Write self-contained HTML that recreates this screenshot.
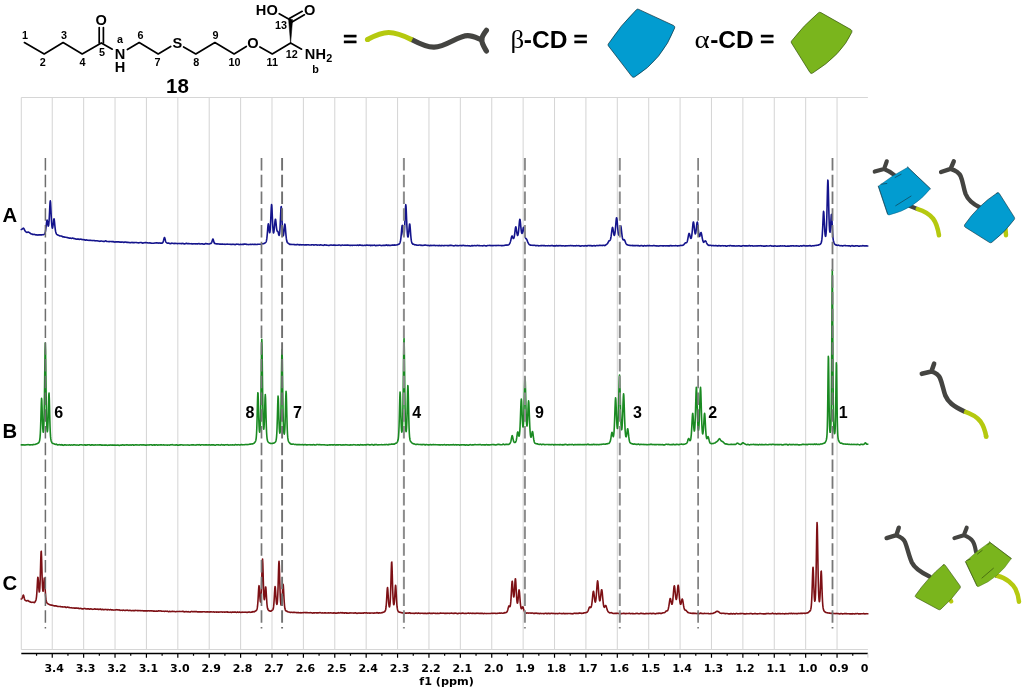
<!DOCTYPE html>
<html lang="en"><head><meta charset="utf-8"><title>NMR spectra of compound 18 with cyclodextrins</title>
<style>html,body{margin:0;padding:0;background:#fff}svg{display:block;will-change:transform}</style></head>
<body>
<svg width="1024" height="692" viewBox="0 0 1024 692">
<rect width="1024" height="692" fill="#fff"/>
<g stroke="#d6d6d6" stroke-width="1.05" fill="none">
<path d="M21.3 97.4H867.9 M21.3 649.5H867.9 M21.3 97.4V649.5"/>
<path d="M52.25 97.4V649.5 M83.64 97.4V649.5 M115.03 97.4V649.5 M146.43 97.4V649.5 M177.82 97.4V649.5 M209.21 97.4V649.5 M240.60 97.4V649.5 M271.99 97.4V649.5 M303.39 97.4V649.5 M334.78 97.4V649.5 M366.17 97.4V649.5 M397.56 97.4V649.5 M428.95 97.4V649.5 M460.35 97.4V649.5 M491.74 97.4V649.5 M523.13 97.4V649.5 M554.52 97.4V649.5 M585.91 97.4V649.5 M617.31 97.4V649.5 M648.70 97.4V649.5 M680.09 97.4V649.5 M711.48 97.4V649.5 M742.87 97.4V649.5 M774.27 97.4V649.5 M805.66 97.4V649.5 M837.05 97.4V649.5"/>
</g>
<g fill="none" stroke-width="1.6" stroke-linejoin="round" stroke-linecap="round">
<polyline stroke="#14148c" points="21.30,229.48 21.55,229.42 21.80,229.42 22.05,229.04 22.30,228.99 22.55,228.72 22.80,228.53 23.05,228.22 23.30,228.34 23.55,228.16 23.80,228.47 24.05,228.87 24.30,229.49 24.55,229.86 24.80,230.48 25.05,230.87 25.30,231.26 25.55,231.50 25.80,231.72 26.05,231.96 26.30,232.19 26.55,232.29 26.80,232.35 27.05,232.39 27.30,232.31 27.55,232.17 27.80,232.11 28.05,232.08 28.30,232.11 28.55,232.15 28.80,232.28 29.05,232.39 29.30,232.49 29.55,232.71 29.80,232.85 30.05,233.08 30.30,233.39 30.55,233.62 30.80,233.74 31.05,233.86 31.30,233.89 31.55,233.97 31.80,234.00 32.05,234.04 32.30,234.17 32.55,234.40 32.80,234.35 33.05,234.43 33.30,234.54 33.55,234.55 33.80,234.38 34.05,234.38 34.30,234.37 34.55,234.42 34.80,234.53 35.05,234.69 35.30,234.76 35.55,234.86 35.80,234.80 36.05,234.85 36.30,234.85 36.55,234.83 36.80,234.83 37.05,234.89 37.30,234.90 37.55,234.98 37.80,235.16 38.05,235.05 38.30,234.98 38.55,234.88 38.80,234.80 39.05,234.73 39.30,234.84 39.55,234.81 39.80,234.82 40.05,234.87 40.30,234.82 40.55,234.85 40.80,234.96 41.05,234.95 41.30,234.90 41.55,234.89 41.80,234.83 42.05,234.83 42.30,234.77 42.55,234.74 42.80,234.67 43.05,234.68 43.30,234.68 43.55,234.65 43.80,234.50 44.05,234.32 44.30,234.09 44.55,233.77 44.80,233.37 45.05,232.83 45.30,232.00 45.55,230.82 45.80,229.16 46.05,227.20 46.30,224.87 46.55,222.60 46.80,220.70 47.05,220.11 47.30,220.79 47.55,222.29 47.80,224.01 48.05,225.50 48.30,226.05 48.55,225.66 48.80,224.19 49.05,221.26 49.30,217.14 49.55,212.08 49.80,206.79 50.05,202.40 50.30,200.87 50.55,202.57 50.80,206.94 51.05,212.24 51.30,217.61 51.55,222.00 51.80,225.04 52.05,227.12 52.30,228.16 52.55,227.99 52.80,226.81 53.05,225.30 53.30,223.06 53.55,220.71 53.80,219.01 54.05,218.81 54.30,220.02 54.55,222.26 54.80,224.97 55.05,227.47 55.30,229.57 55.55,231.13 55.80,232.31 56.05,233.06 56.30,233.72 56.55,234.07 56.80,234.34 57.05,234.55 57.30,234.76 57.55,234.91 57.80,235.03 58.05,235.17 58.30,235.27 58.55,235.22 58.80,235.35 59.05,235.58 59.30,235.66 59.55,235.76 59.80,235.99 60.05,236.00 60.30,235.94 60.55,235.92 60.80,235.96 61.05,235.98 61.30,236.07 61.55,236.12 61.80,236.29 62.05,236.37 62.30,236.56 62.55,236.62 62.80,236.84 63.05,236.74 63.30,236.77 63.55,236.82 63.80,237.03 64.05,236.92 64.30,237.10 64.55,237.18 64.80,237.26 65.05,237.13 65.30,237.24 65.55,237.27 65.80,237.25 66.05,237.23 66.30,237.33 66.55,237.42 66.80,237.48 67.05,237.57 67.30,237.63 67.55,237.66 67.80,237.64 68.05,237.68 68.30,237.84 68.55,237.87 68.80,238.02 69.05,238.11 69.30,238.20 69.55,238.07 69.80,238.12 70.05,238.07 70.30,238.09 70.55,238.15 70.80,238.27 71.05,238.32 71.30,238.30 71.55,238.41 71.80,238.30 72.05,238.25 72.30,238.12 72.55,238.14 72.80,237.98 73.05,238.23 73.30,238.35 73.55,238.41 73.80,238.57 74.05,238.64 74.30,238.47 74.55,238.58 74.80,238.74 75.05,238.68 75.30,238.84 75.55,238.96 75.80,239.04 76.05,239.06 76.30,239.22 76.55,239.17 76.80,239.12 77.05,239.20 77.30,239.16 77.55,239.08 77.80,239.06 78.05,239.16 78.30,239.05 78.55,239.12 78.80,239.21 79.05,239.40 79.30,239.43 79.55,239.37 79.80,239.31 80.05,239.25 80.30,239.06 80.55,239.14 80.80,239.22 81.05,239.30 81.30,239.37 81.55,239.42 81.80,239.33 82.05,239.44 82.30,239.52 82.55,239.52 82.80,239.75 83.05,239.75 83.30,239.71 83.55,239.68 83.80,239.56 84.05,239.59 84.30,239.72 84.55,239.70 84.80,239.87 85.05,240.11 85.30,240.04 85.55,240.00 85.80,240.10 86.05,239.89 86.30,239.93 86.55,239.90 86.80,239.97 87.05,240.06 87.30,240.20 87.55,240.19 87.80,240.25 88.05,240.22 88.30,240.22 88.55,240.32 88.80,240.38 89.05,240.44 89.30,240.45 89.55,240.36 89.80,240.19 90.05,240.24 90.30,240.19 90.55,240.36 90.80,240.38 91.05,240.47 91.30,240.41 91.55,240.51 91.80,240.44 92.05,240.53 92.30,240.57 92.55,240.60 92.80,240.49 93.05,240.51 93.30,240.50 93.55,240.52 93.80,240.56 94.05,240.60 94.30,240.61 94.55,240.62 94.80,240.67 95.05,240.71 95.30,240.71 95.55,240.77 95.80,240.94 96.05,240.83 96.30,240.75 96.55,240.77 96.80,240.73 97.05,240.72 97.30,240.83 97.55,240.86 97.80,240.97 98.05,240.97 98.30,240.95 98.55,240.99 98.80,241.14 99.05,241.07 99.30,241.32 99.55,241.32 99.80,241.36 100.05,241.28 100.30,241.29 100.55,241.06 100.80,241.01 101.05,240.93 101.30,240.97 101.55,240.98 101.80,241.09 102.05,241.17 102.30,241.19 102.55,241.27 102.80,241.32 103.05,241.37 103.30,241.35 103.55,241.48 103.80,241.36 104.05,241.38 104.30,241.41 104.55,241.36 104.80,241.17 105.05,241.12 105.30,240.98 105.55,240.77 105.80,240.80 106.05,241.02 106.30,241.13 106.55,241.33 106.80,241.47 107.05,241.51 107.30,241.43 107.55,241.46 107.80,241.48 108.05,241.43 108.30,241.50 108.55,241.59 108.80,241.60 109.05,241.63 109.30,241.68 109.55,241.59 109.80,241.55 110.05,241.57 110.30,241.50 110.55,241.51 110.80,241.52 111.05,241.58 111.30,241.48 111.55,241.55 111.80,241.59 112.05,241.68 112.30,241.67 112.55,241.62 112.80,241.65 113.05,241.70 113.30,241.66 113.55,241.61 113.80,241.86 114.05,241.80 114.30,241.91 114.55,241.96 114.80,242.14 115.05,242.04 115.30,241.97 115.55,241.91 115.80,241.94 116.05,241.81 116.30,241.78 116.55,241.87 116.80,241.87 117.05,241.82 117.30,241.82 117.55,241.92 117.80,241.90 118.05,241.83 118.30,241.76 118.55,241.89 118.80,241.89 119.05,241.99 119.30,241.97 119.55,242.12 119.80,241.89 120.05,241.99 120.30,241.97 120.55,242.18 120.80,242.06 121.05,242.19 121.30,242.17 121.55,242.26 121.80,242.10 122.05,242.20 122.30,242.07 122.55,242.00 122.80,241.96 123.05,242.07 123.30,242.06 123.55,242.33 123.80,242.51 124.05,242.48 124.30,242.27 124.55,242.18 124.80,242.01 125.05,241.98 125.30,242.01 125.55,242.04 125.80,242.15 126.05,242.31 126.30,242.22 126.55,242.16 126.80,242.44 127.05,242.46 127.30,242.34 127.55,242.39 127.80,242.45 128.05,242.30 128.30,242.38 128.55,242.49 128.80,242.53 129.05,242.54 129.30,242.64 129.55,242.57 129.80,242.54 130.05,242.56 130.30,242.63 130.55,242.68 130.80,242.72 131.05,242.59 131.30,242.45 131.55,242.50 131.80,242.37 132.05,242.37 132.30,242.43 132.55,242.58 132.80,242.48 133.05,242.60 133.30,242.55 133.55,242.68 133.80,242.67 134.05,242.65 134.30,242.64 134.55,242.62 134.80,242.51 135.05,242.52 135.30,242.53 135.55,242.43 135.80,242.47 136.05,242.47 136.30,242.50 136.55,242.58 136.80,242.62 137.05,242.65 137.30,242.75 137.55,242.80 137.80,242.82 138.05,242.80 138.30,242.87 138.55,242.84 138.80,242.72 139.05,242.79 139.30,242.80 139.55,242.73 139.80,242.62 140.05,242.55 140.30,242.46 140.55,242.45 140.80,242.52 141.05,242.58 141.30,242.63 141.55,242.65 141.80,242.80 142.05,242.81 142.30,242.96 142.55,243.13 142.80,243.16 143.05,243.01 143.30,242.98 143.55,242.95 143.80,242.82 144.05,242.78 144.30,242.75 144.55,242.71 144.80,242.71 145.05,242.60 145.30,242.51 145.55,242.61 145.80,242.56 146.05,242.54 146.30,242.63 146.55,242.69 146.80,242.68 147.05,242.81 147.30,242.78 147.55,242.84 147.80,242.83 148.05,242.89 148.30,242.99 148.55,243.04 148.80,243.05 149.05,243.02 149.30,243.04 149.55,242.89 149.80,242.83 150.05,242.86 150.30,242.95 150.55,242.98 150.80,243.13 151.05,243.15 151.30,243.13 151.55,243.24 151.80,243.23 152.05,243.19 152.30,243.31 152.55,243.27 152.80,243.21 153.05,243.24 153.30,243.30 153.55,243.17 153.80,243.20 154.05,243.19 154.30,243.08 154.55,242.96 154.80,243.06 155.05,243.06 155.30,242.92 155.55,242.97 155.80,242.97 156.05,242.88 156.30,242.81 156.55,242.99 156.80,242.83 157.05,242.75 157.30,242.78 157.55,242.96 157.80,242.98 158.05,243.05 158.30,243.15 158.55,243.07 158.80,243.06 159.05,242.88 159.30,242.94 159.55,243.02 159.80,243.09 160.05,243.12 160.30,243.15 160.55,243.17 160.80,243.14 161.05,243.13 161.30,243.10 161.55,243.16 161.80,242.99 162.05,243.12 162.30,243.08 162.55,242.83 162.80,242.45 163.05,242.14 163.30,241.24 163.55,240.40 163.80,239.39 164.05,238.52 164.30,237.70 164.55,237.54 164.80,238.03 165.05,238.98 165.30,239.94 165.55,240.98 165.80,241.76 166.05,242.24 166.30,242.53 166.55,242.76 166.80,242.91 167.05,242.95 167.30,243.16 167.55,243.23 167.80,243.29 168.05,243.08 168.30,243.07 168.55,242.96 168.80,243.07 169.05,243.18 169.30,243.36 169.55,243.51 169.80,243.58 170.05,243.63 170.30,243.50 170.55,243.59 170.80,243.44 171.05,243.44 171.30,243.32 171.55,243.33 171.80,243.16 172.05,243.20 172.30,243.20 172.55,243.26 172.80,243.21 173.05,243.41 173.30,243.47 173.55,243.52 173.80,243.58 174.05,243.63 174.30,243.42 174.55,243.34 174.80,243.36 175.05,243.25 175.30,243.35 175.55,243.44 175.80,243.53 176.05,243.34 176.30,243.49 176.55,243.44 176.80,243.54 177.05,243.53 177.30,243.70 177.55,243.63 177.80,243.68 178.05,243.53 178.30,243.46 178.55,243.46 178.80,243.46 179.05,243.41 179.30,243.50 179.55,243.60 179.80,243.52 180.05,243.56 180.30,243.52 180.55,243.51 180.80,243.55 181.05,243.66 181.30,243.56 181.55,243.68 181.80,243.64 182.05,243.63 182.30,243.44 182.55,243.45 182.80,243.37 183.05,243.43 183.30,243.47 183.55,243.66 183.80,243.83 184.05,243.95 184.30,243.95 184.55,243.84 184.80,243.86 185.05,243.76 185.30,243.68 185.55,243.62 185.80,243.63 186.05,243.39 186.30,243.36 186.55,243.31 186.80,243.44 187.05,243.43 187.30,243.59 187.55,243.71 187.80,243.71 188.05,243.69 188.30,243.60 188.55,243.63 188.80,243.57 189.05,243.70 189.30,243.63 189.55,243.77 189.80,243.79 190.05,243.77 190.30,243.73 190.55,243.82 190.80,243.82 191.05,243.74 191.30,243.67 191.55,243.83 191.80,243.92 192.05,243.81 192.30,243.91 192.55,244.03 192.80,243.92 193.05,243.81 193.30,243.85 193.55,243.81 193.80,243.74 194.05,243.70 194.30,243.68 194.55,243.74 194.80,243.82 195.05,243.93 195.30,243.85 195.55,243.84 195.80,243.80 196.05,243.82 196.30,243.74 196.55,243.91 196.80,243.91 197.05,243.97 197.30,243.81 197.55,243.90 197.80,243.79 198.05,243.73 198.30,243.69 198.55,243.63 198.80,243.55 199.05,243.58 199.30,243.70 199.55,243.84 199.80,243.97 200.05,244.03 200.30,244.04 200.55,244.01 200.80,243.79 201.05,243.87 201.30,243.79 201.55,243.77 201.80,243.71 202.05,243.86 202.30,243.81 202.55,243.85 202.80,243.84 203.05,243.99 203.30,244.04 203.55,244.08 203.80,244.29 204.05,244.26 204.30,244.17 204.55,244.05 204.80,244.03 205.05,243.78 205.30,243.64 205.55,243.59 205.80,243.66 206.05,243.70 206.30,243.64 206.55,243.78 206.80,243.85 207.05,243.79 207.30,243.76 207.55,243.86 207.80,243.91 208.05,243.87 208.30,244.01 208.55,243.97 208.80,244.04 209.05,243.98 209.30,244.05 209.55,243.89 209.80,243.81 210.05,243.65 210.30,243.63 210.55,243.52 210.80,243.56 211.05,243.39 211.30,243.10 211.55,242.80 211.80,242.26 212.05,241.27 212.30,240.49 212.55,239.72 212.80,238.96 213.05,238.96 213.30,239.70 213.55,240.60 213.80,241.53 214.05,242.41 214.30,243.06 214.55,243.43 214.80,243.58 215.05,243.61 215.30,243.74 215.55,243.61 215.80,243.71 216.05,243.73 216.30,243.79 216.55,243.81 216.80,244.04 217.05,243.89 217.30,243.92 217.55,243.96 217.80,243.90 218.05,243.89 218.30,243.89 218.55,243.97 218.80,244.00 219.05,244.05 219.30,244.08 219.55,244.14 219.80,244.19 220.05,244.12 220.30,244.17 220.55,244.09 220.80,244.22 221.05,244.21 221.30,244.16 221.55,244.11 221.80,244.13 222.05,244.07 222.30,243.97 222.55,244.19 222.80,244.22 223.05,244.32 223.30,244.31 223.55,244.29 223.80,244.18 224.05,244.14 224.30,244.20 224.55,244.25 224.80,244.40 225.05,244.38 225.30,244.39 225.55,244.24 225.80,244.25 226.05,244.24 226.30,244.25 226.55,244.23 226.80,244.16 227.05,244.14 227.30,244.12 227.55,244.16 227.80,244.21 228.05,244.24 228.30,244.26 228.55,244.26 228.80,244.23 229.05,244.24 229.30,244.28 229.55,244.33 229.80,244.27 230.05,244.28 230.30,244.30 230.55,244.36 230.80,244.40 231.05,244.48 231.30,244.50 231.55,244.39 231.80,244.38 232.05,244.44 232.30,244.34 232.55,244.24 232.80,244.32 233.05,244.35 233.30,244.24 233.55,244.27 233.80,244.33 234.05,244.42 234.30,244.40 234.55,244.52 234.80,244.62 235.05,244.64 235.30,244.62 235.55,244.56 235.80,244.34 236.05,244.29 236.30,244.30 236.55,244.17 236.80,244.16 237.05,244.21 237.30,244.21 237.55,244.17 237.80,244.29 238.05,244.33 238.30,244.42 238.55,244.30 238.80,244.42 239.05,244.49 239.30,244.49 239.55,244.46 239.80,244.61 240.05,244.46 240.30,244.38 240.55,244.43 240.80,244.41 241.05,244.44 241.30,244.50 241.55,244.49 241.80,244.39 242.05,244.35 242.30,244.26 242.55,244.36 242.80,244.37 243.05,244.36 243.30,244.41 243.55,244.43 243.80,244.13 244.05,244.14 244.30,244.11 244.55,244.12 244.80,244.07 245.05,244.18 245.30,244.18 245.55,244.18 245.80,244.12 246.05,244.19 246.30,244.33 246.55,244.35 246.80,244.44 247.05,244.42 247.30,244.53 247.55,244.45 247.80,244.52 248.05,244.49 248.30,244.62 248.55,244.56 248.80,244.54 249.05,244.44 249.30,244.52 249.55,244.49 249.80,244.41 250.05,244.50 250.30,244.45 250.55,244.33 250.80,244.34 251.05,244.32 251.30,244.39 251.55,244.45 251.80,244.47 252.05,244.39 252.30,244.41 252.55,244.26 252.80,244.26 253.05,244.28 253.30,244.39 253.55,244.47 253.80,244.46 254.05,244.43 254.30,244.44 254.55,244.23 254.80,244.23 255.05,244.35 255.30,244.40 255.55,244.39 255.80,244.55 256.05,244.47 256.30,244.47 256.55,244.52 256.80,244.55 257.05,244.39 257.30,244.37 257.55,244.35 257.80,244.30 258.05,244.21 258.30,244.28 258.55,244.31 258.80,244.28 259.05,244.25 259.30,244.25 259.55,244.23 259.80,244.26 260.05,244.24 260.30,244.20 260.55,244.31 260.80,244.33 261.05,244.27 261.30,244.21 261.55,244.07 261.80,243.88 262.05,243.85 262.30,243.77 262.55,243.71 262.80,243.78 263.05,243.76 263.30,243.71 263.55,243.66 263.80,243.58 264.05,243.33 264.30,243.40 264.55,243.31 264.80,243.02 265.05,242.90 265.30,242.89 265.55,242.54 265.80,242.24 266.05,241.87 266.30,241.21 266.55,240.14 266.80,238.63 267.05,236.51 267.30,233.94 267.55,230.89 267.80,227.67 268.05,225.06 268.30,223.90 268.55,224.53 268.80,226.52 269.05,229.08 269.30,231.35 269.55,232.65 269.80,232.63 270.05,231.28 270.30,228.40 270.55,223.94 270.80,218.39 271.05,212.36 271.30,207.20 271.55,204.53 271.80,205.56 272.05,209.82 272.30,215.73 272.55,221.54 272.80,226.47 273.05,230.19 273.30,232.36 273.55,233.05 273.80,232.44 274.05,231.00 274.30,228.77 274.55,225.98 274.80,223.27 275.05,220.84 275.30,219.28 275.55,219.23 275.80,220.75 276.05,223.06 276.30,225.71 276.55,228.06 276.80,229.82 277.05,230.85 277.30,231.18 277.55,231.28 277.80,231.34 278.05,231.81 278.30,232.80 278.55,234.00 278.80,234.95 279.05,235.42 279.30,235.21 279.55,233.82 279.80,231.40 280.05,227.38 280.30,222.32 280.55,216.44 280.80,210.75 281.05,206.92 281.30,206.63 281.55,209.82 281.80,215.07 282.05,221.02 282.30,226.38 282.55,230.66 282.80,233.68 283.05,235.33 283.30,235.75 283.55,234.99 283.80,233.13 284.05,230.59 284.30,227.91 284.55,225.53 284.80,224.12 285.05,224.72 285.30,226.90 285.55,229.94 285.80,233.05 286.05,235.94 286.30,238.16 286.55,239.87 286.80,241.05 287.05,241.90 287.30,242.44 287.55,242.74 287.80,243.00 288.05,243.18 288.30,243.19 288.55,243.35 288.80,243.66 289.05,243.92 289.30,244.15 289.55,244.30 289.80,244.41 290.05,244.44 290.30,244.21 290.55,244.21 290.80,244.34 291.05,244.32 291.30,244.30 291.55,244.46 291.80,244.54 292.05,244.50 292.30,244.50 292.55,244.50 292.80,244.54 293.05,244.34 293.30,244.47 293.55,244.52 293.80,244.57 294.05,244.58 294.30,244.70 294.55,244.60 294.80,244.61 295.05,244.59 295.30,244.66 295.55,244.71 295.80,244.73 296.05,244.87 296.30,244.78 296.55,244.63 296.80,244.64 297.05,244.65 297.30,244.42 297.55,244.49 297.80,244.53 298.05,244.59 298.30,244.57 298.55,244.76 298.80,244.82 299.05,244.85 299.30,244.79 299.55,244.86 299.80,244.65 300.05,244.65 300.30,244.65 300.55,244.77 300.80,244.70 301.05,244.93 301.30,244.75 301.55,244.83 301.80,244.74 302.05,244.77 302.30,244.70 302.55,244.84 302.80,244.82 303.05,244.80 303.30,244.71 303.55,244.71 303.80,244.87 304.05,244.85 304.30,244.88 304.55,244.97 304.80,245.00 305.05,244.87 305.30,244.86 305.55,244.90 305.80,244.87 306.05,244.85 306.30,244.88 306.55,244.88 306.80,244.75 307.05,244.85 307.30,244.80 307.55,244.74 307.80,244.71 308.05,244.78 308.30,244.72 308.55,244.76 308.80,244.83 309.05,245.00 309.30,244.99 309.55,245.05 309.80,245.06 310.05,245.03 310.30,244.99 310.55,245.02 310.80,244.93 311.05,244.91 311.30,244.87 311.55,244.80 311.80,244.85 312.05,244.82 312.30,244.81 312.55,244.79 312.80,244.68 313.05,244.71 313.30,244.80 313.55,244.99 313.80,244.96 314.05,245.16 314.30,245.03 314.55,245.01 314.80,244.83 315.05,244.86 315.30,244.69 315.55,244.75 315.80,244.70 316.05,244.75 316.30,244.81 316.55,244.94 316.80,244.94 317.05,245.04 317.30,245.09 317.55,245.09 317.80,245.08 318.05,245.01 318.30,244.94 318.55,245.03 318.80,245.04 319.05,244.97 319.30,245.12 319.55,245.16 319.80,245.00 320.05,244.91 320.30,245.01 320.55,244.85 320.80,244.83 321.05,244.92 321.30,245.02 321.55,244.97 321.80,245.03 322.05,245.14 322.30,245.24 322.55,245.20 322.80,245.24 323.05,245.38 323.30,245.38 323.55,245.19 323.80,245.20 324.05,245.13 324.30,244.95 324.55,244.84 324.80,244.90 325.05,244.89 325.30,244.99 325.55,245.06 325.80,245.08 326.05,245.12 326.30,245.18 326.55,245.14 326.80,245.20 327.05,245.26 327.30,245.20 327.55,245.24 327.80,245.25 328.05,245.37 328.30,245.41 328.55,245.49 328.80,245.51 329.05,245.50 329.30,245.40 329.55,245.33 329.80,245.21 330.05,245.09 330.30,245.12 330.55,244.94 330.80,244.95 331.05,244.96 331.30,245.04 331.55,244.96 331.80,245.18 332.05,245.22 332.30,245.19 332.55,245.26 332.80,245.29 333.05,245.13 333.30,245.01 333.55,245.13 333.80,245.12 334.05,245.10 334.30,245.08 334.55,245.08 334.80,245.14 335.05,245.15 335.30,245.16 335.55,245.26 335.80,245.34 336.05,245.24 336.30,245.20 336.55,245.25 336.80,245.24 337.05,245.22 337.30,245.28 337.55,245.20 337.80,245.18 338.05,245.17 338.30,245.11 338.55,245.04 338.80,245.04 339.05,245.05 339.30,244.96 339.55,244.97 339.80,245.09 340.05,245.19 340.30,245.24 340.55,245.43 340.80,245.53 341.05,245.42 341.30,245.38 341.55,245.21 341.80,245.02 342.05,245.04 342.30,245.05 342.55,244.94 342.80,245.11 343.05,245.24 343.30,245.24 343.55,245.23 343.80,245.26 344.05,245.23 344.30,245.19 344.55,245.13 344.80,245.17 345.05,245.25 345.30,245.26 345.55,245.11 345.80,245.20 346.05,245.27 346.30,245.23 346.55,245.11 346.80,245.29 347.05,245.19 347.30,245.02 347.55,245.12 347.80,245.13 348.05,245.14 348.30,245.09 348.55,245.24 348.80,245.20 349.05,245.27 349.30,245.24 349.55,245.36 349.80,245.32 350.05,245.34 350.30,245.39 350.55,245.35 350.80,245.36 351.05,245.22 351.30,245.24 351.55,245.26 351.80,245.38 352.05,245.30 352.30,245.40 352.55,245.39 352.80,245.36 353.05,245.24 353.30,245.30 353.55,245.29 353.80,245.30 354.05,245.24 354.30,245.29 354.55,245.29 354.80,245.34 355.05,245.27 355.30,245.32 355.55,245.30 355.80,245.28 356.05,245.23 356.30,245.22 356.55,245.39 356.80,245.34 357.05,245.27 357.30,245.22 357.55,245.19 357.80,245.01 358.05,245.16 358.30,245.35 358.55,245.41 358.80,245.30 359.05,245.32 359.30,245.15 359.55,245.01 359.80,244.92 360.05,245.11 360.30,245.05 360.55,245.18 360.80,245.25 361.05,245.31 361.30,245.28 361.55,245.38 361.80,245.31 362.05,245.34 362.30,245.36 362.55,245.37 362.80,245.36 363.05,245.47 363.30,245.45 363.55,245.45 363.80,245.48 364.05,245.33 364.30,245.36 364.55,245.24 364.80,245.29 365.05,245.21 365.30,245.34 365.55,245.23 365.80,245.34 366.05,245.23 366.30,245.13 366.55,245.12 366.80,245.09 367.05,245.03 367.30,245.04 367.55,245.30 367.80,245.24 368.05,245.30 368.30,245.27 368.55,245.41 368.80,245.25 369.05,245.12 369.30,245.28 369.55,245.28 369.80,245.27 370.05,245.35 370.30,245.56 370.55,245.37 370.80,245.46 371.05,245.45 371.30,245.39 371.55,245.36 371.80,245.44 372.05,245.43 372.30,245.33 372.55,245.44 372.80,245.44 373.05,245.38 373.30,245.32 373.55,245.29 373.80,245.25 374.05,245.29 374.30,245.16 374.55,245.17 374.80,245.30 375.05,245.40 375.30,245.47 375.55,245.67 375.80,245.80 376.05,245.71 376.30,245.60 376.55,245.38 376.80,245.29 377.05,245.22 377.30,245.39 377.55,245.39 377.80,245.49 378.05,245.51 378.30,245.41 378.55,245.31 378.80,245.24 379.05,245.24 379.30,245.19 379.55,245.28 379.80,245.15 380.05,245.20 380.30,245.27 380.55,245.38 380.80,245.51 381.05,245.63 381.30,245.63 381.55,245.58 381.80,245.46 382.05,245.47 382.30,245.51 382.55,245.46 382.80,245.37 383.05,245.46 383.30,245.38 383.55,245.32 383.80,245.35 384.05,245.39 384.30,245.35 384.55,245.38 384.80,245.46 385.05,245.35 385.30,245.37 385.55,245.30 385.80,245.12 386.05,245.07 386.30,245.11 386.55,244.90 386.80,245.01 387.05,245.18 387.30,245.27 387.55,245.30 387.80,245.59 388.05,245.37 388.30,245.22 388.55,245.12 388.80,245.17 389.05,245.16 389.30,245.39 389.55,245.45 389.80,245.51 390.05,245.52 390.30,245.54 390.55,245.42 390.80,245.44 391.05,245.31 391.30,245.31 391.55,245.18 391.80,245.20 392.05,245.09 392.30,245.13 392.55,245.14 392.80,245.21 393.05,245.02 393.30,244.99 393.55,245.09 393.80,244.99 394.05,244.91 394.30,245.16 394.55,245.26 394.80,245.07 395.05,245.05 395.30,245.16 395.55,244.97 395.80,245.02 396.05,245.01 396.30,244.97 396.55,244.93 396.80,244.94 397.05,244.87 397.30,244.81 397.55,244.68 397.80,244.48 398.05,244.52 398.30,244.37 398.55,244.33 398.80,244.31 399.05,244.17 399.30,243.88 399.55,243.65 399.80,243.12 400.05,242.54 400.30,241.62 400.55,240.47 400.80,238.79 401.05,236.59 401.30,233.86 401.55,230.85 401.80,227.86 402.05,225.74 402.30,225.44 402.55,226.83 402.80,229.19 403.05,231.75 403.30,234.06 403.55,235.29 403.80,235.43 404.05,234.49 404.30,232.31 404.55,228.55 404.80,223.64 405.05,217.69 405.30,211.58 405.55,206.60 405.80,204.68 406.05,206.59 406.30,211.70 406.55,217.92 406.80,223.97 407.05,229.04 407.30,233.00 407.55,235.54 407.80,236.87 408.05,236.96 408.30,236.05 408.55,234.20 408.80,231.57 409.05,228.61 409.30,225.79 409.55,223.98 409.80,223.98 410.05,226.00 410.30,229.16 410.55,232.64 410.80,235.78 411.05,238.48 411.30,240.39 411.55,241.65 411.80,242.63 412.05,243.28 412.30,243.52 412.55,243.82 412.80,244.08 413.05,244.06 413.30,244.05 413.55,244.26 413.80,244.36 414.05,244.46 414.30,244.56 414.55,244.74 414.80,244.83 415.05,244.74 415.30,244.75 415.55,244.89 415.80,245.00 416.05,244.84 416.30,244.97 416.55,245.12 416.80,245.09 417.05,245.04 417.30,245.28 417.55,245.24 417.80,245.20 418.05,245.29 418.30,245.22 418.55,245.18 418.80,245.15 419.05,245.15 419.30,245.02 419.55,245.02 419.80,244.95 420.05,245.00 420.30,245.03 420.55,245.15 420.80,245.29 421.05,245.44 421.30,245.45 421.55,245.34 421.80,245.29 422.05,245.33 422.30,245.37 422.55,245.44 422.80,245.44 423.05,245.47 423.30,245.35 423.55,245.30 423.80,245.22 424.05,245.25 424.30,245.21 424.55,245.17 424.80,244.96 425.05,244.98 425.30,245.01 425.55,245.07 425.80,245.18 426.05,245.28 426.30,245.28 426.55,245.20 426.80,245.24 427.05,245.38 427.30,245.45 427.55,245.42 427.80,245.57 428.05,245.50 428.30,245.41 428.55,245.39 428.80,245.49 429.05,245.63 429.30,245.64 429.55,245.57 429.80,245.63 430.05,245.62 430.30,245.38 430.55,245.39 430.80,245.46 431.05,245.51 431.30,245.45 431.55,245.41 431.80,245.57 432.05,245.44 432.30,245.42 432.55,245.51 432.80,245.52 433.05,245.45 433.30,245.47 433.55,245.36 433.80,245.24 434.05,245.37 434.30,245.29 434.55,245.44 434.80,245.45 435.05,245.58 435.30,245.62 435.55,245.65 435.80,245.51 436.05,245.54 436.30,245.58 436.55,245.54 436.80,245.52 437.05,245.48 437.30,245.55 437.55,245.58 437.80,245.64 438.05,245.69 438.30,245.79 438.55,245.70 438.80,245.56 439.05,245.35 439.30,245.46 439.55,245.47 439.80,245.67 440.05,245.71 440.30,245.71 440.55,245.69 440.80,245.64 441.05,245.46 441.30,245.57 441.55,245.77 441.80,245.52 442.05,245.58 442.30,245.54 442.55,245.47 442.80,245.49 443.05,245.59 443.30,245.69 443.55,245.70 443.80,245.80 444.05,245.64 444.30,245.64 444.55,245.56 444.80,245.54 445.05,245.50 445.30,245.48 445.55,245.55 445.80,245.45 446.05,245.55 446.30,245.45 446.55,245.49 446.80,245.49 447.05,245.50 447.30,245.59 447.55,245.60 447.80,245.45 448.05,245.55 448.30,245.65 448.55,245.65 448.80,245.63 449.05,245.67 449.30,245.51 449.55,245.40 449.80,245.30 450.05,245.28 450.30,245.44 450.55,245.36 450.80,245.44 451.05,245.41 451.30,245.49 451.55,245.37 451.80,245.45 452.05,245.56 452.30,245.51 452.55,245.52 452.80,245.71 453.05,245.74 453.30,245.70 453.55,245.84 453.80,245.89 454.05,245.79 454.30,245.78 454.55,245.77 454.80,245.66 455.05,245.56 455.30,245.54 455.55,245.40 455.80,245.37 456.05,245.52 456.30,245.50 456.55,245.55 456.80,245.67 457.05,245.60 457.30,245.50 457.55,245.60 457.80,245.73 458.05,245.81 458.30,245.80 458.55,245.70 458.80,245.72 459.05,245.60 459.30,245.51 459.55,245.50 459.80,245.54 460.05,245.54 460.30,245.51 460.55,245.46 460.80,245.59 461.05,245.66 461.30,245.56 461.55,245.60 461.80,245.64 462.05,245.65 462.30,245.54 462.55,245.50 462.80,245.37 463.05,245.40 463.30,245.29 463.55,245.36 463.80,245.42 464.05,245.54 464.30,245.58 464.55,245.64 464.80,245.77 465.05,245.75 465.30,245.62 465.55,245.68 465.80,245.78 466.05,245.69 466.30,245.76 466.55,245.81 466.80,245.76 467.05,245.69 467.30,245.70 467.55,245.61 467.80,245.76 468.05,245.76 468.30,245.78 468.55,245.78 468.80,245.87 469.05,245.83 469.30,245.80 469.55,245.80 469.80,245.91 470.05,245.98 470.30,245.97 470.55,246.09 470.80,245.96 471.05,245.91 471.30,245.79 471.55,245.63 471.80,245.53 472.05,245.68 472.30,245.54 472.55,245.66 472.80,245.86 473.05,245.77 473.30,245.77 473.55,245.82 473.80,245.66 474.05,245.55 474.30,245.61 474.55,245.47 474.80,245.43 475.05,245.51 475.30,245.62 475.55,245.74 475.80,245.79 476.05,245.81 476.30,245.71 476.55,245.68 476.80,245.48 477.05,245.43 477.30,245.40 477.55,245.47 477.80,245.39 478.05,245.49 478.30,245.58 478.55,245.64 478.80,245.56 479.05,245.56 479.30,245.59 479.55,245.61 479.80,245.66 480.05,245.68 480.30,245.76 480.55,245.82 480.80,245.79 481.05,245.74 481.30,245.80 481.55,245.77 481.80,245.71 482.05,245.81 482.30,245.82 482.55,245.87 482.80,245.85 483.05,245.76 483.30,245.69 483.55,245.65 483.80,245.55 484.05,245.47 484.30,245.53 484.55,245.47 484.80,245.61 485.05,245.75 485.30,245.79 485.55,245.84 485.80,245.96 486.05,245.81 486.30,245.83 486.55,245.91 486.80,245.85 487.05,245.66 487.30,245.61 487.55,245.51 487.80,245.43 488.05,245.43 488.30,245.50 488.55,245.57 488.80,245.52 489.05,245.45 489.30,245.43 489.55,245.44 489.80,245.33 490.05,245.45 490.30,245.54 490.55,245.54 490.80,245.62 491.05,245.72 491.30,245.67 491.55,245.58 491.80,245.54 492.05,245.52 492.30,245.62 492.55,245.57 492.80,245.68 493.05,245.69 493.30,245.65 493.55,245.51 493.80,245.50 494.05,245.53 494.30,245.45 494.55,245.47 494.80,245.46 495.05,245.42 495.30,245.45 495.55,245.59 495.80,245.64 496.05,245.57 496.30,245.59 496.55,245.48 496.80,245.42 497.05,245.39 497.30,245.56 497.55,245.51 497.80,245.47 498.05,245.43 498.30,245.47 498.55,245.37 498.80,245.43 499.05,245.47 499.30,245.48 499.55,245.43 499.80,245.48 500.05,245.54 500.30,245.55 500.55,245.58 500.80,245.52 501.05,245.58 501.30,245.58 501.55,245.58 501.80,245.64 502.05,245.63 502.30,245.66 502.55,245.54 502.80,245.51 503.05,245.44 503.30,245.57 503.55,245.44 503.80,245.53 504.05,245.54 504.30,245.47 504.55,245.39 504.80,245.33 505.05,245.16 505.30,245.12 505.55,245.21 505.80,245.25 506.05,245.18 506.30,245.09 506.55,245.15 506.80,245.09 507.05,244.90 507.30,244.98 507.55,245.11 507.80,245.12 508.05,245.03 508.30,245.06 508.55,244.91 508.80,244.70 509.05,244.44 509.30,244.15 509.55,243.68 509.80,243.37 510.05,242.74 510.30,242.04 510.55,241.26 510.80,240.35 511.05,239.13 511.30,238.04 511.55,237.01 511.80,236.25 512.05,235.96 512.30,236.22 512.55,236.80 512.80,237.42 513.05,238.12 513.30,238.49 513.55,238.51 513.80,238.23 514.05,237.56 514.30,236.46 514.55,234.99 514.80,233.04 515.05,230.90 515.30,228.95 515.55,227.41 515.80,226.71 516.05,227.34 516.30,228.74 516.55,230.57 516.80,232.32 517.05,233.89 517.30,234.89 517.55,235.46 517.80,235.28 518.05,234.57 518.30,233.21 518.55,231.30 518.80,228.71 519.05,225.83 519.30,223.00 519.55,220.70 519.80,219.38 520.05,219.46 520.30,221.06 520.55,223.55 520.80,226.31 521.05,228.93 521.30,231.17 521.55,232.67 521.80,233.32 522.05,233.44 522.30,232.85 522.55,231.77 522.80,230.39 523.05,228.95 523.30,227.78 523.55,227.31 523.80,227.82 524.05,229.05 524.30,230.89 524.55,232.76 524.80,234.70 525.05,236.04 525.30,237.22 525.55,238.04 525.80,238.50 526.05,238.68 526.30,238.89 526.55,239.20 526.80,239.53 527.05,240.19 527.30,240.85 527.55,241.59 527.80,242.11 528.05,242.72 528.30,243.19 528.55,243.60 528.80,244.01 529.05,244.30 529.30,244.64 529.55,244.75 529.80,244.81 530.05,244.94 530.30,245.15 530.55,245.11 530.80,245.14 531.05,245.30 531.30,245.20 531.55,245.21 531.80,245.16 532.05,245.21 532.30,245.18 532.55,245.34 532.80,245.19 533.05,245.32 533.30,245.33 533.55,245.35 533.80,245.23 534.05,245.28 534.30,245.25 534.55,245.26 534.80,245.37 535.05,245.44 535.30,245.54 535.55,245.62 535.80,245.54 536.05,245.51 536.30,245.57 536.55,245.63 536.80,245.57 537.05,245.61 537.30,245.50 537.55,245.47 537.80,245.45 538.05,245.56 538.30,245.74 538.55,245.87 538.80,245.86 539.05,245.85 539.30,245.76 539.55,245.73 539.80,245.72 540.05,245.74 540.30,245.64 540.55,245.73 540.80,245.57 541.05,245.61 541.30,245.66 541.55,245.65 541.80,245.58 542.05,245.60 542.30,245.52 542.55,245.49 542.80,245.59 543.05,245.51 543.30,245.61 543.55,245.64 543.80,245.60 544.05,245.55 544.30,245.61 544.55,245.62 544.80,245.59 545.05,245.73 545.30,245.82 545.55,245.83 545.80,245.84 546.05,245.78 546.30,245.68 546.55,245.77 546.80,245.73 547.05,245.72 547.30,245.84 547.55,245.70 547.80,245.71 548.05,245.70 548.30,245.66 548.55,245.64 548.80,245.73 549.05,245.68 549.30,245.76 549.55,245.82 549.80,245.80 550.05,245.91 550.30,245.73 550.55,245.74 550.80,245.69 551.05,245.63 551.30,245.48 551.55,245.57 551.80,245.59 552.05,245.55 552.30,245.60 552.55,245.67 552.80,245.64 553.05,245.67 553.30,245.89 553.55,245.86 553.80,245.90 554.05,245.95 554.30,245.92 554.55,245.75 554.80,245.94 555.05,245.86 555.30,245.93 555.55,245.93 555.80,245.88 556.05,245.60 556.30,245.66 556.55,245.66 556.80,245.59 557.05,245.62 557.30,245.82 557.55,245.84 557.80,245.85 558.05,245.90 558.30,245.89 558.55,245.75 558.80,245.57 559.05,245.50 559.30,245.61 559.55,245.69 559.80,245.77 560.05,245.80 560.30,245.76 560.55,245.64 560.80,245.59 561.05,245.66 561.30,245.74 561.55,245.83 561.80,245.82 562.05,245.83 562.30,245.85 562.55,245.81 562.80,245.75 563.05,245.68 563.30,245.69 563.55,245.68 563.80,245.77 564.05,245.84 564.30,245.99 564.55,246.02 564.80,246.01 565.05,245.99 565.30,245.88 565.55,245.85 565.80,245.87 566.05,245.76 566.30,245.75 566.55,245.88 566.80,245.83 567.05,245.68 567.30,245.74 567.55,245.83 567.80,245.70 568.05,245.72 568.30,245.76 568.55,245.73 568.80,245.64 569.05,245.80 569.30,245.76 569.55,245.76 569.80,245.73 570.05,245.64 570.30,245.45 570.55,245.44 570.80,245.48 571.05,245.54 571.30,245.68 571.55,245.73 571.80,245.73 572.05,245.69 572.30,245.70 572.55,245.62 572.80,245.72 573.05,245.72 573.30,245.83 573.55,245.88 573.80,245.87 574.05,245.78 574.30,245.84 574.55,245.73 574.80,245.80 575.05,245.83 575.30,245.92 575.55,245.82 575.80,245.76 576.05,245.68 576.30,245.70 576.55,245.60 576.80,245.65 577.05,245.72 577.30,245.69 577.55,245.71 577.80,245.66 578.05,245.73 578.30,245.72 578.55,245.67 578.80,245.60 579.05,245.61 579.30,245.76 579.55,245.97 579.80,246.05 580.05,246.11 580.30,246.13 580.55,246.10 580.80,245.94 581.05,245.89 581.30,245.92 581.55,246.00 581.80,245.80 582.05,245.79 582.30,245.77 582.55,245.70 582.80,245.71 583.05,245.80 583.30,245.89 583.55,245.92 583.80,245.97 584.05,246.05 584.30,245.93 584.55,245.90 584.80,245.83 585.05,245.67 585.30,245.66 585.55,245.81 585.80,245.80 586.05,245.84 586.30,246.03 586.55,245.84 586.80,245.77 587.05,245.76 587.30,245.88 587.55,245.68 587.80,245.57 588.05,245.57 588.30,245.56 588.55,245.49 588.80,245.53 589.05,245.72 589.30,245.62 589.55,245.62 589.80,245.67 590.05,245.67 590.30,245.55 590.55,245.64 590.80,245.59 591.05,245.53 591.30,245.66 591.55,245.79 591.80,245.93 592.05,245.97 592.30,245.90 592.55,245.89 592.80,245.87 593.05,245.71 593.30,245.70 593.55,245.77 593.80,245.60 594.05,245.55 594.30,245.65 594.55,245.64 594.80,245.67 595.05,245.83 595.30,246.00 595.55,245.88 595.80,245.82 596.05,245.72 596.30,245.61 596.55,245.43 596.80,245.47 597.05,245.50 597.30,245.59 597.55,245.55 597.80,245.56 598.05,245.58 598.30,245.62 598.55,245.43 598.80,245.46 599.05,245.48 599.30,245.32 599.55,245.30 599.80,245.52 600.05,245.42 600.30,245.33 600.55,245.51 600.80,245.55 601.05,245.38 601.30,245.43 601.55,245.56 601.80,245.47 602.05,245.35 602.30,245.52 602.55,245.58 602.80,245.41 603.05,245.42 603.30,245.34 603.55,245.26 603.80,245.28 604.05,245.40 604.30,245.42 604.55,245.60 604.80,245.56 605.05,245.43 605.30,245.29 605.55,245.19 605.80,244.93 606.05,244.70 606.30,244.59 606.55,244.41 606.80,244.13 607.05,243.99 607.30,243.76 607.55,243.41 607.80,243.09 608.05,242.57 608.30,242.03 608.55,241.55 608.80,241.12 609.05,240.82 609.30,240.62 609.55,240.66 609.80,240.56 610.05,240.29 610.30,239.87 610.55,239.22 610.80,238.04 611.05,236.66 611.30,234.89 611.55,232.91 611.80,230.90 612.05,229.03 612.30,227.71 612.55,227.41 612.80,227.98 613.05,229.35 613.30,231.07 613.55,232.73 613.80,234.19 614.05,235.11 614.30,235.38 614.55,235.09 614.80,234.09 615.05,232.43 615.30,230.09 615.55,227.30 615.80,224.21 616.05,221.23 616.30,218.81 616.55,217.79 616.80,218.16 617.05,219.94 617.30,222.75 617.55,225.94 617.80,228.87 618.05,231.44 618.30,233.37 618.55,234.70 618.80,235.12 619.05,234.78 619.30,233.87 619.55,232.68 619.80,230.81 620.05,228.74 620.30,227.06 620.55,226.14 620.80,225.89 621.05,226.93 621.30,228.99 621.55,231.24 621.80,233.47 622.05,235.53 622.30,237.21 622.55,238.47 622.80,239.39 623.05,239.77 623.30,239.99 623.55,239.84 623.80,239.71 624.05,239.59 624.30,239.80 624.55,240.06 624.80,240.62 625.05,241.19 625.30,241.85 625.55,242.54 625.80,243.06 626.05,243.61 626.30,243.95 626.55,244.33 626.80,244.36 627.05,244.71 627.30,244.79 627.55,244.85 627.80,244.93 628.05,245.10 628.30,245.10 628.55,245.25 628.80,245.30 629.05,245.24 629.30,245.30 629.55,245.35 629.80,245.25 630.05,245.29 630.30,245.41 630.55,245.49 630.80,245.57 631.05,245.61 631.30,245.51 631.55,245.51 631.80,245.52 632.05,245.35 632.30,245.38 632.55,245.58 632.80,245.58 633.05,245.51 633.30,245.62 633.55,245.66 633.80,245.54 634.05,245.58 634.30,245.60 634.55,245.65 634.80,245.57 635.05,245.58 635.30,245.61 635.55,245.74 635.80,245.58 636.05,245.55 636.30,245.67 636.55,245.53 636.80,245.48 637.05,245.55 637.30,245.61 637.55,245.62 637.80,245.55 638.05,245.49 638.30,245.67 638.55,245.74 638.80,245.67 639.05,245.88 639.30,246.03 639.55,245.99 639.80,245.92 640.05,245.94 640.30,245.86 640.55,245.66 640.80,245.58 641.05,245.56 641.30,245.55 641.55,245.59 641.80,245.63 642.05,245.61 642.30,245.82 642.55,245.90 642.80,245.96 643.05,246.02 643.30,246.08 643.55,245.85 643.80,245.80 644.05,245.71 644.30,245.65 644.55,245.60 644.80,245.70 645.05,245.72 645.30,245.78 645.55,245.80 645.80,245.88 646.05,245.87 646.30,245.85 646.55,245.72 646.80,245.69 647.05,245.61 647.30,245.69 647.55,245.64 647.80,245.79 648.05,245.84 648.30,245.80 648.55,245.64 648.80,245.76 649.05,245.57 649.30,245.55 649.55,245.57 649.80,245.65 650.05,245.65 650.30,245.73 650.55,245.77 650.80,245.72 651.05,245.74 651.30,245.74 651.55,245.76 651.80,245.77 652.05,245.86 652.30,245.83 652.55,245.79 652.80,245.80 653.05,245.65 653.30,245.55 653.55,245.60 653.80,245.47 654.05,245.56 654.30,245.59 654.55,245.69 654.80,245.69 655.05,245.79 655.30,245.79 655.55,245.79 655.80,245.85 656.05,245.83 656.30,245.86 656.55,245.85 656.80,245.97 657.05,245.84 657.30,245.92 657.55,245.99 657.80,245.93 658.05,245.91 658.30,246.07 658.55,246.09 658.80,246.06 659.05,245.98 659.30,245.98 659.55,245.94 659.80,245.78 660.05,245.67 660.30,245.74 660.55,245.74 660.80,245.71 661.05,245.85 661.30,245.78 661.55,245.79 661.80,245.77 662.05,245.74 662.30,245.68 662.55,245.88 662.80,245.91 663.05,245.92 663.30,245.92 663.55,245.92 663.80,245.84 664.05,245.89 664.30,245.77 664.55,245.68 664.80,245.77 665.05,245.81 665.30,245.77 665.55,245.96 665.80,245.92 666.05,245.91 666.30,245.80 666.55,245.70 666.80,245.69 667.05,245.74 667.30,245.68 667.55,245.85 667.80,245.87 668.05,245.76 668.30,245.88 668.55,245.90 668.80,245.83 669.05,245.77 669.30,245.91 669.55,245.90 669.80,245.69 670.05,245.61 670.30,245.64 670.55,245.49 670.80,245.46 671.05,245.56 671.30,245.70 671.55,245.83 671.80,245.89 672.05,245.80 672.30,245.84 672.55,245.79 672.80,245.79 673.05,245.75 673.30,245.82 673.55,245.75 673.80,245.69 674.05,245.69 674.30,245.82 674.55,245.78 674.80,245.83 675.05,245.80 675.30,245.63 675.55,245.54 675.80,245.59 676.05,245.64 676.30,245.68 676.55,245.81 676.80,245.79 677.05,245.83 677.30,245.81 677.55,245.89 677.80,245.92 678.05,245.92 678.30,245.75 678.55,245.75 678.80,245.67 679.05,245.71 679.30,245.72 679.55,245.71 679.80,245.61 680.05,245.64 680.30,245.48 680.55,245.34 680.80,245.42 681.05,245.48 681.30,245.38 681.55,245.42 681.80,245.46 682.05,245.50 682.30,245.35 682.55,245.35 682.80,245.27 683.05,245.25 683.30,244.98 683.55,244.85 683.80,244.68 684.05,244.39 684.30,243.98 684.55,243.72 684.80,243.52 685.05,243.17 685.30,242.89 685.55,242.88 685.80,242.71 686.05,242.68 686.30,242.70 686.55,242.63 686.80,242.34 687.05,242.01 687.30,241.25 687.55,240.22 687.80,239.06 688.05,237.66 688.30,236.32 688.55,234.90 688.80,233.98 689.05,233.43 689.30,233.51 689.55,234.05 689.80,235.12 690.05,236.03 690.30,237.15 690.55,238.00 690.80,238.43 691.05,238.41 691.30,238.01 691.55,236.84 691.80,235.36 692.05,233.20 692.30,230.72 692.55,227.96 692.80,225.39 693.05,223.12 693.30,221.99 693.55,222.07 693.80,223.41 694.05,225.42 694.30,227.84 694.55,230.07 694.80,232.01 695.05,233.23 695.30,233.90 695.55,233.56 695.80,232.63 696.05,230.88 696.30,228.81 696.55,226.24 696.80,224.10 697.05,222.50 697.30,222.02 697.55,222.62 697.80,224.55 698.05,227.05 698.30,229.60 698.55,232.01 698.80,234.05 699.05,235.42 699.30,236.12 699.55,236.48 699.80,236.20 700.05,235.38 700.30,234.53 700.55,233.56 700.80,232.81 701.05,232.48 701.30,233.15 701.55,234.02 701.80,235.44 702.05,236.81 702.30,238.32 702.55,239.40 702.80,240.60 703.05,241.35 703.30,242.05 703.55,242.31 703.80,242.33 704.05,242.06 704.30,241.75 704.55,241.37 704.80,241.16 705.05,240.94 705.30,240.87 705.55,241.08 705.80,241.26 706.05,241.58 706.30,242.22 706.55,242.81 706.80,243.27 707.05,243.76 707.30,244.18 707.55,244.49 707.80,244.66 708.05,244.85 708.30,245.18 708.55,245.31 708.80,245.38 709.05,245.42 709.30,245.43 709.55,245.31 709.80,245.27 710.05,245.18 710.30,245.18 710.55,245.22 710.80,245.32 711.05,245.43 711.30,245.57 711.55,245.75 711.80,245.72 712.05,245.64 712.30,245.60 712.55,245.51 712.80,245.48 713.05,245.51 713.30,245.63 713.55,245.60 713.80,245.70 714.05,245.80 714.30,245.78 714.55,245.68 714.80,245.69 715.05,245.59 715.30,245.51 715.55,245.63 715.80,245.62 716.05,245.64 716.30,245.73 716.55,245.74 716.80,245.64 717.05,245.84 717.30,245.86 717.55,245.86 717.80,245.80 718.05,245.86 718.30,245.66 718.55,245.78 718.80,245.66 719.05,245.69 719.30,245.75 719.55,245.71 719.80,245.64 720.05,245.85 720.30,245.88 720.55,245.84 720.80,245.94 721.05,245.90 721.30,245.85 721.55,245.78 721.80,245.81 722.05,245.79 722.30,245.77 722.55,245.66 722.80,245.76 723.05,245.71 723.30,245.80 723.55,245.84 723.80,245.91 724.05,245.80 724.30,245.77 724.55,245.74 724.80,245.74 725.05,245.75 725.30,245.86 725.55,245.96 725.80,245.90 726.05,246.09 726.30,246.29 726.55,246.28 726.80,246.16 727.05,246.12 727.30,245.98 727.55,245.74 727.80,245.71 728.05,245.67 728.30,245.76 728.55,245.80 728.80,245.76 729.05,245.74 729.30,245.85 729.55,245.66 729.80,245.56 730.05,245.60 730.30,245.53 730.55,245.50 730.80,245.68 731.05,245.73 731.30,245.79 731.55,245.84 731.80,245.85 732.05,245.84 732.30,245.79 732.55,245.84 732.80,245.95 733.05,245.98 733.30,245.86 733.55,245.90 733.80,245.79 734.05,245.77 734.30,245.85 734.55,245.88 734.80,245.94 735.05,246.07 735.30,246.05 735.55,246.04 735.80,246.08 736.05,245.95 736.30,245.95 736.55,245.94 736.80,245.89 737.05,245.92 737.30,246.03 737.55,245.93 737.80,245.89 738.05,245.87 738.30,245.87 738.55,245.79 738.80,245.81 739.05,245.81 739.30,245.80 739.55,245.94 739.80,245.97 740.05,246.07 740.30,246.04 740.55,246.12 740.80,245.99 741.05,246.10 741.30,245.96 741.55,246.14 741.80,246.06 742.05,246.06 742.30,245.87 742.55,245.90 742.80,245.78 743.05,245.74 743.30,245.62 743.55,245.76 743.80,245.79 744.05,245.76 744.30,245.82 744.55,245.90 744.80,245.83 745.05,245.81 745.30,245.88 745.55,245.86 745.80,245.89 746.05,245.93 746.30,245.87 746.55,245.82 746.80,245.85 747.05,245.90 747.30,245.84 747.55,245.93 747.80,245.96 748.05,245.92 748.30,245.89 748.55,245.83 748.80,245.66 749.05,245.68 749.30,245.61 749.55,245.56 749.80,245.71 750.05,245.85 750.30,245.78 750.55,245.89 750.80,245.85 751.05,245.71 751.30,245.68 751.55,245.77 751.80,245.77 752.05,245.86 752.30,245.89 752.55,245.91 752.80,245.92 753.05,245.99 753.30,246.02 753.55,246.07 753.80,246.09 754.05,246.07 754.30,245.97 754.55,245.92 754.80,245.87 755.05,245.81 755.30,245.90 755.55,245.98 755.80,245.96 756.05,246.00 756.30,246.07 756.55,245.94 756.80,245.83 757.05,245.96 757.30,245.89 757.55,245.92 757.80,245.93 758.05,245.94 758.30,245.84 758.55,245.80 758.80,245.76 759.05,245.80 759.30,245.82 759.55,245.85 759.80,245.81 760.05,245.76 760.30,245.62 760.55,245.72 760.80,245.71 761.05,245.87 761.30,245.89 761.55,245.96 761.80,245.95 762.05,245.87 762.30,245.93 762.55,245.99 762.80,246.07 763.05,246.00 763.30,246.14 763.55,246.14 763.80,246.13 764.05,246.13 764.30,246.13 764.55,246.05 764.80,246.07 765.05,246.17 765.30,246.00 765.55,246.09 765.80,246.01 766.05,245.94 766.30,245.77 766.55,245.89 766.80,245.81 767.05,245.92 767.30,245.94 767.55,245.96 767.80,245.99 768.05,245.99 768.30,246.01 768.55,246.04 768.80,246.07 769.05,246.05 769.30,245.95 769.55,245.86 769.80,245.74 770.05,245.72 770.30,245.62 770.55,245.65 770.80,245.69 771.05,245.75 771.30,245.82 771.55,246.00 771.80,246.12 772.05,246.10 772.30,246.13 772.55,246.02 772.80,245.94 773.05,246.02 773.30,246.14 773.55,246.07 773.80,246.19 774.05,246.15 774.30,245.99 774.55,245.80 774.80,245.85 775.05,245.81 775.30,245.89 775.55,245.99 775.80,246.07 776.05,246.09 776.30,246.19 776.55,246.28 776.80,246.27 777.05,246.31 777.30,246.28 777.55,246.16 777.80,245.98 778.05,246.03 778.30,246.06 778.55,246.05 778.80,246.14 779.05,246.23 779.30,246.05 779.55,246.08 779.80,246.04 780.05,245.86 780.30,245.82 780.55,245.89 780.80,245.76 781.05,245.89 781.30,245.97 781.55,245.95 781.80,245.96 782.05,245.98 782.30,245.89 782.55,245.86 782.80,246.07 783.05,246.02 783.30,246.05 783.55,246.01 783.80,245.99 784.05,245.74 784.30,245.81 784.55,245.86 784.80,245.96 785.05,246.05 785.30,246.07 785.55,246.19 785.80,246.24 786.05,246.28 786.30,246.21 786.55,246.27 786.80,246.19 787.05,246.12 787.30,246.04 787.55,246.11 787.80,246.05 788.05,246.08 788.30,246.13 788.55,246.13 788.80,246.10 789.05,246.14 789.30,246.15 789.55,246.05 789.80,246.05 790.05,246.00 790.30,246.00 790.55,245.84 790.80,245.77 791.05,245.86 791.30,245.92 791.55,245.96 791.80,245.87 792.05,245.93 792.30,245.78 792.55,245.74 792.80,245.68 793.05,245.79 793.30,245.89 793.55,245.94 793.80,245.90 794.05,245.92 794.30,246.00 794.55,246.02 794.80,246.05 795.05,246.05 795.30,245.96 795.55,246.01 795.80,245.82 796.05,245.79 796.30,245.82 796.55,245.90 796.80,245.87 797.05,245.97 797.30,245.89 797.55,245.93 797.80,245.98 798.05,245.93 798.30,245.93 798.55,246.09 798.80,246.20 799.05,246.22 799.30,246.24 799.55,246.22 799.80,246.10 800.05,245.95 800.30,245.84 800.55,245.73 800.80,245.76 801.05,245.75 801.30,245.86 801.55,245.93 801.80,246.11 802.05,246.02 802.30,246.03 802.55,245.90 802.80,245.74 803.05,245.60 803.30,245.60 803.55,245.68 803.80,245.55 804.05,245.68 804.30,245.71 804.55,245.73 804.80,245.63 805.05,245.83 805.30,245.79 805.55,245.96 805.80,246.00 806.05,245.98 806.30,245.92 806.55,245.91 806.80,245.85 807.05,245.87 807.30,245.99 807.55,245.93 807.80,245.91 808.05,245.81 808.30,245.76 808.55,245.71 808.80,245.86 809.05,245.86 809.30,245.67 809.55,245.61 809.80,245.49 810.05,245.45 810.30,245.60 810.55,245.80 810.80,245.97 811.05,246.06 811.30,246.08 811.55,245.97 811.80,245.98 812.05,245.80 812.30,245.75 812.55,245.76 812.80,245.79 813.05,245.64 813.30,245.76 813.55,245.85 813.80,245.72 814.05,245.67 814.30,245.70 814.55,245.63 814.80,245.55 815.05,245.52 815.30,245.48 815.55,245.46 815.80,245.46 816.05,245.38 816.30,245.40 816.55,245.39 816.80,245.34 817.05,245.23 817.30,245.25 817.55,245.27 817.80,245.16 818.05,245.15 818.30,245.10 818.55,244.90 818.80,244.72 819.05,244.72 819.30,244.68 819.55,244.54 819.80,244.54 820.05,244.37 820.30,244.15 820.55,243.91 820.80,243.59 821.05,243.16 821.30,242.45 821.55,241.55 821.80,239.93 822.05,237.74 822.30,234.47 822.55,230.27 822.80,224.96 823.05,219.23 823.30,214.11 823.55,211.37 823.80,212.29 824.05,216.22 824.30,221.64 824.55,226.78 824.80,231.09 825.05,234.17 825.30,235.98 825.55,236.39 825.80,235.86 826.05,233.92 826.30,230.37 826.55,224.85 826.80,217.29 827.05,207.54 827.30,196.68 827.55,186.45 827.80,180.17 828.05,180.86 828.30,188.06 828.55,198.45 828.80,209.18 829.05,218.58 829.30,225.57 829.55,229.91 829.80,232.03 830.05,232.13 830.30,230.29 830.55,226.97 830.80,222.83 831.05,218.33 831.30,214.90 831.55,214.39 831.80,216.86 832.05,221.49 832.30,226.72 832.55,231.71 832.80,235.40 833.05,238.29 833.30,240.13 833.55,241.61 833.80,242.35 834.05,242.94 834.30,243.45 834.55,243.94 834.80,244.16 835.05,244.44 835.30,244.71 835.55,244.91 835.80,244.91 836.05,244.92 836.30,245.11 836.55,245.23 836.80,245.11 837.05,245.24 837.30,245.39 837.55,245.31 837.80,245.19 838.05,245.22 838.30,245.17 838.55,245.17 838.80,245.31 839.05,245.33 839.30,245.51 839.55,245.58 839.80,245.66 840.05,245.71 840.30,245.79 840.55,245.75 840.80,245.64 841.05,245.57 841.30,245.55 841.55,245.72 841.80,245.74 842.05,245.85 842.30,245.94 842.55,245.87 842.80,245.89 843.05,245.83 843.30,245.73 843.55,245.66 843.80,245.56 844.05,245.44 844.30,245.51 844.55,245.53 844.80,245.58 845.05,245.66 845.30,245.67 845.55,245.63 845.80,245.71 846.05,245.70 846.30,245.81 846.55,245.72 846.80,245.73 847.05,245.77 847.30,245.79 847.55,245.78 847.80,245.84 848.05,245.90 848.30,245.90 848.55,245.85 848.80,245.76 849.05,245.78 849.30,245.71 849.55,245.88 849.80,245.95 850.05,246.04 850.30,246.15 850.55,246.34 850.80,246.06 851.05,246.00 851.30,245.85 851.55,245.72 851.80,245.57 852.05,245.59 852.30,245.70 852.55,245.88 852.80,245.87 853.05,245.93 853.30,246.08 853.55,246.06 853.80,245.89 854.05,246.09 854.30,246.19 854.55,246.10 854.80,246.03 855.05,246.03 855.30,245.92 855.55,245.79 855.80,245.85 856.05,245.85 856.30,245.86 856.55,245.76 856.80,245.72 857.05,245.70 857.30,245.72 857.55,245.85 857.80,245.95 858.05,246.05 858.30,246.06 858.55,246.20 858.80,246.29 859.05,246.21 859.30,246.09 859.55,246.12 859.80,246.04 860.05,245.95 860.30,245.95 860.55,245.96 860.80,245.90 861.05,245.97 861.30,245.91 861.55,245.99 861.80,246.02 862.05,245.97 862.30,245.81 862.55,245.68 862.80,245.59 863.05,245.69 863.30,245.75 863.55,245.74 863.80,245.89 864.05,245.95 864.30,245.94 864.55,245.89 864.80,245.95 865.05,245.97 865.30,246.02 865.55,245.89 865.80,245.92 866.05,245.81 866.30,245.73 866.55,245.69 866.80,245.88 867.05,245.88 867.30,245.97 867.55,246.03 867.80,246.00"/>
<polyline stroke="#1a8a22" points="21.30,444.82 21.55,444.92 21.80,444.80 22.05,444.77 22.30,444.81 22.55,444.86 22.80,444.69 23.05,444.74 23.30,444.82 23.55,444.94 23.80,445.01 24.05,445.01 24.30,445.10 24.55,445.02 24.80,444.87 25.05,444.94 25.30,444.95 25.55,444.92 25.80,444.89 26.05,444.88 26.30,444.82 26.55,444.80 26.80,444.77 27.05,444.80 27.30,444.77 27.55,444.67 27.80,444.63 28.05,444.64 28.30,444.63 28.55,444.81 28.80,444.72 29.05,444.81 29.30,444.83 29.55,444.93 29.80,444.81 30.05,444.90 30.30,444.88 30.55,444.88 30.80,444.76 31.05,444.77 31.30,444.69 31.55,444.78 31.80,444.83 32.05,444.81 32.30,444.78 32.55,444.89 32.80,444.70 33.05,444.59 33.30,444.66 33.55,444.57 33.80,444.52 34.05,444.54 34.30,444.53 34.55,444.51 34.80,444.46 35.05,444.47 35.30,444.45 35.55,444.25 35.80,444.09 36.05,444.06 36.30,443.96 36.55,443.89 36.80,443.79 37.05,443.73 37.30,443.58 37.55,443.36 37.80,443.22 38.05,443.23 38.30,442.97 38.55,442.82 38.80,442.57 39.05,442.15 39.30,441.49 39.55,440.85 39.80,439.37 40.05,437.29 40.30,433.85 40.55,428.42 40.80,420.81 41.05,411.89 41.30,403.18 41.55,398.28 41.80,400.16 42.05,407.16 42.30,415.84 42.55,423.33 42.80,428.48 43.05,431.42 43.30,432.22 43.55,430.66 43.80,426.40 44.05,418.70 44.30,406.16 44.55,389.02 44.80,368.82 45.05,350.66 45.30,342.93 45.55,350.58 45.80,368.69 46.05,388.84 46.30,405.92 46.55,418.24 46.80,426.12 47.05,430.30 47.30,431.74 47.55,430.86 47.80,427.44 48.05,421.47 48.30,412.90 48.55,403.14 48.80,395.13 49.05,393.12 49.30,398.59 49.55,408.32 49.80,418.39 50.05,426.72 50.30,432.88 50.55,436.66 50.80,438.95 51.05,440.41 51.30,441.31 51.55,441.76 51.80,442.34 52.05,442.83 52.30,443.12 52.55,443.30 52.80,443.54 53.05,443.53 53.30,443.58 53.55,443.62 53.80,443.72 54.05,443.78 54.30,443.96 54.55,444.11 54.80,444.11 55.05,444.29 55.30,444.33 55.55,444.40 55.80,444.29 56.05,444.40 56.30,444.29 56.55,444.15 56.80,444.39 57.05,444.57 57.30,444.72 57.55,444.82 57.80,445.02 58.05,444.87 58.30,444.87 58.55,444.77 58.80,444.80 59.05,444.64 59.30,444.65 59.55,444.65 59.80,444.73 60.05,444.74 60.30,445.00 60.55,444.94 60.80,444.84 61.05,444.84 61.30,444.84 61.55,444.66 61.80,444.70 62.05,444.84 62.30,444.80 62.55,444.87 62.80,445.22 63.05,445.27 63.30,445.33 63.55,445.19 63.80,445.19 64.05,444.98 64.30,444.91 64.55,444.76 64.80,444.91 65.05,444.88 65.30,444.79 65.55,444.89 65.80,445.04 66.05,445.04 66.30,445.03 66.55,445.11 66.80,445.09 67.05,445.05 67.30,444.94 67.55,444.95 67.80,444.94 68.05,444.93 68.30,444.95 68.55,445.10 68.80,445.05 69.05,444.98 69.30,444.87 69.55,444.92 69.80,444.89 70.05,445.00 70.30,445.11 70.55,445.17 70.80,444.98 71.05,444.95 71.30,444.90 71.55,444.94 71.80,445.01 72.05,445.02 72.30,445.09 72.55,445.15 72.80,444.99 73.05,444.93 73.30,444.88 73.55,444.86 73.80,444.79 74.05,444.78 74.30,444.74 74.55,444.87 74.80,444.82 75.05,444.86 75.30,444.98 75.55,444.97 75.80,444.94 76.05,445.11 76.30,445.10 76.55,445.01 76.80,445.07 77.05,445.01 77.30,444.94 77.55,444.96 77.80,445.08 78.05,445.14 78.30,445.25 78.55,445.24 78.80,445.23 79.05,445.12 79.30,445.00 79.55,444.94 79.80,444.72 80.05,444.83 80.30,444.76 80.55,444.82 80.80,444.77 81.05,444.80 81.30,444.68 81.55,444.77 81.80,444.76 82.05,444.88 82.30,444.97 82.55,445.00 82.80,445.06 83.05,445.04 83.30,444.99 83.55,445.07 83.80,445.05 84.05,445.02 84.30,444.89 84.55,444.92 84.80,444.91 85.05,444.89 85.30,444.91 85.55,445.18 85.80,445.18 86.05,445.20 86.30,445.16 86.55,445.08 86.80,444.93 87.05,444.86 87.30,444.81 87.55,444.81 87.80,444.85 88.05,444.79 88.30,444.75 88.55,444.71 88.80,444.70 89.05,444.67 89.30,444.72 89.55,444.81 89.80,444.92 90.05,445.07 90.30,445.16 90.55,445.18 90.80,445.30 91.05,445.13 91.30,444.91 91.55,444.89 91.80,444.91 92.05,444.80 92.30,444.90 92.55,444.93 92.80,444.84 93.05,444.92 93.30,444.99 93.55,444.94 93.80,445.17 94.05,445.18 94.30,445.06 94.55,445.02 94.80,444.99 95.05,444.83 95.30,444.89 95.55,444.90 95.80,444.94 96.05,445.05 96.30,445.01 96.55,444.98 96.80,445.02 97.05,444.96 97.30,444.87 97.55,444.97 97.80,445.06 98.05,445.01 98.30,445.07 98.55,445.01 98.80,444.88 99.05,444.86 99.30,444.85 99.55,444.73 99.80,444.82 100.05,444.88 100.30,444.87 100.55,444.83 100.80,444.87 101.05,445.09 101.30,445.14 101.55,445.00 101.80,445.13 102.05,445.19 102.30,445.07 102.55,445.08 102.80,445.16 103.05,445.21 103.30,445.22 103.55,445.01 103.80,445.05 104.05,445.08 104.30,445.06 104.55,444.99 104.80,445.16 105.05,445.12 105.30,445.17 105.55,445.10 105.80,445.10 106.05,445.05 106.30,445.08 106.55,445.07 106.80,445.17 107.05,445.23 107.30,445.26 107.55,445.36 107.80,445.34 108.05,445.27 108.30,445.20 108.55,445.16 108.80,445.13 109.05,445.15 109.30,445.21 109.55,445.18 109.80,445.09 110.05,445.00 110.30,444.89 110.55,444.97 110.80,445.12 111.05,445.13 111.30,445.10 111.55,445.15 111.80,445.00 112.05,444.92 112.30,445.06 112.55,445.16 112.80,445.19 113.05,445.09 113.30,445.13 113.55,445.05 113.80,445.03 114.05,445.04 114.30,445.17 114.55,445.15 114.80,445.15 115.05,445.05 115.30,445.10 115.55,445.21 115.80,445.24 116.05,445.25 116.30,445.32 116.55,445.28 116.80,445.04 117.05,445.01 117.30,445.11 117.55,445.05 117.80,444.97 118.05,445.08 118.30,445.18 118.55,445.14 118.80,445.22 119.05,445.44 119.30,445.52 119.55,445.44 119.80,445.37 120.05,445.31 120.30,445.16 120.55,445.11 120.80,445.01 121.05,445.12 121.30,445.12 121.55,445.10 121.80,445.10 122.05,445.02 122.30,444.87 122.55,444.82 122.80,444.90 123.05,444.81 123.30,445.04 123.55,445.06 123.80,445.14 124.05,445.04 124.30,445.15 124.55,445.04 124.80,445.10 125.05,445.03 125.30,445.01 125.55,444.92 125.80,445.01 126.05,444.91 126.30,444.84 126.55,444.89 126.80,444.96 127.05,444.82 127.30,444.85 127.55,444.96 127.80,444.96 128.05,444.93 128.30,445.07 128.55,445.11 128.80,445.09 129.05,445.16 129.30,445.14 129.55,445.00 129.80,444.93 130.05,444.87 130.30,444.94 130.55,444.94 130.80,445.04 131.05,445.15 131.30,445.16 131.55,445.08 131.80,445.04 132.05,444.87 132.30,444.81 132.55,444.80 132.80,444.74 133.05,444.80 133.30,445.08 133.55,445.06 133.80,445.12 134.05,445.17 134.30,445.16 134.55,445.00 134.80,444.96 135.05,444.91 135.30,444.88 135.55,444.79 135.80,444.76 136.05,444.75 136.30,444.88 136.55,444.79 136.80,444.99 137.05,445.00 137.30,445.01 137.55,444.86 137.80,445.01 138.05,444.95 138.30,444.93 138.55,445.02 138.80,445.09 139.05,445.02 139.30,444.96 139.55,445.07 139.80,444.92 140.05,444.79 140.30,444.82 140.55,444.81 140.80,444.80 141.05,444.81 141.30,444.89 141.55,444.98 141.80,444.90 142.05,444.88 142.30,444.94 142.55,444.97 142.80,444.79 143.05,444.95 143.30,444.80 143.55,444.77 143.80,444.74 144.05,444.91 144.30,444.85 144.55,445.01 144.80,445.09 145.05,445.16 145.30,445.12 145.55,445.20 145.80,445.17 146.05,445.08 146.30,445.13 146.55,445.11 146.80,444.94 147.05,444.91 147.30,444.94 147.55,445.00 147.80,444.97 148.05,444.92 148.30,444.95 148.55,444.96 148.80,444.91 149.05,444.94 149.30,444.95 149.55,444.90 149.80,444.88 150.05,444.75 150.30,444.70 150.55,444.69 150.80,444.73 151.05,444.74 151.30,444.74 151.55,444.82 151.80,445.07 152.05,445.02 152.30,445.19 152.55,445.12 152.80,445.11 153.05,444.95 153.30,444.98 153.55,444.80 153.80,444.90 154.05,444.84 154.30,444.86 154.55,444.89 154.80,445.10 155.05,445.10 155.30,445.11 155.55,445.02 155.80,444.83 156.05,444.77 156.30,444.72 156.55,444.69 156.80,444.80 157.05,445.02 157.30,444.95 157.55,445.15 157.80,445.19 158.05,445.07 158.30,445.02 158.55,445.01 158.80,444.84 159.05,444.83 159.30,444.91 159.55,445.01 159.80,444.96 160.05,444.92 160.30,444.96 160.55,444.88 160.80,444.80 161.05,444.86 161.30,444.90 161.55,444.85 161.80,444.92 162.05,445.00 162.30,445.00 162.55,444.98 162.80,444.93 163.05,444.96 163.30,444.86 163.55,444.79 163.80,444.88 164.05,444.95 164.30,445.02 164.55,445.05 164.80,445.09 165.05,445.08 165.30,445.04 165.55,445.03 165.80,445.02 166.05,445.00 166.30,445.00 166.55,445.02 166.80,445.13 167.05,445.07 167.30,445.13 167.55,445.15 167.80,445.13 168.05,444.97 168.30,444.98 168.55,444.96 168.80,444.95 169.05,445.05 169.30,445.10 169.55,445.10 169.80,445.05 170.05,444.99 170.30,444.89 170.55,444.73 170.80,444.79 171.05,444.82 171.30,444.84 171.55,444.79 171.80,444.81 172.05,444.61 172.30,444.61 172.55,444.66 172.80,444.81 173.05,444.90 173.30,444.99 173.55,445.00 173.80,444.95 174.05,444.96 174.30,445.01 174.55,445.07 174.80,445.06 175.05,445.11 175.30,445.09 175.55,445.03 175.80,444.91 176.05,444.87 176.30,444.88 176.55,444.86 176.80,444.93 177.05,445.05 177.30,445.09 177.55,445.09 177.80,445.12 178.05,445.09 178.30,445.18 178.55,445.26 178.80,445.30 179.05,445.15 179.30,445.09 179.55,445.00 179.80,444.89 180.05,444.70 180.30,444.89 180.55,444.85 180.80,444.88 181.05,444.75 181.30,444.82 181.55,444.72 181.80,444.73 182.05,444.77 182.30,445.07 182.55,445.05 182.80,445.01 183.05,445.18 183.30,445.17 183.55,445.00 183.80,444.97 184.05,445.07 184.30,444.97 184.55,445.04 184.80,445.00 185.05,445.07 185.30,445.01 185.55,444.98 185.80,444.95 186.05,445.06 186.30,445.02 186.55,445.04 186.80,445.04 187.05,445.03 187.30,444.96 187.55,444.93 187.80,444.91 188.05,444.93 188.30,444.93 188.55,445.02 188.80,445.17 189.05,445.22 189.30,445.19 189.55,445.17 189.80,445.07 190.05,444.95 190.30,444.94 190.55,445.00 190.80,445.02 191.05,444.97 191.30,444.91 191.55,444.92 191.80,444.83 192.05,444.84 192.30,444.83 192.55,444.90 192.80,444.75 193.05,444.94 193.30,444.85 193.55,444.91 193.80,444.91 194.05,445.01 194.30,444.93 194.55,444.97 194.80,444.97 195.05,445.08 195.30,445.01 195.55,445.03 195.80,445.13 196.05,445.04 196.30,444.98 196.55,444.98 196.80,444.77 197.05,444.62 197.30,444.74 197.55,444.77 197.80,444.83 198.05,444.91 198.30,444.93 198.55,444.85 198.80,444.76 199.05,444.63 199.30,444.67 199.55,444.69 199.80,444.88 200.05,444.96 200.30,445.11 200.55,445.13 200.80,445.15 201.05,444.97 201.30,444.79 201.55,444.75 201.80,444.73 202.05,444.72 202.30,444.72 202.55,444.79 202.80,444.82 203.05,444.84 203.30,444.87 203.55,444.90 203.80,444.98 204.05,444.94 204.30,444.99 204.55,444.94 204.80,444.87 205.05,444.83 205.30,444.90 205.55,444.78 205.80,444.83 206.05,444.89 206.30,444.94 206.55,444.87 206.80,444.95 207.05,444.95 207.30,444.95 207.55,444.91 207.80,444.93 208.05,444.93 208.30,444.89 208.55,444.95 208.80,444.96 209.05,444.91 209.30,444.81 209.55,444.77 209.80,444.77 210.05,444.92 210.30,445.06 210.55,445.10 210.80,445.00 211.05,445.00 211.30,444.86 211.55,444.72 211.80,444.82 212.05,444.95 212.30,444.89 212.55,444.77 212.80,444.90 213.05,444.85 213.30,444.83 213.55,444.80 213.80,444.90 214.05,444.92 214.30,444.94 214.55,445.09 214.80,445.22 215.05,445.26 215.30,445.24 215.55,445.22 215.80,444.99 216.05,444.89 216.30,444.89 216.55,444.77 216.80,444.72 217.05,444.74 217.30,444.88 217.55,444.78 217.80,444.77 218.05,444.74 218.30,444.89 218.55,444.85 218.80,444.90 219.05,445.00 219.30,445.00 219.55,444.94 219.80,445.03 220.05,445.13 220.30,445.09 220.55,445.06 220.80,445.04 221.05,444.79 221.30,444.59 221.55,444.63 221.80,444.75 222.05,444.78 222.30,444.93 222.55,444.96 222.80,445.01 223.05,444.90 223.30,444.91 223.55,444.88 223.80,445.05 224.05,445.09 224.30,445.18 224.55,445.13 224.80,445.03 225.05,444.98 225.30,444.79 225.55,444.68 225.80,444.69 226.05,444.81 226.30,444.77 226.55,444.75 226.80,444.85 227.05,444.78 227.30,444.64 227.55,444.75 227.80,444.83 228.05,444.95 228.30,444.94 228.55,445.10 228.80,444.99 229.05,445.15 229.30,445.00 229.55,445.07 229.80,445.03 230.05,445.05 230.30,444.85 230.55,444.92 230.80,444.99 231.05,445.02 231.30,445.03 231.55,445.01 231.80,444.91 232.05,444.90 232.30,444.78 232.55,444.86 232.80,444.91 233.05,444.90 233.30,444.93 233.55,444.98 233.80,444.95 234.05,444.96 234.30,445.12 234.55,445.03 234.80,444.89 235.05,444.71 235.30,444.59 235.55,444.51 235.80,444.65 236.05,444.78 236.30,444.78 236.55,444.93 236.80,444.92 237.05,444.78 237.30,444.81 237.55,444.89 237.80,444.77 238.05,444.79 238.30,444.77 238.55,444.68 238.80,444.67 239.05,444.84 239.30,444.91 239.55,445.03 239.80,445.06 240.05,445.00 240.30,444.92 240.55,444.78 240.80,444.70 241.05,444.65 241.30,444.65 241.55,444.56 241.80,444.61 242.05,444.67 242.30,444.69 242.55,444.78 242.80,444.88 243.05,444.78 243.30,444.71 243.55,444.79 243.80,444.69 244.05,444.72 244.30,444.74 244.55,444.74 244.80,444.66 245.05,444.62 245.30,444.56 245.55,444.56 245.80,444.52 246.05,444.51 246.30,444.62 246.55,444.58 246.80,444.53 247.05,444.55 247.30,444.60 247.55,444.56 247.80,444.50 248.05,444.57 248.30,444.53 248.55,444.50 248.80,444.47 249.05,444.44 249.30,444.28 249.55,444.22 249.80,444.14 250.05,443.98 250.30,444.03 250.55,444.15 250.80,444.15 251.05,444.06 251.30,444.05 251.55,443.99 251.80,443.90 252.05,443.86 252.30,443.91 252.55,443.90 252.80,443.79 253.05,443.69 253.30,443.57 253.55,443.44 253.80,443.37 254.05,443.21 254.30,442.95 254.55,442.69 254.80,442.47 255.05,442.03 255.30,441.63 255.55,441.07 255.80,440.46 256.05,439.07 256.30,437.06 256.55,433.43 256.80,428.09 257.05,419.85 257.30,409.88 257.55,399.50 257.80,392.84 258.05,393.08 258.30,400.40 258.55,410.12 258.80,419.21 259.05,425.90 259.30,430.28 259.55,432.08 259.80,432.20 260.05,430.25 260.30,425.68 260.55,417.39 260.80,404.72 261.05,386.94 261.30,366.11 261.55,347.39 261.80,339.40 262.05,347.30 262.30,365.87 262.55,386.57 262.80,404.21 263.05,416.89 263.30,424.65 263.55,428.50 263.80,429.06 264.05,426.98 264.30,422.15 264.55,414.77 264.80,405.77 265.05,397.80 265.30,394.45 265.55,398.32 265.80,407.16 266.05,417.01 266.30,425.47 266.55,431.75 266.80,435.87 267.05,438.34 267.30,439.84 267.55,440.69 267.80,441.34 268.05,441.78 268.30,442.22 268.55,442.40 268.80,442.57 269.05,442.76 269.30,442.97 269.55,443.01 269.80,443.24 270.05,443.35 270.30,443.32 270.55,443.36 270.80,443.41 271.05,443.43 271.30,443.43 271.55,443.47 271.80,443.41 272.05,443.43 272.30,443.38 272.55,443.41 272.80,443.37 273.05,443.33 273.30,443.20 273.55,443.13 273.80,443.06 274.05,443.00 274.30,442.91 274.55,442.74 274.80,442.58 275.05,442.31 275.30,442.00 275.55,441.69 275.80,441.32 276.05,440.41 276.30,439.09 276.55,436.87 276.80,433.23 277.05,427.55 277.30,419.83 277.55,410.43 277.80,401.26 278.05,396.08 278.30,398.01 278.55,405.48 278.80,414.68 279.05,422.67 279.30,428.40 279.55,431.84 279.80,433.22 280.05,432.78 280.30,430.66 280.55,426.14 280.80,418.14 281.05,405.72 281.30,388.82 281.55,369.85 281.80,354.14 282.05,349.48 282.30,359.28 282.55,377.39 282.80,396.00 283.05,411.18 283.30,421.99 283.55,428.58 283.80,432.15 284.05,433.75 284.30,434.05 284.55,432.66 284.80,429.49 285.05,423.98 285.30,415.95 285.55,405.83 285.80,396.28 286.05,391.23 286.30,393.93 286.55,402.80 286.80,413.60 287.05,423.04 287.30,430.24 287.55,435.02 287.80,437.91 288.05,439.61 288.30,440.75 288.55,441.35 288.80,441.83 289.05,442.23 289.30,442.46 289.55,442.86 289.80,443.12 290.05,443.45 290.30,443.60 290.55,443.92 290.80,443.88 291.05,444.05 291.30,444.06 291.55,444.20 291.80,444.15 292.05,444.23 292.30,444.27 292.55,444.13 292.80,444.09 293.05,444.06 293.30,444.02 293.55,444.01 293.80,444.22 294.05,444.28 294.30,444.46 294.55,444.49 294.80,444.44 295.05,444.42 295.30,444.47 295.55,444.41 295.80,444.41 296.05,444.50 296.30,444.61 296.55,444.58 296.80,444.60 297.05,444.61 297.30,444.59 297.55,444.43 297.80,444.48 298.05,444.59 298.30,444.70 298.55,444.66 298.80,444.78 299.05,444.67 299.30,444.66 299.55,444.65 299.80,444.63 300.05,444.57 300.30,444.63 300.55,444.68 300.80,444.71 301.05,444.72 301.30,444.70 301.55,444.77 301.80,444.61 302.05,444.60 302.30,444.69 302.55,444.64 302.80,444.68 303.05,444.82 303.30,444.83 303.55,444.85 303.80,444.92 304.05,444.85 304.30,444.76 304.55,444.69 304.80,444.55 305.05,444.64 305.30,444.63 305.55,444.63 305.80,444.70 306.05,444.83 306.30,444.82 306.55,444.89 306.80,444.86 307.05,444.91 307.30,444.86 307.55,444.85 307.80,444.78 308.05,444.81 308.30,444.70 308.55,444.82 308.80,444.82 309.05,444.81 309.30,444.69 309.55,444.70 309.80,444.70 310.05,444.64 310.30,444.75 310.55,444.85 310.80,444.88 311.05,444.73 311.30,444.79 311.55,444.79 311.80,444.86 312.05,444.91 312.30,444.91 312.55,444.90 312.80,444.77 313.05,444.66 313.30,444.65 313.55,444.65 313.80,444.68 314.05,444.73 314.30,444.88 314.55,444.84 314.80,444.94 315.05,444.97 315.30,445.03 315.55,444.98 315.80,444.88 316.05,444.90 316.30,444.74 316.55,444.66 316.80,444.46 317.05,444.55 317.30,444.45 317.55,444.54 317.80,444.52 318.05,444.66 318.30,444.64 318.55,444.67 318.80,444.74 319.05,444.66 319.30,444.67 319.55,444.70 319.80,444.62 320.05,444.54 320.30,444.77 320.55,444.79 320.80,444.77 321.05,444.91 321.30,444.97 321.55,444.79 321.80,444.75 322.05,444.78 322.30,444.74 322.55,444.74 322.80,444.82 323.05,444.85 323.30,444.82 323.55,444.79 323.80,444.74 324.05,444.77 324.30,444.76 324.55,444.76 324.80,444.83 325.05,445.02 325.30,444.98 325.55,445.07 325.80,445.07 326.05,445.04 326.30,444.94 326.55,445.03 326.80,445.08 327.05,445.09 327.30,445.08 327.55,445.11 327.80,445.13 328.05,444.94 328.30,444.97 328.55,445.03 328.80,445.03 329.05,444.88 329.30,444.96 329.55,444.82 329.80,444.82 330.05,444.86 330.30,444.85 330.55,444.81 330.80,444.86 331.05,444.77 331.30,444.69 331.55,444.80 331.80,444.84 332.05,444.84 332.30,444.82 332.55,444.90 332.80,444.88 333.05,444.82 333.30,444.93 333.55,444.95 333.80,444.84 334.05,444.77 334.30,444.76 334.55,444.64 334.80,444.79 335.05,444.83 335.30,444.92 335.55,445.01 335.80,445.11 336.05,444.93 336.30,444.91 336.55,444.92 336.80,444.90 337.05,444.88 337.30,444.85 337.55,444.87 337.80,444.85 338.05,444.81 338.30,444.82 338.55,444.91 338.80,444.82 339.05,444.70 339.30,444.70 339.55,444.69 339.80,444.72 340.05,444.73 340.30,444.85 340.55,444.78 340.80,444.83 341.05,444.94 341.30,444.96 341.55,444.98 341.80,445.11 342.05,445.11 342.30,444.99 342.55,444.90 342.80,444.80 343.05,444.85 343.30,444.84 343.55,444.83 343.80,445.06 344.05,445.00 344.30,444.97 344.55,445.00 344.80,444.86 345.05,444.69 345.30,444.83 345.55,444.72 345.80,444.63 346.05,444.79 346.30,444.82 346.55,444.80 346.80,444.84 347.05,444.90 347.30,444.88 347.55,445.03 347.80,445.04 348.05,445.01 348.30,445.02 348.55,445.02 348.80,445.09 349.05,444.97 349.30,445.06 349.55,445.05 349.80,445.14 350.05,444.86 350.30,444.87 350.55,444.85 350.80,444.89 351.05,444.82 351.30,444.92 351.55,445.00 351.80,445.04 352.05,444.99 352.30,444.93 352.55,444.98 352.80,444.93 353.05,444.76 353.30,444.73 353.55,444.75 353.80,444.66 354.05,444.69 354.30,444.82 354.55,444.82 354.80,444.77 355.05,444.87 355.30,444.87 355.55,444.92 355.80,444.95 356.05,445.04 356.30,445.05 356.55,444.94 356.80,444.94 357.05,444.93 357.30,444.96 357.55,444.83 357.80,444.95 358.05,444.87 358.30,444.79 358.55,444.73 358.80,444.88 359.05,444.96 359.30,445.06 359.55,445.11 359.80,445.10 360.05,444.96 360.30,444.75 360.55,444.64 360.80,444.61 361.05,444.67 361.30,444.76 361.55,444.92 361.80,444.88 362.05,444.89 362.30,444.92 362.55,444.88 362.80,444.91 363.05,444.94 363.30,445.04 363.55,444.93 363.80,444.88 364.05,444.83 364.30,444.81 364.55,444.68 364.80,444.79 365.05,444.86 365.30,444.81 365.55,444.86 365.80,445.00 366.05,444.88 366.30,444.68 366.55,444.86 366.80,444.76 367.05,444.66 367.30,444.55 367.55,444.56 367.80,444.44 368.05,444.45 368.30,444.52 368.55,444.65 368.80,444.78 369.05,444.79 369.30,444.92 369.55,444.96 369.80,444.88 370.05,444.85 370.30,444.85 370.55,444.85 370.80,444.73 371.05,444.74 371.30,444.79 371.55,444.55 371.80,444.39 372.05,444.50 372.30,444.49 372.55,444.62 372.80,444.82 373.05,444.94 373.30,445.04 373.55,445.18 373.80,445.03 374.05,444.99 374.30,444.93 374.55,444.62 374.80,444.58 375.05,444.60 375.30,444.59 375.55,444.69 375.80,444.78 376.05,444.64 376.30,444.57 376.55,444.61 376.80,444.57 377.05,444.72 377.30,444.81 377.55,444.91 377.80,444.97 378.05,444.99 378.30,444.88 378.55,444.83 378.80,444.77 379.05,444.84 379.30,444.82 379.55,444.79 379.80,444.79 380.05,444.82 380.30,444.79 380.55,444.74 380.80,444.68 381.05,444.75 381.30,444.70 381.55,444.54 381.80,444.71 382.05,444.82 382.30,444.73 382.55,444.75 382.80,444.85 383.05,444.68 383.30,444.68 383.55,444.69 383.80,444.73 384.05,444.66 384.30,444.71 384.55,444.65 384.80,444.67 385.05,444.66 385.30,444.68 385.55,444.68 385.80,444.59 386.05,444.60 386.30,444.55 386.55,444.50 386.80,444.42 387.05,444.51 387.30,444.62 387.55,444.73 387.80,444.82 388.05,444.87 388.30,444.64 388.55,444.50 388.80,444.42 389.05,444.27 389.30,444.29 389.55,444.45 389.80,444.48 390.05,444.41 390.30,444.47 390.55,444.29 390.80,444.29 391.05,444.21 391.30,444.14 391.55,444.00 391.80,444.13 392.05,444.05 392.30,444.12 392.55,444.15 392.80,444.25 393.05,444.15 393.30,444.18 393.55,444.01 393.80,444.13 394.05,444.12 394.30,444.12 394.55,443.92 394.80,443.88 395.05,443.58 395.30,443.43 395.55,443.22 395.80,443.28 396.05,443.19 396.30,443.12 396.55,442.99 396.80,442.75 397.05,442.39 397.30,441.98 397.55,441.55 397.80,440.87 398.05,440.02 398.30,438.57 398.55,436.28 398.80,432.30 399.05,426.23 399.30,417.74 399.55,407.44 399.80,397.58 400.05,392.03 400.30,394.14 400.55,402.26 400.80,412.32 401.05,420.85 401.30,427.04 401.55,430.66 401.80,432.14 402.05,431.71 402.30,429.27 402.55,424.00 402.80,414.91 403.05,400.95 403.30,382.09 403.55,360.88 403.80,343.47 404.05,338.43 404.30,349.28 404.55,369.27 404.80,390.06 405.05,406.90 405.30,418.96 405.55,426.38 405.80,430.30 406.05,431.59 406.30,431.09 406.55,428.30 406.80,422.77 407.05,414.30 407.30,403.68 407.55,392.57 407.80,385.45 408.05,386.74 408.30,395.59 408.55,407.42 408.80,418.51 409.05,426.99 409.30,432.90 409.55,436.56 409.80,438.73 410.05,439.99 410.30,440.81 410.55,441.23 410.80,441.63 411.05,441.90 411.30,442.20 411.55,442.45 411.80,442.73 412.05,443.01 412.30,443.21 412.55,443.36 412.80,443.56 413.05,443.57 413.30,443.68 413.55,443.68 413.80,443.88 414.05,443.82 414.30,443.95 414.55,444.04 414.80,444.21 415.05,444.18 415.30,444.36 415.55,444.40 415.80,444.50 416.05,444.47 416.30,444.42 416.55,444.41 416.80,444.30 417.05,444.16 417.30,444.21 417.55,444.30 417.80,444.21 418.05,444.43 418.30,444.42 418.55,444.51 418.80,444.52 419.05,444.55 419.30,444.49 419.55,444.56 419.80,444.48 420.05,444.41 420.30,444.53 420.55,444.59 420.80,444.64 421.05,444.57 421.30,444.62 421.55,444.61 421.80,444.59 422.05,444.54 422.30,444.64 422.55,444.70 422.80,444.62 423.05,444.49 423.30,444.48 423.55,444.50 423.80,444.35 424.05,444.37 424.30,444.54 424.55,444.73 424.80,444.82 425.05,444.95 425.30,444.84 425.55,444.83 425.80,444.60 426.05,444.44 426.30,444.49 426.55,444.56 426.80,444.59 427.05,444.69 427.30,444.82 427.55,444.74 427.80,444.79 428.05,444.85 428.30,444.88 428.55,444.85 428.80,444.86 429.05,444.91 429.30,444.81 429.55,444.81 429.80,444.78 430.05,444.68 430.30,444.54 430.55,444.50 430.80,444.59 431.05,444.69 431.30,444.78 431.55,444.83 431.80,444.85 432.05,444.71 432.30,444.70 432.55,444.69 432.80,444.65 433.05,444.65 433.30,444.58 433.55,444.60 433.80,444.63 434.05,444.73 434.30,444.77 434.55,444.72 434.80,444.64 435.05,444.68 435.30,444.65 435.55,444.68 435.80,444.78 436.05,444.76 436.30,444.78 436.55,444.78 436.80,444.79 437.05,444.82 437.30,444.83 437.55,444.75 437.80,444.73 438.05,444.70 438.30,444.77 438.55,444.79 438.80,444.90 439.05,444.95 439.30,444.85 439.55,444.85 439.80,444.83 440.05,444.82 440.30,444.87 440.55,445.02 440.80,444.98 441.05,444.79 441.30,444.78 441.55,444.75 441.80,444.74 442.05,444.77 442.30,444.98 442.55,444.97 442.80,444.86 443.05,444.82 443.30,444.81 443.55,444.83 443.80,444.73 444.05,444.71 444.30,444.66 444.55,444.62 444.80,444.59 445.05,444.75 445.30,444.95 445.55,444.94 445.80,444.98 446.05,444.94 446.30,444.88 446.55,444.76 446.80,444.89 447.05,444.82 447.30,444.82 447.55,444.71 447.80,444.80 448.05,444.73 448.30,444.79 448.55,444.86 448.80,444.87 449.05,444.92 449.30,444.96 449.55,444.95 449.80,444.90 450.05,444.94 450.30,444.80 450.55,444.81 450.80,444.81 451.05,444.81 451.30,444.79 451.55,444.83 451.80,444.91 452.05,444.92 452.30,444.80 452.55,444.69 452.80,444.72 453.05,444.50 453.30,444.49 453.55,444.66 453.80,444.85 454.05,444.93 454.30,444.99 454.55,444.99 454.80,444.91 455.05,444.78 455.30,444.61 455.55,444.73 455.80,444.81 456.05,444.79 456.30,444.93 456.55,444.97 456.80,444.93 457.05,444.78 457.30,444.85 457.55,444.81 457.80,444.77 458.05,444.67 458.30,444.70 458.55,444.68 458.80,444.78 459.05,444.93 459.30,445.07 459.55,445.14 459.80,445.21 460.05,445.04 460.30,444.94 460.55,444.91 460.80,444.89 461.05,444.79 461.30,444.88 461.55,444.89 461.80,444.83 462.05,444.78 462.30,444.86 462.55,444.82 462.80,444.76 463.05,444.75 463.30,444.82 463.55,444.86 463.80,444.94 464.05,444.88 464.30,444.95 464.55,444.95 464.80,444.89 465.05,444.91 465.30,445.13 465.55,445.10 465.80,445.06 466.05,445.00 466.30,444.92 466.55,444.84 466.80,444.76 467.05,444.87 467.30,445.01 467.55,445.05 467.80,445.15 468.05,445.25 468.30,445.12 468.55,445.08 468.80,445.15 469.05,445.01 469.30,444.88 469.55,444.96 469.80,444.79 470.05,444.60 470.30,444.64 470.55,444.69 470.80,444.74 471.05,444.85 471.30,444.95 471.55,445.00 471.80,445.03 472.05,444.95 472.30,444.83 472.55,444.92 472.80,444.86 473.05,444.84 473.30,444.76 473.55,444.89 473.80,444.72 474.05,444.72 474.30,444.70 474.55,444.64 474.80,444.58 475.05,444.56 475.30,444.57 475.55,444.62 475.80,444.67 476.05,444.74 476.30,444.75 476.55,444.73 476.80,444.70 477.05,444.76 477.30,444.68 477.55,444.71 477.80,444.71 478.05,444.65 478.30,444.63 478.55,444.68 478.80,444.75 479.05,444.68 479.30,444.66 479.55,444.55 479.80,444.57 480.05,444.47 480.30,444.48 480.55,444.59 480.80,444.74 481.05,444.85 481.30,444.96 481.55,444.98 481.80,445.06 482.05,444.96 482.30,444.86 482.55,444.83 482.80,444.78 483.05,444.69 483.30,444.75 483.55,444.86 483.80,444.77 484.05,444.91 484.30,444.89 484.55,444.89 484.80,444.69 485.05,444.79 485.30,444.82 485.55,444.91 485.80,444.79 486.05,444.73 486.30,444.66 486.55,444.65 486.80,444.63 487.05,444.72 487.30,444.79 487.55,444.90 487.80,444.92 488.05,444.82 488.30,444.83 488.55,444.87 488.80,444.90 489.05,444.85 489.30,444.97 489.55,444.91 489.80,444.94 490.05,444.79 490.30,444.76 490.55,444.71 490.80,444.76 491.05,444.67 491.30,444.75 491.55,444.68 491.80,444.60 492.05,444.49 492.30,444.58 492.55,444.51 492.80,444.53 493.05,444.52 493.30,444.64 493.55,444.60 493.80,444.53 494.05,444.60 494.30,444.71 494.55,444.72 494.80,444.79 495.05,444.87 495.30,444.93 495.55,444.93 495.80,444.89 496.05,444.90 496.30,444.90 496.55,444.77 496.80,444.67 497.05,444.67 497.30,444.47 497.55,444.40 497.80,444.39 498.05,444.33 498.30,444.29 498.55,444.35 498.80,444.30 499.05,444.32 499.30,444.42 499.55,444.50 499.80,444.63 500.05,444.71 500.30,444.69 500.55,444.67 500.80,444.72 501.05,444.74 501.30,444.71 501.55,444.77 501.80,444.75 502.05,444.70 502.30,444.44 502.55,444.44 502.80,444.29 503.05,444.09 503.30,444.07 503.55,444.16 503.80,444.26 504.05,444.42 504.30,444.69 504.55,444.71 504.80,444.73 505.05,444.66 505.30,444.50 505.55,444.32 505.80,444.29 506.05,444.42 506.30,444.39 506.55,444.39 506.80,444.45 507.05,444.43 507.30,444.36 507.55,444.32 507.80,444.48 508.05,444.51 508.30,444.46 508.55,444.33 508.80,444.41 509.05,444.21 509.30,444.04 509.55,443.84 509.80,443.72 510.05,443.22 510.30,442.93 510.55,442.32 510.80,441.67 511.05,440.56 511.30,439.35 511.55,437.89 511.80,436.70 512.05,435.75 512.30,435.66 512.55,436.40 512.80,437.66 513.05,438.83 513.30,440.12 513.55,441.14 513.80,441.68 514.05,442.11 514.30,442.48 514.55,442.49 514.80,442.48 515.05,442.55 515.30,442.41 515.55,442.15 515.80,441.76 516.05,441.07 516.30,440.19 516.55,438.80 516.80,437.18 517.05,435.28 517.30,433.50 517.55,432.20 517.80,431.92 518.05,432.52 518.30,433.72 518.55,434.94 518.80,435.83 519.05,436.09 519.30,435.59 519.55,433.98 519.80,431.09 520.05,426.76 520.30,420.97 520.55,414.13 520.80,407.15 521.05,401.55 521.30,399.12 521.55,401.02 521.80,406.18 522.05,412.55 522.30,418.58 522.55,423.36 522.80,426.29 523.05,427.03 523.30,425.59 523.55,421.73 523.80,415.41 524.05,406.85 524.30,396.85 524.55,386.90 524.80,379.44 525.05,377.42 525.30,381.95 525.55,390.72 525.80,400.99 526.05,410.56 526.30,418.13 526.55,423.21 526.80,425.88 527.05,425.98 527.30,423.89 527.55,420.01 527.80,414.56 528.05,408.56 528.30,403.30 528.55,400.81 528.80,402.35 529.05,407.33 529.30,413.89 529.55,420.65 529.80,426.43 530.05,430.86 530.30,434.04 530.55,436.09 530.80,437.10 531.05,437.24 531.30,436.73 531.55,435.70 531.80,434.23 532.05,432.63 532.30,431.67 532.55,431.54 532.80,432.48 533.05,434.15 533.30,436.26 533.55,438.15 533.80,439.73 534.05,441.03 534.30,442.02 534.55,442.60 534.80,442.95 535.05,443.31 535.30,443.39 535.55,443.45 535.80,443.52 536.05,443.66 536.30,443.77 536.55,443.77 536.80,443.86 537.05,443.89 537.30,443.93 537.55,443.81 537.80,444.08 538.05,444.09 538.30,444.26 538.55,444.18 538.80,444.33 539.05,444.35 539.30,444.49 539.55,444.35 539.80,444.38 540.05,444.26 540.30,444.21 540.55,444.05 540.80,444.25 541.05,444.39 541.30,444.60 541.55,444.55 541.80,444.65 542.05,444.54 542.30,444.42 542.55,444.25 542.80,444.30 543.05,444.29 543.30,444.30 543.55,444.32 543.80,444.45 544.05,444.53 544.30,444.59 544.55,444.57 544.80,444.70 545.05,444.72 545.30,444.66 545.55,444.58 545.80,444.49 546.05,444.56 546.30,444.54 546.55,444.51 546.80,444.53 547.05,444.50 547.30,444.46 547.55,444.43 547.80,444.47 548.05,444.51 548.30,444.66 548.55,444.63 548.80,444.55 549.05,444.50 549.30,444.54 549.55,444.62 549.80,444.62 550.05,444.73 550.30,444.72 550.55,444.65 550.80,444.60 551.05,444.58 551.30,444.54 551.55,444.60 551.80,444.54 552.05,444.43 552.30,444.46 552.55,444.48 552.80,444.43 553.05,444.55 553.30,444.88 553.55,444.80 553.80,444.82 554.05,444.87 554.30,444.82 554.55,444.55 554.80,444.66 555.05,444.60 555.30,444.49 555.55,444.64 555.80,444.65 556.05,444.63 556.30,444.69 556.55,444.78 556.80,444.78 557.05,444.76 557.30,444.73 557.55,444.74 557.80,444.67 558.05,444.51 558.30,444.62 558.55,444.73 558.80,444.75 559.05,444.69 559.30,444.82 559.55,444.66 559.80,444.47 560.05,444.43 560.30,444.59 560.55,444.51 560.80,444.60 561.05,444.81 561.30,444.72 561.55,444.72 561.80,444.80 562.05,444.87 562.30,444.61 562.55,444.79 562.80,444.86 563.05,444.74 563.30,444.65 563.55,444.84 563.80,444.77 564.05,444.62 564.30,444.70 564.55,444.69 564.80,444.54 565.05,444.39 565.30,444.48 565.55,444.39 565.80,444.38 566.05,444.42 566.30,444.61 566.55,444.58 566.80,444.69 567.05,444.74 567.30,444.85 567.55,444.90 567.80,444.91 568.05,444.85 568.30,444.75 568.55,444.64 568.80,444.65 569.05,444.69 569.30,444.59 569.55,444.63 569.80,444.63 570.05,444.52 570.30,444.48 570.55,444.58 570.80,444.67 571.05,444.71 571.30,444.67 571.55,444.68 571.80,444.51 572.05,444.42 572.30,444.41 572.55,444.49 572.80,444.51 573.05,444.77 573.30,444.90 573.55,444.93 573.80,444.90 574.05,444.89 574.30,444.78 574.55,444.67 574.80,444.67 575.05,444.59 575.30,444.57 575.55,444.62 575.80,444.74 576.05,444.64 576.30,444.68 576.55,444.74 576.80,444.69 577.05,444.61 577.30,444.64 577.55,444.77 577.80,444.60 578.05,444.61 578.30,444.53 578.55,444.66 578.80,444.58 579.05,444.55 579.30,444.69 579.55,444.64 579.80,444.58 580.05,444.63 580.30,444.70 580.55,444.55 580.80,444.56 581.05,444.44 581.30,444.55 581.55,444.65 581.80,444.77 582.05,444.75 582.30,444.81 582.55,444.56 582.80,444.54 583.05,444.57 583.30,444.64 583.55,444.63 583.80,444.81 584.05,444.68 584.30,444.61 584.55,444.61 584.80,444.71 585.05,444.59 585.30,444.56 585.55,444.53 585.80,444.47 586.05,444.45 586.30,444.60 586.55,444.79 586.80,444.68 587.05,444.67 587.30,444.48 587.55,444.29 587.80,444.10 588.05,444.13 588.30,444.36 588.55,444.55 588.80,444.62 589.05,444.67 589.30,444.74 589.55,444.65 589.80,444.63 590.05,444.68 590.30,444.78 590.55,444.73 590.80,444.63 591.05,444.70 591.30,444.55 591.55,444.51 591.80,444.57 592.05,444.74 592.30,444.61 592.55,444.60 592.80,444.68 593.05,444.60 593.30,444.34 593.55,444.30 593.80,444.39 594.05,444.36 594.30,444.45 594.55,444.59 594.80,444.62 595.05,444.62 595.30,444.58 595.55,444.49 595.80,444.51 596.05,444.67 596.30,444.65 596.55,444.59 596.80,444.62 597.05,444.61 597.30,444.46 597.55,444.52 597.80,444.56 598.05,444.62 598.30,444.57 598.55,444.66 598.80,444.71 599.05,444.66 599.30,444.59 599.55,444.60 599.80,444.50 600.05,444.36 600.30,444.44 600.55,444.47 600.80,444.45 601.05,444.45 601.30,444.40 601.55,444.37 601.80,444.29 602.05,444.30 602.30,444.32 602.55,444.26 602.80,444.17 603.05,444.24 603.30,444.08 603.55,443.97 603.80,444.06 604.05,444.04 604.30,444.02 604.55,444.21 604.80,444.27 605.05,444.26 605.30,444.27 605.55,444.08 605.80,443.95 606.05,443.91 606.30,443.91 606.55,443.82 606.80,443.95 607.05,443.97 607.30,443.85 607.55,443.63 607.80,443.67 608.05,443.51 608.30,443.45 608.55,443.44 608.80,443.49 609.05,443.15 609.30,443.15 609.55,442.66 609.80,442.21 610.05,441.67 610.30,441.12 610.55,439.99 610.80,438.87 611.05,437.25 611.30,435.47 611.55,433.83 611.80,432.62 612.05,432.35 612.30,433.17 612.55,434.41 612.80,435.52 613.05,436.36 613.30,436.61 613.55,436.00 613.80,434.22 614.05,431.48 614.30,427.27 614.55,421.57 614.80,414.60 615.05,407.39 615.30,400.97 615.55,397.82 615.80,399.03 616.05,403.97 616.30,410.60 616.55,417.32 616.80,422.68 617.05,426.46 617.30,428.49 617.55,428.39 617.80,426.14 618.05,421.67 618.30,414.92 618.55,405.90 618.80,395.39 619.05,384.84 619.30,377.22 619.55,375.14 619.80,379.60 620.05,388.90 620.30,399.69 620.55,409.86 620.80,418.23 621.05,424.37 621.30,428.14 621.55,429.81 621.80,429.50 622.05,427.38 622.30,423.37 622.55,417.56 622.80,410.69 623.05,403.12 623.30,396.70 623.55,393.70 623.80,395.29 624.05,400.93 624.30,408.71 624.55,416.52 624.80,423.34 625.05,428.86 625.30,432.75 625.55,435.15 625.80,436.54 626.05,436.85 626.30,436.47 626.55,435.47 626.80,433.89 627.05,431.89 627.30,430.02 627.55,428.85 627.80,428.88 628.05,430.19 628.30,432.28 628.55,434.67 628.80,436.95 629.05,438.78 629.30,440.32 629.55,441.52 629.80,442.25 630.05,442.61 630.30,442.88 630.55,443.07 630.80,443.22 631.05,443.39 631.30,443.59 631.55,443.65 631.80,443.62 632.05,443.74 632.30,443.81 632.55,443.81 632.80,443.90 633.05,444.20 633.30,444.09 633.55,444.09 633.80,444.10 634.05,444.10 634.30,443.86 634.55,443.99 634.80,444.05 635.05,444.06 635.30,444.18 635.55,444.30 635.80,444.33 636.05,444.34 636.30,444.41 636.55,444.37 636.80,444.45 637.05,444.33 637.30,444.31 637.55,444.34 637.80,444.21 638.05,444.00 638.30,444.05 638.55,444.10 638.80,444.17 639.05,444.30 639.30,444.56 639.55,444.66 639.80,444.67 640.05,444.56 640.30,444.52 640.55,444.44 640.80,444.26 641.05,444.28 641.30,444.37 641.55,444.40 641.80,444.48 642.05,444.52 642.30,444.51 642.55,444.48 642.80,444.40 643.05,444.32 643.30,444.44 643.55,444.52 643.80,444.59 644.05,444.67 644.30,444.70 644.55,444.54 644.80,444.52 645.05,444.44 645.30,444.55 645.55,444.46 645.80,444.65 646.05,444.61 646.30,444.52 646.55,444.52 646.80,444.74 647.05,444.68 647.30,444.69 647.55,444.68 647.80,444.62 648.05,444.54 648.30,444.54 648.55,444.52 648.80,444.58 649.05,444.71 649.30,444.62 649.55,444.49 649.80,444.52 650.05,444.55 650.30,444.40 650.55,444.38 650.80,444.44 651.05,444.35 651.30,444.44 651.55,444.40 651.80,444.39 652.05,444.46 652.30,444.58 652.55,444.54 652.80,444.58 653.05,444.60 653.30,444.59 653.55,444.52 653.80,444.48 654.05,444.56 654.30,444.60 654.55,444.65 654.80,444.64 655.05,444.64 655.30,444.58 655.55,444.61 655.80,444.48 656.05,444.45 656.30,444.59 656.55,444.61 656.80,444.55 657.05,444.52 657.30,444.55 657.55,444.49 657.80,444.56 658.05,444.52 658.30,444.63 658.55,444.71 658.80,444.69 659.05,444.61 659.30,444.69 659.55,444.71 659.80,444.64 660.05,444.61 660.30,444.65 660.55,444.63 660.80,444.68 661.05,444.78 661.30,444.73 661.55,444.65 661.80,444.68 662.05,444.62 662.30,444.59 662.55,444.64 662.80,444.66 663.05,444.79 663.30,444.88 663.55,444.89 663.80,444.91 664.05,444.96 664.30,444.89 664.55,444.79 664.80,444.84 665.05,444.68 665.30,444.59 665.55,444.48 665.80,444.35 666.05,444.24 666.30,444.32 666.55,444.30 666.80,444.28 667.05,444.41 667.30,444.38 667.55,444.45 667.80,444.45 668.05,444.52 668.30,444.40 668.55,444.34 668.80,444.33 669.05,444.38 669.30,444.52 669.55,444.64 669.80,444.78 670.05,444.78 670.30,444.75 670.55,444.65 670.80,444.58 671.05,444.59 671.30,444.53 671.55,444.64 671.80,444.60 672.05,444.61 672.30,444.60 672.55,444.61 672.80,444.41 673.05,444.39 673.30,444.46 673.55,444.38 673.80,444.46 674.05,444.62 674.30,444.66 674.55,444.49 674.80,444.71 675.05,444.74 675.30,444.69 675.55,444.60 675.80,444.64 676.05,444.36 676.30,444.24 676.55,444.29 676.80,444.26 677.05,444.30 677.30,444.45 677.55,444.53 677.80,444.47 678.05,444.50 678.30,444.62 678.55,444.61 678.80,444.57 679.05,444.60 679.30,444.60 679.55,444.39 679.80,444.28 680.05,444.33 680.30,444.29 680.55,444.23 680.80,444.22 681.05,444.27 681.30,444.08 681.55,444.02 681.80,444.11 682.05,444.18 682.30,444.23 682.55,444.40 682.80,444.40 683.05,444.38 683.30,444.44 683.55,444.37 683.80,444.25 684.05,444.27 684.30,444.23 684.55,444.08 684.80,444.09 685.05,443.99 685.30,443.87 685.55,443.81 685.80,443.79 686.05,443.52 686.30,443.50 686.55,443.38 686.80,443.03 687.05,442.64 687.30,442.17 687.55,441.48 687.80,440.62 688.05,439.86 688.30,438.97 688.55,438.56 688.80,438.47 689.05,438.89 689.30,439.38 689.55,440.01 689.80,440.53 690.05,440.67 690.30,440.52 690.55,439.96 690.80,438.91 691.05,436.95 691.30,434.48 691.55,430.92 691.80,426.58 692.05,421.64 692.30,417.08 692.55,413.87 692.80,413.36 693.05,415.66 693.30,419.61 693.55,423.81 693.80,427.37 694.05,429.94 694.30,431.05 694.55,430.51 694.80,428.20 695.05,423.77 695.30,417.20 695.55,409.14 695.80,400.18 696.05,392.01 696.30,387.27 696.55,387.95 696.80,393.37 697.05,401.59 697.30,410.33 697.55,418.04 697.80,423.96 698.05,427.80 698.30,429.94 698.55,430.15 698.80,428.54 699.05,424.81 699.30,419.45 699.55,412.09 699.80,403.56 700.05,394.96 700.30,388.85 700.55,387.22 700.80,391.14 701.05,398.98 701.30,407.97 701.55,416.35 701.80,423.56 702.05,428.65 702.30,431.78 702.55,433.60 702.80,433.93 703.05,432.78 703.30,430.57 703.55,427.40 703.80,423.19 704.05,418.77 704.30,414.95 704.55,413.29 704.80,414.28 705.05,417.83 705.30,422.61 705.55,427.47 705.80,431.34 706.05,434.58 706.30,436.82 706.55,438.13 706.80,438.62 707.05,438.69 707.30,438.23 707.55,437.55 707.80,436.92 708.05,436.67 708.30,437.06 708.55,437.74 708.80,438.83 709.05,439.95 709.30,440.98 709.55,441.86 709.80,442.65 710.05,443.01 710.30,443.28 710.55,443.36 710.80,443.47 711.05,443.46 711.30,443.66 711.55,443.60 711.80,443.69 712.05,443.66 712.30,443.66 712.55,443.53 712.80,443.55 713.05,443.58 713.30,443.48 713.55,443.39 713.80,443.27 714.05,443.25 714.30,443.01 714.55,443.02 714.80,443.05 715.05,442.96 715.30,442.68 715.55,442.60 715.80,442.25 716.05,442.04 716.30,441.93 716.55,441.86 716.80,441.63 717.05,441.55 717.30,441.29 717.55,441.02 717.80,440.71 718.05,440.51 718.30,440.02 718.55,439.56 718.80,439.25 719.05,439.01 719.30,438.69 719.55,438.84 719.80,439.08 720.05,439.14 720.30,439.58 720.55,440.01 720.80,440.31 721.05,440.59 721.30,440.94 721.55,441.00 721.80,441.25 722.05,441.36 722.30,441.50 722.55,441.59 722.80,441.79 723.05,441.88 723.30,442.13 723.55,442.35 723.80,442.70 724.05,442.90 724.30,443.22 724.55,443.50 724.80,443.67 725.05,443.87 725.30,443.96 725.55,443.93 725.80,443.91 726.05,444.07 726.30,443.91 726.55,443.95 726.80,444.06 727.05,444.15 727.30,444.10 727.55,444.24 727.80,444.34 728.05,444.38 728.30,444.43 728.55,444.47 728.80,444.53 729.05,444.54 729.30,444.57 729.55,444.50 729.80,444.49 730.05,444.43 730.30,444.49 730.55,444.43 730.80,444.30 731.05,444.33 731.30,444.53 731.55,444.28 731.80,444.39 732.05,444.53 732.30,444.55 732.55,444.37 732.80,444.56 733.05,444.45 733.30,444.48 733.55,444.35 733.80,444.36 734.05,444.22 734.30,444.35 734.55,444.37 734.80,444.42 735.05,444.47 735.30,444.49 735.55,444.30 735.80,444.23 736.05,444.07 736.30,443.84 736.55,443.68 736.80,443.46 737.05,443.31 737.30,443.21 737.55,443.14 737.80,443.22 738.05,443.38 738.30,443.49 738.55,443.72 738.80,443.96 739.05,443.96 739.30,444.13 739.55,444.25 739.80,444.36 740.05,444.44 740.30,444.58 740.55,444.52 740.80,444.36 741.05,444.29 741.30,444.16 741.55,443.98 741.80,443.70 742.05,443.52 742.30,443.06 742.55,442.73 742.80,442.74 743.05,442.72 743.30,442.76 743.55,443.08 743.80,443.31 744.05,443.30 744.30,443.58 744.55,443.70 744.80,443.88 745.05,444.04 745.30,444.21 745.55,444.26 745.80,444.40 746.05,444.52 746.30,444.56 746.55,444.73 746.80,444.71 747.05,444.74 747.30,444.61 747.55,444.50 747.80,444.25 748.05,444.41 748.30,444.45 748.55,444.46 748.80,444.71 749.05,444.90 749.30,444.86 749.55,444.83 749.80,444.84 750.05,444.79 750.30,444.65 750.55,444.43 750.80,444.48 751.05,444.51 751.30,444.43 751.55,444.46 751.80,444.64 752.05,444.52 752.30,444.45 752.55,444.47 752.80,444.46 753.05,444.41 753.30,444.40 753.55,444.40 753.80,444.44 754.05,444.45 754.30,444.54 754.55,444.72 754.80,444.71 755.05,444.60 755.30,444.66 755.55,444.58 755.80,444.51 756.05,444.62 756.30,444.61 756.55,444.70 756.80,444.67 757.05,444.60 757.30,444.50 757.55,444.67 757.80,444.73 758.05,444.80 758.30,444.90 758.55,444.96 758.80,444.79 759.05,444.61 759.30,444.43 759.55,444.37 759.80,444.52 760.05,444.53 760.30,444.69 760.55,444.80 760.80,444.73 761.05,444.62 761.30,444.69 761.55,444.61 761.80,444.67 762.05,444.65 762.30,444.60 762.55,444.62 762.80,444.52 763.05,444.60 763.30,444.82 763.55,444.79 763.80,444.76 764.05,444.74 764.30,444.72 764.55,444.68 764.80,444.60 765.05,444.53 765.30,444.63 765.55,444.45 765.80,444.39 766.05,444.54 766.30,444.58 766.55,444.64 766.80,444.81 767.05,444.77 767.30,444.81 767.55,444.82 767.80,444.74 768.05,444.73 768.30,444.75 768.55,444.57 768.80,444.46 769.05,444.45 769.30,444.41 769.55,444.44 769.80,444.54 770.05,444.55 770.30,444.42 770.55,444.39 770.80,444.45 771.05,444.42 771.30,444.68 771.55,444.61 771.80,444.49 772.05,444.34 772.30,444.42 772.55,444.20 772.80,444.28 773.05,444.29 773.30,444.34 773.55,444.33 773.80,444.50 774.05,444.50 774.30,444.60 774.55,444.54 774.80,444.62 775.05,444.48 775.30,444.63 775.55,444.65 775.80,444.59 776.05,444.51 776.30,444.62 776.55,444.47 776.80,444.50 777.05,444.61 777.30,444.64 777.55,444.62 777.80,444.66 778.05,444.63 778.30,444.65 778.55,444.61 778.80,444.51 779.05,444.65 779.30,444.63 779.55,444.66 779.80,444.55 780.05,444.62 780.30,444.53 780.55,444.43 780.80,444.43 781.05,444.54 781.30,444.58 781.55,444.63 781.80,444.83 782.05,444.76 782.30,444.89 782.55,444.94 782.80,444.97 783.05,444.91 783.30,444.90 783.55,444.77 783.80,444.54 784.05,444.45 784.30,444.41 784.55,444.51 784.80,444.62 785.05,444.59 785.30,444.48 785.55,444.44 785.80,444.37 786.05,444.16 786.30,444.30 786.55,444.43 786.80,444.52 787.05,444.51 787.30,444.61 787.55,444.87 787.80,444.86 788.05,444.90 788.30,444.99 788.55,444.85 788.80,444.53 789.05,444.46 789.30,444.42 789.55,444.34 789.80,444.45 790.05,444.49 790.30,444.67 790.55,444.60 790.80,444.58 791.05,444.64 791.30,444.62 791.55,444.53 791.80,444.60 792.05,444.69 792.30,444.68 792.55,444.62 792.80,444.46 793.05,444.41 793.30,444.48 793.55,444.42 793.80,444.51 794.05,444.70 794.30,444.69 794.55,444.68 794.80,444.78 795.05,444.66 795.30,444.62 795.55,444.67 795.80,444.55 796.05,444.52 796.30,444.60 796.55,444.60 796.80,444.54 797.05,444.53 797.30,444.57 797.55,444.65 797.80,444.67 798.05,444.75 798.30,444.89 798.55,444.77 798.80,444.81 799.05,444.90 799.30,444.86 799.55,444.79 799.80,444.92 800.05,444.83 800.30,444.75 800.55,444.70 800.80,444.75 801.05,444.73 801.30,444.70 801.55,444.61 801.80,444.65 802.05,444.52 802.30,444.37 802.55,444.35 802.80,444.41 803.05,444.36 803.30,444.31 803.55,444.30 803.80,444.43 804.05,444.38 804.30,444.42 804.55,444.48 804.80,444.56 805.05,444.46 805.30,444.59 805.55,444.42 805.80,444.51 806.05,444.45 806.30,444.51 806.55,444.41 806.80,444.69 807.05,444.64 807.30,444.70 807.55,444.63 807.80,444.58 808.05,444.40 808.30,444.35 808.55,444.26 808.80,444.23 809.05,444.23 809.30,444.22 809.55,444.19 809.80,444.26 810.05,444.25 810.30,444.32 810.55,444.40 810.80,444.34 811.05,444.34 811.30,444.33 811.55,444.24 811.80,444.23 812.05,444.30 812.30,444.28 812.55,444.35 812.80,444.46 813.05,444.51 813.30,444.46 813.55,444.50 813.80,444.41 814.05,444.14 814.30,443.94 814.55,443.98 814.80,444.00 815.05,444.10 815.30,444.35 815.55,444.51 815.80,444.36 816.05,444.26 816.30,444.15 816.55,444.09 816.80,444.11 817.05,444.33 817.30,444.47 817.55,444.51 817.80,444.47 818.05,444.42 818.30,444.34 818.55,444.32 818.80,444.25 819.05,444.41 819.30,444.46 819.55,444.49 819.80,444.30 820.05,444.30 820.30,444.04 820.55,443.99 820.80,443.94 821.05,443.91 821.30,444.01 821.55,444.10 821.80,444.00 822.05,443.90 822.30,443.97 822.55,443.79 822.80,443.66 823.05,443.66 823.30,443.47 823.55,443.28 823.80,443.20 824.05,443.23 824.30,443.05 824.55,442.94 824.80,442.88 825.05,442.57 825.30,442.15 825.55,441.67 825.80,441.33 826.05,440.67 826.30,439.88 826.55,438.76 826.80,437.08 827.05,433.87 827.30,427.56 827.55,415.86 827.80,397.37 828.05,374.21 828.30,356.39 828.55,358.28 828.80,377.64 829.05,399.60 829.30,416.22 829.55,426.08 829.80,430.65 830.05,432.30 830.30,432.27 830.55,430.91 830.80,427.38 831.05,419.78 831.30,404.10 831.55,376.07 831.80,335.09 832.05,290.94 832.30,269.79 832.55,290.99 832.80,335.13 833.05,376.07 833.30,404.18 833.55,419.95 833.80,427.81 834.05,431.30 834.30,432.98 834.55,433.62 834.80,433.06 835.05,431.07 835.30,426.10 835.55,416.05 835.80,399.34 836.05,378.57 836.30,362.92 836.55,365.34 836.80,383.67 837.05,404.83 837.30,420.73 837.55,430.37 837.80,435.47 838.05,438.12 838.30,439.48 838.55,440.43 838.80,440.96 839.05,441.47 839.30,441.98 839.55,442.19 839.80,442.51 840.05,442.81 840.30,443.12 840.55,443.04 840.80,443.22 841.05,443.25 841.30,443.19 841.55,443.10 841.80,443.31 842.05,443.44 842.30,443.54 842.55,443.65 842.80,443.80 843.05,443.87 843.30,443.86 843.55,443.95 843.80,444.06 844.05,444.08 844.30,444.02 844.55,444.00 844.80,443.94 845.05,444.02 845.30,443.97 845.55,444.16 845.80,444.24 846.05,444.25 846.30,444.19 846.55,444.24 846.80,444.03 847.05,444.04 847.30,444.10 847.55,444.10 847.80,444.22 848.05,444.29 848.30,444.31 848.55,444.29 848.80,444.39 849.05,444.24 849.30,444.24 849.55,444.30 849.80,444.38 850.05,444.46 850.30,444.53 850.55,444.57 850.80,444.52 851.05,444.48 851.30,444.35 851.55,444.32 851.80,444.39 852.05,444.37 852.30,444.51 852.55,444.56 852.80,444.56 853.05,444.48 853.30,444.51 853.55,444.38 853.80,444.29 854.05,444.44 854.30,444.46 854.55,444.47 854.80,444.42 855.05,444.46 855.30,444.41 855.55,444.47 855.80,444.46 856.05,444.57 856.30,444.64 856.55,444.48 856.80,444.42 857.05,444.37 857.30,444.38 857.55,444.40 857.80,444.41 858.05,444.47 858.30,444.51 858.55,444.48 858.80,444.52 859.05,444.71 859.30,444.71 859.55,444.86 859.80,444.86 860.05,444.79 860.30,444.57 860.55,444.42 860.80,444.23 861.05,444.23 861.30,444.24 861.55,444.31 861.80,444.39 862.05,444.44 862.30,444.40 862.55,444.45 862.80,444.58 863.05,444.56 863.30,444.52 863.55,444.49 863.80,444.24 864.05,444.07 864.30,443.97 864.55,443.69 864.80,443.30 865.05,443.17 865.30,442.95 865.55,442.89 865.80,443.11 866.05,443.52 866.30,443.72 866.55,444.13 866.80,444.24 867.05,444.26 867.30,444.20 867.55,444.26 867.80,444.14"/>
<polyline stroke="#7d1015" points="21.30,599.03 21.55,598.88 21.80,598.72 22.05,598.28 22.30,597.76 22.55,597.02 22.80,596.32 23.05,595.53 23.30,595.03 23.55,595.27 23.80,596.11 24.05,597.25 24.30,598.30 24.55,599.22 24.80,599.79 25.05,600.11 25.30,600.38 25.55,600.51 25.80,600.58 26.05,600.67 26.30,600.89 26.55,600.84 26.80,600.80 27.05,600.77 27.30,600.75 27.55,600.59 27.80,600.51 28.05,600.61 28.30,600.82 28.55,601.08 28.80,601.22 29.05,601.44 29.30,601.61 29.55,601.59 29.80,601.56 30.05,601.70 30.30,601.92 30.55,602.05 30.80,602.17 31.05,602.32 31.30,602.40 31.55,602.25 31.80,602.25 32.05,602.33 32.30,602.24 32.55,602.27 32.80,602.23 33.05,602.24 33.30,602.32 33.55,602.39 33.80,602.41 34.05,602.56 34.30,602.59 34.55,602.35 34.80,602.21 35.05,601.84 35.30,601.48 35.55,600.90 35.80,600.49 36.05,599.65 36.30,598.35 36.55,596.37 36.80,593.39 37.05,589.34 37.30,584.64 37.55,580.16 37.80,577.25 38.05,577.49 38.30,580.16 38.55,584.18 38.80,588.02 39.05,590.84 39.30,591.96 39.55,591.43 39.80,588.67 40.05,583.66 40.30,576.20 40.55,567.37 40.80,558.26 41.05,551.93 41.30,551.33 41.55,556.76 41.80,565.41 42.05,574.65 42.30,582.27 42.55,587.60 42.80,590.51 43.05,591.27 43.30,590.04 43.55,587.34 43.80,583.70 44.05,580.27 44.30,578.14 44.55,578.80 44.80,582.14 45.05,586.67 45.30,591.13 45.55,595.09 45.80,598.02 46.05,599.88 46.30,601.24 46.55,602.13 46.80,602.63 47.05,602.97 47.30,603.31 47.55,603.50 47.80,603.70 48.05,603.83 48.30,603.94 48.55,604.11 48.80,604.25 49.05,604.37 49.30,604.42 49.55,604.58 49.80,604.74 50.05,604.88 50.30,604.86 50.55,605.06 50.80,605.06 51.05,605.10 51.30,605.09 51.55,605.09 51.80,605.08 52.05,605.20 52.30,605.22 52.55,605.34 52.80,605.47 53.05,605.46 53.30,605.48 53.55,605.65 53.80,605.73 54.05,605.79 54.30,605.92 54.55,605.94 54.80,605.83 55.05,605.88 55.30,605.92 55.55,605.81 55.80,605.83 56.05,605.90 56.30,605.89 56.55,606.04 56.80,606.14 57.05,606.28 57.30,606.34 57.55,606.36 57.80,606.37 58.05,606.48 58.30,606.41 58.55,606.48 58.80,606.45 59.05,606.43 59.30,606.43 59.55,606.55 59.80,606.46 60.05,606.57 60.30,606.59 60.55,606.68 60.80,606.63 61.05,606.72 61.30,606.73 61.55,606.69 61.80,606.82 62.05,606.90 62.30,606.83 62.55,606.96 62.80,607.00 63.05,606.88 63.30,606.97 63.55,607.05 63.80,606.96 64.05,607.02 64.30,607.01 64.55,606.88 64.80,606.87 65.05,606.91 65.30,607.04 65.55,607.11 65.80,607.35 66.05,607.50 66.30,607.50 66.55,607.45 66.80,607.30 67.05,607.15 67.30,607.07 67.55,607.14 67.80,607.21 68.05,607.33 68.30,607.38 68.55,607.36 68.80,607.36 69.05,607.36 69.30,607.44 69.55,607.45 69.80,607.70 70.05,607.81 70.30,607.81 70.55,607.77 70.80,607.82 71.05,607.72 71.30,607.66 71.55,607.72 71.80,607.82 72.05,607.95 72.30,608.04 72.55,608.05 72.80,608.06 73.05,608.01 73.30,607.90 73.55,607.97 73.80,607.97 74.05,608.09 74.30,608.11 74.55,608.18 74.80,608.15 75.05,608.20 75.30,608.12 75.55,608.14 75.80,608.11 76.05,608.05 76.30,608.02 76.55,608.12 76.80,608.14 77.05,608.30 77.30,608.16 77.55,608.22 77.80,608.17 78.05,608.18 78.30,608.15 78.55,608.38 78.80,608.38 79.05,608.39 79.30,608.60 79.55,608.57 79.80,608.56 80.05,608.57 80.30,608.56 80.55,608.32 80.80,608.30 81.05,608.46 81.30,608.57 81.55,608.62 81.80,608.79 82.05,608.94 82.30,608.83 82.55,608.91 82.80,608.95 83.05,608.91 83.30,608.91 83.55,608.74 83.80,608.58 84.05,608.55 84.30,608.49 84.55,608.39 84.80,608.51 85.05,608.52 85.30,608.69 85.55,608.81 85.80,608.83 86.05,608.97 86.30,609.01 86.55,608.90 86.80,608.90 87.05,609.02 87.30,608.86 87.55,608.94 87.80,608.90 88.05,608.82 88.30,608.80 88.55,608.84 88.80,608.91 89.05,608.95 89.30,609.08 89.55,609.03 89.80,609.16 90.05,608.95 90.30,608.93 90.55,608.86 90.80,608.89 91.05,608.84 91.30,609.01 91.55,608.96 91.80,609.13 92.05,609.28 92.30,609.28 92.55,609.25 92.80,609.34 93.05,609.31 93.30,609.30 93.55,609.24 93.80,609.22 94.05,609.14 94.30,609.00 94.55,608.79 94.80,608.90 95.05,608.88 95.30,609.05 95.55,609.19 95.80,609.25 96.05,609.17 96.30,609.21 96.55,609.22 96.80,609.12 97.05,609.10 97.30,609.17 97.55,609.25 97.80,609.13 98.05,609.30 98.30,609.42 98.55,609.46 98.80,609.39 99.05,609.44 99.30,609.34 99.55,609.19 99.80,609.19 100.05,609.14 100.30,609.15 100.55,609.08 100.80,609.36 101.05,609.38 101.30,609.56 101.55,609.63 101.80,609.65 102.05,609.38 102.30,609.35 102.55,609.36 102.80,609.32 103.05,609.47 103.30,609.68 103.55,609.62 103.80,609.59 104.05,609.72 104.30,609.64 104.55,609.46 104.80,609.55 105.05,609.52 105.30,609.43 105.55,609.41 105.80,609.56 106.05,609.44 106.30,609.54 106.55,609.62 106.80,609.77 107.05,609.68 107.30,609.85 107.55,609.61 107.80,609.54 108.05,609.46 108.30,609.50 108.55,609.52 108.80,609.72 109.05,609.78 109.30,609.80 109.55,609.88 109.80,609.75 110.05,609.67 110.30,609.59 110.55,609.61 110.80,609.61 111.05,609.83 111.30,609.86 111.55,609.89 111.80,609.89 112.05,609.89 112.30,609.83 112.55,609.86 112.80,609.97 113.05,609.95 113.30,610.04 113.55,610.02 113.80,610.16 114.05,609.98 114.30,610.05 114.55,609.96 114.80,609.98 115.05,609.97 115.30,610.00 115.55,609.89 115.80,609.86 116.05,609.87 116.30,609.68 116.55,609.77 116.80,609.78 117.05,609.78 117.30,609.75 117.55,609.90 117.80,609.86 118.05,609.92 118.30,610.00 118.55,610.01 118.80,609.82 119.05,609.85 119.30,609.89 119.55,609.97 119.80,610.13 120.05,610.35 120.30,610.39 120.55,610.33 120.80,610.27 121.05,610.20 121.30,610.25 121.55,610.19 121.80,610.28 122.05,610.33 122.30,610.41 122.55,610.35 122.80,610.38 123.05,610.33 123.30,610.26 123.55,610.11 123.80,610.15 124.05,610.26 124.30,610.36 124.55,610.47 124.80,610.49 125.05,610.47 125.30,610.38 125.55,610.35 125.80,610.35 126.05,610.39 126.30,610.25 126.55,610.27 126.80,610.23 127.05,610.06 127.30,610.02 127.55,610.21 127.80,610.34 128.05,610.36 128.30,610.53 128.55,610.66 128.80,610.53 129.05,610.43 129.30,610.46 129.55,610.42 129.80,610.25 130.05,610.31 130.30,610.38 130.55,610.47 130.80,610.59 131.05,610.67 131.30,610.82 131.55,610.81 131.80,610.64 132.05,610.58 132.30,610.59 132.55,610.51 132.80,610.47 133.05,610.64 133.30,610.61 133.55,610.62 133.80,610.66 134.05,610.69 134.30,610.59 134.55,610.66 134.80,610.66 135.05,610.57 135.30,610.52 135.55,610.46 135.80,610.35 136.05,610.50 136.30,610.49 136.55,610.53 136.80,610.56 137.05,610.56 137.30,610.55 137.55,610.67 137.80,610.64 138.05,610.72 138.30,610.71 138.55,610.57 138.80,610.46 139.05,610.45 139.30,610.47 139.55,610.57 139.80,610.66 140.05,610.71 140.30,610.69 140.55,610.67 140.80,610.58 141.05,610.61 141.30,610.66 141.55,610.80 141.80,610.79 142.05,610.74 142.30,610.75 142.55,610.80 142.80,610.66 143.05,610.70 143.30,610.90 143.55,610.78 143.80,610.82 144.05,610.89 144.30,610.82 144.55,610.84 144.80,610.93 145.05,610.79 145.30,610.87 145.55,610.82 145.80,610.85 146.05,610.79 146.30,610.85 146.55,610.78 146.80,610.94 147.05,610.88 147.30,610.89 147.55,610.93 147.80,610.94 148.05,610.87 148.30,610.81 148.55,610.80 148.80,610.71 149.05,610.79 149.30,610.83 149.55,610.93 149.80,611.02 150.05,611.01 150.30,610.84 150.55,610.81 150.80,610.76 151.05,610.74 151.30,610.75 151.55,610.95 151.80,610.88 152.05,610.79 152.30,610.81 152.55,611.00 152.80,610.97 153.05,611.02 153.30,611.15 153.55,611.19 153.80,611.11 154.05,611.07 154.30,611.09 154.55,611.06 154.80,611.05 155.05,611.10 155.30,611.26 155.55,611.27 155.80,611.24 156.05,611.21 156.30,611.10 156.55,611.00 156.80,611.08 157.05,611.14 157.30,611.23 157.55,611.25 157.80,611.15 158.05,611.03 158.30,610.95 158.55,610.80 158.80,610.70 159.05,610.81 159.30,610.93 159.55,610.97 159.80,610.99 160.05,611.01 160.30,610.92 160.55,611.03 160.80,610.92 161.05,610.99 161.30,611.14 161.55,611.22 161.80,611.08 162.05,611.28 162.30,611.20 162.55,611.20 162.80,611.28 163.05,611.24 163.30,611.15 163.55,611.23 163.80,611.26 164.05,611.26 164.30,611.38 164.55,611.39 164.80,611.32 165.05,611.27 165.30,611.22 165.55,611.11 165.80,611.16 166.05,611.26 166.30,611.31 166.55,611.23 166.80,611.34 167.05,611.27 167.30,611.22 167.55,611.16 167.80,611.32 168.05,611.50 168.30,611.60 168.55,611.66 168.80,611.74 169.05,611.56 169.30,611.40 169.55,611.31 169.80,611.38 170.05,611.42 170.30,611.54 170.55,611.44 170.80,611.64 171.05,611.55 171.30,611.47 171.55,611.48 171.80,611.43 172.05,611.35 172.30,611.40 172.55,611.42 172.80,611.40 173.05,611.45 173.30,611.47 173.55,611.43 173.80,611.41 174.05,611.37 174.30,611.49 174.55,611.53 174.80,611.55 175.05,611.61 175.30,611.73 175.55,611.79 175.80,611.73 176.05,611.69 176.30,611.61 176.55,611.53 176.80,611.47 177.05,611.52 177.30,611.51 177.55,611.55 177.80,611.49 178.05,611.54 178.30,611.46 178.55,611.51 178.80,611.46 179.05,611.51 179.30,611.39 179.55,611.53 179.80,611.53 180.05,611.57 180.30,611.54 180.55,611.55 180.80,611.48 181.05,611.56 181.30,611.49 181.55,611.49 181.80,611.53 182.05,611.45 182.30,611.25 182.55,611.34 182.80,611.45 183.05,611.37 183.30,611.43 183.55,611.60 183.80,611.66 184.05,611.59 184.30,611.84 184.55,611.87 184.80,611.76 185.05,611.77 185.30,611.72 185.55,611.64 185.80,611.53 186.05,611.63 186.30,611.54 186.55,611.68 186.80,611.68 187.05,611.79 187.30,611.75 187.55,611.86 187.80,611.68 188.05,611.66 188.30,611.66 188.55,611.70 188.80,611.69 189.05,612.04 189.30,612.02 189.55,612.05 189.80,612.03 190.05,612.08 190.30,611.72 190.55,611.83 190.80,611.73 191.05,611.58 191.30,611.42 191.55,611.54 191.80,611.45 192.05,611.49 192.30,611.69 192.55,611.76 192.80,611.77 193.05,611.63 193.30,611.67 193.55,611.68 193.80,611.66 194.05,611.55 194.30,611.60 194.55,611.68 194.80,611.58 195.05,611.57 195.30,611.64 195.55,611.78 195.80,611.64 196.05,611.62 196.30,611.57 196.55,611.62 196.80,611.64 197.05,611.68 197.30,611.79 197.55,611.90 197.80,611.92 198.05,611.87 198.30,611.89 198.55,611.90 198.80,611.93 199.05,611.88 199.30,611.88 199.55,611.88 199.80,611.85 200.05,611.83 200.30,611.90 200.55,611.80 200.80,611.83 201.05,611.89 201.30,611.79 201.55,611.87 201.80,611.99 202.05,611.96 202.30,611.76 202.55,611.92 202.80,611.76 203.05,611.71 203.30,611.76 203.55,611.82 203.80,611.69 204.05,611.68 204.30,611.71 204.55,611.71 204.80,611.81 205.05,611.90 205.30,611.95 205.55,611.97 205.80,611.90 206.05,612.00 206.30,611.99 206.55,611.89 206.80,611.82 207.05,611.97 207.30,611.75 207.55,611.72 207.80,611.87 208.05,611.87 208.30,611.84 208.55,612.04 208.80,612.02 209.05,612.07 209.30,612.08 209.55,611.95 209.80,611.87 210.05,611.94 210.30,611.83 210.55,611.94 210.80,611.92 211.05,611.85 211.30,611.77 211.55,611.86 211.80,611.86 212.05,612.00 212.30,611.97 212.55,612.05 212.80,612.04 213.05,611.89 213.30,611.79 213.55,611.92 213.80,611.96 214.05,611.95 214.30,612.09 214.55,612.17 214.80,612.14 215.05,612.09 215.30,612.02 215.55,611.97 215.80,611.93 216.05,612.07 216.30,612.10 216.55,612.16 216.80,612.16 217.05,612.18 217.30,612.02 217.55,612.04 217.80,612.04 218.05,612.11 218.30,612.07 218.55,612.12 218.80,612.14 219.05,612.07 219.30,612.03 219.55,612.10 219.80,612.06 220.05,611.97 220.30,611.93 220.55,611.99 220.80,611.92 221.05,611.87 221.30,611.94 221.55,611.95 221.80,611.94 222.05,612.03 222.30,612.15 222.55,612.10 222.80,612.14 223.05,611.96 223.30,612.03 223.55,611.96 223.80,611.94 224.05,612.12 224.30,612.21 224.55,612.10 224.80,612.12 225.05,612.14 225.30,611.98 225.55,611.98 225.80,612.08 226.05,612.15 226.30,611.97 226.55,611.91 226.80,611.97 227.05,611.89 227.30,611.82 227.55,612.08 227.80,612.09 228.05,612.15 228.30,612.16 228.55,612.23 228.80,612.18 229.05,612.35 229.30,612.26 229.55,612.22 229.80,612.23 230.05,612.23 230.30,612.10 230.55,612.20 230.80,612.32 231.05,612.36 231.30,612.36 231.55,612.46 231.80,612.35 232.05,612.21 232.30,612.13 232.55,612.14 232.80,612.07 233.05,612.22 233.30,612.18 233.55,612.12 233.80,612.07 234.05,612.20 234.30,612.06 234.55,612.15 234.80,612.14 235.05,612.14 235.30,611.98 235.55,612.06 235.80,612.12 236.05,612.24 236.30,612.25 236.55,612.49 236.80,612.37 237.05,612.20 237.30,612.12 237.55,612.17 237.80,612.06 238.05,612.06 238.30,612.23 238.55,612.35 238.80,612.29 239.05,612.20 239.30,612.15 239.55,612.13 239.80,612.08 240.05,612.18 240.30,612.28 240.55,612.48 240.80,612.47 241.05,612.48 241.30,612.37 241.55,612.27 241.80,612.19 242.05,612.13 242.30,612.11 242.55,612.25 242.80,612.33 243.05,612.27 243.30,612.27 243.55,612.32 243.80,612.18 244.05,612.16 244.30,612.19 244.55,612.23 244.80,612.22 245.05,612.23 245.30,612.13 245.55,612.24 245.80,612.25 246.05,612.22 246.30,612.25 246.55,612.38 246.80,612.37 247.05,612.44 247.30,612.37 247.55,612.34 247.80,612.31 248.05,612.24 248.30,612.18 248.55,612.14 248.80,612.01 249.05,612.01 249.30,612.03 249.55,612.03 249.80,612.17 250.05,612.36 250.30,612.30 250.55,612.29 250.80,612.23 251.05,612.19 251.30,612.13 251.55,612.17 251.80,612.10 252.05,612.09 252.30,611.88 252.55,611.84 252.80,611.64 253.05,611.62 253.30,611.64 253.55,611.83 253.80,611.80 254.05,611.84 254.30,611.65 254.55,611.64 254.80,611.33 255.05,611.27 255.30,611.06 255.55,611.03 255.80,610.79 256.05,610.71 256.30,610.40 256.55,610.16 256.80,609.62 257.05,608.89 257.30,607.71 257.55,605.87 257.80,603.24 258.05,599.59 258.30,595.14 258.55,590.54 258.80,586.85 259.05,585.68 259.30,587.64 259.55,591.27 259.80,595.41 260.05,598.99 260.30,601.21 260.55,601.99 260.80,601.27 261.05,598.31 261.30,593.39 261.55,586.38 261.80,577.55 262.05,568.28 262.30,561.17 262.55,559.08 262.80,563.30 263.05,571.60 263.30,580.75 263.55,588.77 263.80,594.73 264.05,598.34 264.30,599.71 264.55,599.02 264.80,596.68 265.05,593.29 265.30,589.76 265.55,587.14 265.80,587.07 266.05,589.82 266.30,593.96 266.55,598.31 266.80,601.98 267.05,604.99 267.30,607.00 267.55,608.31 267.80,609.12 268.05,609.68 268.30,609.97 268.55,610.30 268.80,610.52 269.05,610.61 269.30,610.89 269.55,610.89 269.80,610.90 270.05,611.00 270.30,611.15 270.55,611.06 270.80,611.09 271.05,611.13 271.30,610.89 271.55,610.70 271.80,610.51 272.05,610.26 272.30,610.13 272.55,610.06 272.80,609.80 273.05,609.32 273.30,608.54 273.55,606.90 273.80,604.60 274.05,601.33 274.30,597.29 274.55,592.80 274.80,588.71 275.05,586.56 275.30,587.31 275.55,590.53 275.80,594.53 276.05,598.55 276.30,601.56 276.55,603.55 276.80,604.37 277.05,604.21 277.30,602.59 277.55,599.48 277.80,594.49 278.05,587.54 278.30,578.92 278.55,569.90 278.80,563.00 279.05,561.20 279.30,565.47 279.55,573.53 279.80,582.71 280.05,590.85 280.30,596.96 280.55,601.20 280.80,603.76 281.05,604.97 281.30,604.94 281.55,604.25 281.80,602.21 282.05,599.30 282.30,595.20 282.55,590.56 282.80,586.18 283.05,584.24 283.30,585.36 283.55,589.19 283.80,594.20 284.05,598.98 284.30,602.87 284.55,605.84 284.80,607.80 285.05,609.07 285.30,609.86 285.55,610.44 285.80,610.66 286.05,611.00 286.30,611.00 286.55,611.15 286.80,611.12 287.05,611.39 287.30,611.44 287.55,611.63 287.80,611.73 288.05,611.98 288.30,611.97 288.55,612.04 288.80,612.07 289.05,612.05 289.30,612.04 289.55,612.23 289.80,612.19 290.05,612.35 290.30,612.41 290.55,612.48 290.80,612.32 291.05,612.35 291.30,612.21 291.55,612.26 291.80,612.21 292.05,612.35 292.30,612.31 292.55,612.51 292.80,612.53 293.05,612.51 293.30,612.37 293.55,612.35 293.80,612.22 294.05,612.36 294.30,612.31 294.55,612.35 294.80,612.54 295.05,612.49 295.30,612.42 295.55,612.47 295.80,612.52 296.05,612.51 296.30,612.64 296.55,612.61 296.80,612.69 297.05,612.73 297.30,612.63 297.55,612.64 297.80,612.57 298.05,612.61 298.30,612.50 298.55,612.56 298.80,612.69 299.05,612.83 299.30,612.74 299.55,612.77 299.80,612.73 300.05,612.68 300.30,612.65 300.55,612.68 300.80,612.89 301.05,612.89 301.30,612.80 301.55,612.76 301.80,612.78 302.05,612.64 302.30,612.68 302.55,612.76 302.80,612.82 303.05,612.79 303.30,612.62 303.55,612.69 303.80,612.58 304.05,612.51 304.30,612.52 304.55,612.60 304.80,612.50 305.05,612.57 305.30,612.59 305.55,612.62 305.80,612.64 306.05,612.68 306.30,612.61 306.55,612.62 306.80,612.62 307.05,612.66 307.30,612.58 307.55,612.64 307.80,612.67 308.05,612.73 308.30,612.75 308.55,612.81 308.80,612.75 309.05,612.87 309.30,612.74 309.55,612.68 309.80,612.70 310.05,612.66 310.30,612.60 310.55,612.68 310.80,612.78 311.05,612.73 311.30,612.82 311.55,612.81 311.80,612.85 312.05,613.01 312.30,613.14 312.55,613.06 312.80,613.01 313.05,612.93 313.30,612.82 313.55,612.75 313.80,612.91 314.05,612.88 314.30,612.95 314.55,612.97 314.80,612.94 315.05,612.78 315.30,612.74 315.55,612.80 315.80,612.72 316.05,612.75 316.30,612.82 316.55,612.95 316.80,612.87 317.05,612.85 317.30,612.84 317.55,612.89 317.80,612.81 318.05,612.83 318.30,612.92 318.55,612.83 318.80,612.75 319.05,612.77 319.30,612.74 319.55,612.56 319.80,612.64 320.05,612.71 320.30,612.69 320.55,612.66 320.80,612.75 321.05,612.85 321.30,612.93 321.55,612.99 321.80,613.04 322.05,613.01 322.30,612.92 322.55,612.92 322.80,612.89 323.05,612.92 323.30,612.99 323.55,613.03 323.80,613.01 324.05,612.91 324.30,612.85 324.55,612.79 324.80,612.85 325.05,612.78 325.30,612.89 325.55,612.87 325.80,612.94 326.05,612.94 326.30,612.97 326.55,612.96 326.80,613.00 327.05,613.02 327.30,612.96 327.55,612.97 327.80,612.94 328.05,612.87 328.30,612.83 328.55,612.88 328.80,612.83 329.05,612.96 329.30,612.97 329.55,613.01 329.80,613.01 330.05,612.95 330.30,612.85 330.55,612.80 330.80,612.74 331.05,612.76 331.30,612.99 331.55,613.05 331.80,613.05 332.05,613.04 332.30,613.09 332.55,612.98 332.80,613.05 333.05,613.10 333.30,613.09 333.55,612.91 333.80,612.87 334.05,612.84 334.30,612.83 334.55,612.92 334.80,613.04 335.05,613.11 335.30,613.02 335.55,613.08 335.80,613.16 336.05,613.06 336.30,613.06 336.55,613.17 336.80,613.20 337.05,613.17 337.30,613.06 337.55,612.99 337.80,612.82 338.05,612.77 338.30,612.65 338.55,612.88 338.80,612.84 339.05,612.97 339.30,612.90 339.55,612.97 339.80,612.92 340.05,612.87 340.30,612.70 340.55,612.68 340.80,612.56 341.05,612.58 341.30,612.78 341.55,612.94 341.80,612.97 342.05,612.89 342.30,612.87 342.55,612.69 342.80,612.63 343.05,612.67 343.30,612.98 343.55,612.89 343.80,613.00 344.05,613.14 344.30,613.15 344.55,612.94 344.80,613.16 345.05,613.00 345.30,612.77 345.55,612.72 345.80,612.80 346.05,612.74 346.30,612.87 346.55,613.12 346.80,613.19 347.05,613.16 347.30,613.09 347.55,613.18 347.80,613.05 348.05,613.04 348.30,613.15 348.55,613.25 348.80,613.24 349.05,613.16 349.30,613.12 349.55,613.00 349.80,612.90 350.05,612.81 350.30,612.88 350.55,612.99 350.80,612.94 351.05,612.97 351.30,612.98 351.55,612.96 351.80,612.91 352.05,613.02 352.30,613.02 352.55,613.00 352.80,613.05 353.05,613.08 353.30,613.06 353.55,613.03 353.80,613.15 354.05,613.15 354.30,613.07 354.55,612.97 354.80,612.89 355.05,612.86 355.30,612.79 355.55,612.84 355.80,612.92 356.05,613.09 356.30,613.21 356.55,613.25 356.80,613.40 357.05,613.44 357.30,613.44 357.55,613.28 357.80,613.21 358.05,613.12 358.30,613.16 358.55,612.99 358.80,613.00 359.05,613.10 359.30,613.10 359.55,612.95 359.80,613.02 360.05,613.08 360.30,613.18 360.55,613.15 360.80,613.29 361.05,613.33 361.30,613.30 361.55,613.16 361.80,613.14 362.05,613.04 362.30,613.04 362.55,613.08 362.80,613.12 363.05,613.17 363.30,613.17 363.55,613.21 363.80,612.94 364.05,612.83 364.30,612.77 364.55,612.69 364.80,612.68 365.05,612.90 365.30,612.93 365.55,612.96 365.80,612.98 366.05,612.88 366.30,612.84 366.55,612.80 366.80,612.86 367.05,612.91 367.30,613.04 367.55,613.05 367.80,613.17 368.05,613.05 368.30,613.07 368.55,612.98 368.80,613.00 369.05,613.07 369.30,613.09 369.55,613.10 369.80,613.15 370.05,613.19 370.30,613.09 370.55,613.10 370.80,613.07 371.05,613.05 371.30,613.01 371.55,612.97 371.80,612.97 372.05,613.05 372.30,613.05 372.55,613.00 372.80,613.08 373.05,613.14 373.30,613.13 373.55,613.17 373.80,613.18 374.05,613.15 374.30,613.12 374.55,613.08 374.80,612.92 375.05,612.94 375.30,612.95 375.55,612.95 375.80,612.92 376.05,613.03 376.30,612.91 376.55,612.79 376.80,612.56 377.05,612.56 377.30,612.65 377.55,612.87 377.80,612.88 378.05,613.11 378.30,613.19 378.55,613.06 378.80,612.81 379.05,612.96 379.30,612.88 379.55,612.76 379.80,612.87 380.05,613.01 380.30,612.95 380.55,613.06 380.80,613.05 381.05,612.85 381.30,612.84 381.55,612.76 381.80,612.67 382.05,612.67 382.30,612.64 382.55,612.54 382.80,612.46 383.05,612.34 383.30,612.23 383.55,612.22 383.80,612.13 384.05,611.95 384.30,611.86 384.55,611.59 384.80,611.48 385.05,611.10 385.30,610.72 385.55,610.04 385.80,608.98 386.05,606.97 386.30,604.30 386.55,600.77 386.80,596.37 387.05,591.91 387.30,588.47 387.55,587.47 387.80,589.41 388.05,593.31 388.30,597.45 388.55,601.38 388.80,604.16 389.05,605.97 389.30,606.81 389.55,606.85 389.80,605.64 390.05,603.58 390.30,599.94 390.55,594.16 390.80,586.72 391.05,577.80 391.30,568.83 391.55,562.53 391.80,562.05 392.05,567.32 392.30,575.86 392.55,584.95 392.80,592.51 393.05,598.21 393.30,601.93 393.55,604.10 393.80,604.72 394.05,604.39 394.30,602.71 394.55,599.99 394.80,596.08 395.05,591.54 395.30,587.29 395.55,585.21 395.80,586.19 396.05,590.05 396.30,595.03 396.55,599.75 396.80,603.79 397.05,606.71 397.30,608.41 397.55,609.68 397.80,610.62 398.05,611.00 398.30,611.31 398.55,611.79 398.80,611.88 399.05,611.96 399.30,612.12 399.55,612.31 399.80,612.29 400.05,612.34 400.30,612.46 400.55,612.35 400.80,612.41 401.05,612.51 401.30,612.65 401.55,612.62 401.80,612.81 402.05,612.87 402.30,612.82 402.55,612.81 402.80,612.89 403.05,612.81 403.30,612.72 403.55,612.91 403.80,612.99 404.05,612.94 404.30,613.08 404.55,613.18 404.80,613.18 405.05,613.20 405.30,613.11 405.55,613.05 405.80,613.12 406.05,613.15 406.30,613.05 406.55,613.13 406.80,613.18 407.05,613.05 407.30,612.96 407.55,612.93 407.80,613.06 408.05,613.09 408.30,613.17 408.55,613.10 408.80,613.07 409.05,612.95 409.30,612.95 409.55,612.81 409.80,612.93 410.05,613.15 410.30,613.20 410.55,613.16 410.80,613.34 411.05,613.36 411.30,613.21 411.55,613.25 411.80,613.27 412.05,613.19 412.30,613.18 412.55,613.24 412.80,613.34 413.05,613.22 413.30,613.32 413.55,613.34 413.80,613.31 414.05,613.26 414.30,613.43 414.55,613.38 414.80,613.31 415.05,613.34 415.30,613.27 415.55,613.13 415.80,613.06 416.05,613.02 416.30,613.02 416.55,613.12 416.80,613.22 417.05,613.37 417.30,613.42 417.55,613.37 417.80,613.27 418.05,613.20 418.30,613.09 418.55,613.18 418.80,613.13 419.05,613.22 419.30,613.28 419.55,613.35 419.80,613.24 420.05,613.38 420.30,613.31 420.55,613.36 420.80,613.18 421.05,613.25 421.30,613.25 421.55,613.18 421.80,613.20 422.05,613.25 422.30,613.28 422.55,613.24 422.80,613.39 423.05,613.36 423.30,613.36 423.55,613.39 423.80,613.47 424.05,613.37 424.30,613.38 424.55,613.49 424.80,613.35 425.05,613.21 425.30,613.36 425.55,613.30 425.80,613.33 426.05,613.49 426.30,613.59 426.55,613.45 426.80,613.54 427.05,613.40 427.30,613.22 427.55,613.38 427.80,613.39 428.05,613.35 428.30,613.37 428.55,613.42 428.80,613.25 429.05,613.13 429.30,613.06 429.55,613.18 429.80,613.24 430.05,613.25 430.30,613.36 430.55,613.43 430.80,613.35 431.05,613.25 431.30,613.23 431.55,613.44 431.80,613.35 432.05,613.45 432.30,613.52 432.55,613.42 432.80,613.22 433.05,613.27 433.30,613.17 433.55,613.17 433.80,613.20 434.05,613.20 434.30,613.27 434.55,613.30 434.80,613.23 435.05,613.30 435.30,613.48 435.55,613.38 435.80,613.29 436.05,613.40 436.30,613.53 436.55,613.49 436.80,613.45 437.05,613.41 437.30,613.43 437.55,613.29 437.80,613.25 438.05,613.32 438.30,613.56 438.55,613.48 438.80,613.47 439.05,613.45 439.30,613.38 439.55,613.29 439.80,613.28 440.05,613.16 440.30,613.08 440.55,613.08 440.80,612.97 441.05,612.99 441.30,613.20 441.55,613.29 441.80,613.28 442.05,613.27 442.30,613.29 442.55,613.20 442.80,613.17 443.05,613.19 443.30,613.17 443.55,613.26 443.80,613.24 444.05,613.24 444.30,613.25 444.55,613.48 444.80,613.31 445.05,613.34 445.30,613.35 445.55,613.43 445.80,613.42 446.05,613.33 446.30,613.38 446.55,613.33 446.80,613.31 447.05,613.18 447.30,613.32 447.55,613.20 447.80,613.21 448.05,613.27 448.30,613.27 448.55,613.21 448.80,613.32 449.05,613.36 449.30,613.30 449.55,613.34 449.80,613.32 450.05,613.35 450.30,613.27 450.55,613.19 450.80,613.22 451.05,613.19 451.30,613.07 451.55,613.13 451.80,613.28 452.05,613.22 452.30,613.28 452.55,613.31 452.80,613.35 453.05,613.27 453.30,613.32 453.55,613.43 453.80,613.44 454.05,613.40 454.30,613.37 454.55,613.31 454.80,613.14 455.05,613.08 455.30,613.07 455.55,613.15 455.80,613.23 456.05,613.28 456.30,613.37 456.55,613.33 456.80,613.44 457.05,613.57 457.30,613.59 457.55,613.60 457.80,613.69 458.05,613.61 458.30,613.41 458.55,613.32 458.80,613.34 459.05,613.26 459.30,613.24 459.55,613.22 459.80,613.27 460.05,613.28 460.30,613.45 460.55,613.42 460.80,613.45 461.05,613.52 461.30,613.42 461.55,613.21 461.80,613.22 462.05,613.10 462.30,613.11 462.55,613.12 462.80,613.24 463.05,613.15 463.30,613.24 463.55,613.25 463.80,613.37 464.05,613.41 464.30,613.53 464.55,613.51 464.80,613.51 465.05,613.43 465.30,613.36 465.55,613.42 465.80,613.44 466.05,613.51 466.30,613.47 466.55,613.44 466.80,613.35 467.05,613.32 467.30,613.18 467.55,613.22 467.80,613.16 468.05,613.11 468.30,613.11 468.55,613.11 468.80,613.18 469.05,613.26 469.30,613.30 469.55,613.40 469.80,613.36 470.05,613.30 470.30,613.30 470.55,613.27 470.80,613.14 471.05,613.17 471.30,613.23 471.55,613.34 471.80,613.36 472.05,613.47 472.30,613.49 472.55,613.35 472.80,613.16 473.05,613.29 473.30,613.22 473.55,613.26 473.80,613.43 474.05,613.52 474.30,613.40 474.55,613.48 474.80,613.45 475.05,613.37 475.30,613.37 475.55,613.45 475.80,613.47 476.05,613.42 476.30,613.32 476.55,613.30 476.80,613.19 477.05,613.11 477.30,613.25 477.55,613.29 477.80,613.30 478.05,613.35 478.30,613.27 478.55,613.24 478.80,613.32 479.05,613.44 479.30,613.37 479.55,613.47 479.80,613.45 480.05,613.39 480.30,613.21 480.55,613.33 480.80,613.34 481.05,613.35 481.30,613.31 481.55,613.46 481.80,613.38 482.05,613.35 482.30,613.38 482.55,613.52 482.80,613.40 483.05,613.48 483.30,613.63 483.55,613.60 483.80,613.44 484.05,613.53 484.30,613.54 484.55,613.37 484.80,613.46 485.05,613.54 485.30,613.49 485.55,613.49 485.80,613.57 486.05,613.54 486.30,613.56 486.55,613.59 486.80,613.52 487.05,613.52 487.30,613.48 487.55,613.51 487.80,613.46 488.05,613.52 488.30,613.50 488.55,613.54 488.80,613.54 489.05,613.56 489.30,613.45 489.55,613.46 489.80,613.47 490.05,613.44 490.30,613.50 490.55,613.54 490.80,613.52 491.05,613.38 491.30,613.25 491.55,613.20 491.80,613.21 492.05,613.22 492.30,613.32 492.55,613.37 492.80,613.46 493.05,613.36 493.30,613.38 493.55,613.25 493.80,613.29 494.05,613.26 494.30,613.25 494.55,613.24 494.80,613.32 495.05,613.35 495.30,613.29 495.55,613.43 495.80,613.45 496.05,613.46 496.30,613.50 496.55,613.52 496.80,613.46 497.05,613.34 497.30,613.36 497.55,613.28 497.80,613.34 498.05,613.30 498.30,613.30 498.55,613.31 498.80,613.28 499.05,613.07 499.30,613.17 499.55,613.15 499.80,613.15 500.05,613.13 500.30,613.24 500.55,613.17 500.80,613.13 501.05,613.04 501.30,613.06 501.55,613.03 501.80,613.03 502.05,613.23 502.30,613.20 502.55,613.20 502.80,613.31 503.05,613.30 503.30,613.22 503.55,613.11 503.80,613.00 504.05,612.79 504.30,612.70 504.55,612.64 504.80,612.87 505.05,612.83 505.30,612.78 505.55,612.76 505.80,612.67 506.05,612.46 506.30,612.40 506.55,612.19 506.80,612.05 507.05,611.72 507.30,611.11 507.55,610.49 507.80,609.76 508.05,608.61 508.30,607.64 508.55,606.82 508.80,606.18 509.05,605.94 509.30,606.33 509.55,606.60 509.80,606.74 510.05,606.46 510.30,605.65 510.55,604.03 510.80,601.64 511.05,598.17 511.30,593.88 511.55,589.21 511.80,584.73 512.05,581.70 512.30,581.22 512.55,583.43 512.80,586.98 513.05,590.90 513.30,594.19 513.55,596.36 513.80,596.99 514.05,596.13 514.30,593.49 514.55,589.76 514.80,585.25 515.05,581.09 515.30,578.72 515.55,579.08 515.80,581.99 516.05,586.64 516.30,591.63 516.55,596.06 516.80,599.74 517.05,602.05 517.30,603.20 517.55,603.04 517.80,601.84 518.05,599.61 518.30,596.91 518.55,593.75 518.80,591.26 519.05,589.88 519.30,590.66 519.55,592.93 519.80,596.31 520.05,599.63 520.30,602.69 520.55,605.11 520.80,606.99 521.05,608.08 521.30,608.66 521.55,608.80 521.80,608.54 522.05,608.00 522.30,607.38 522.55,606.99 522.80,606.80 523.05,607.15 523.30,607.80 523.55,608.88 523.80,609.69 524.05,610.56 524.30,611.28 524.55,611.85 524.80,612.01 525.05,612.17 525.30,612.33 525.55,612.50 525.80,612.62 526.05,612.86 526.30,613.10 526.55,613.14 526.80,612.96 527.05,612.98 527.30,612.95 527.55,612.91 527.80,612.98 528.05,613.13 528.30,613.14 528.55,613.03 528.80,613.05 529.05,613.09 529.30,613.02 529.55,612.99 529.80,613.03 530.05,613.05 530.30,613.01 530.55,613.08 530.80,613.07 531.05,613.15 531.30,613.13 531.55,613.09 531.80,612.98 532.05,613.00 532.30,612.97 532.55,613.02 532.80,613.11 533.05,613.24 533.30,613.33 533.55,613.31 533.80,613.35 534.05,613.39 534.30,613.43 534.55,613.39 534.80,613.46 535.05,613.39 535.30,613.25 535.55,613.19 535.80,613.13 536.05,613.03 536.30,613.10 536.55,613.22 536.80,613.30 537.05,613.37 537.30,613.49 537.55,613.49 537.80,613.44 538.05,613.26 538.30,613.43 538.55,613.51 538.80,613.56 539.05,613.59 539.30,613.68 539.55,613.54 539.80,613.48 540.05,613.32 540.30,613.29 540.55,613.38 540.80,613.47 541.05,613.49 541.30,613.56 541.55,613.51 541.80,613.61 542.05,613.52 542.30,613.53 542.55,613.56 542.80,613.56 543.05,613.57 543.30,613.61 543.55,613.64 543.80,613.59 544.05,613.67 544.30,613.62 544.55,613.56 544.80,613.44 545.05,613.42 545.30,613.33 545.55,613.30 545.80,613.32 546.05,613.25 546.30,613.42 546.55,613.59 546.80,613.61 547.05,613.50 547.30,613.62 547.55,613.61 547.80,613.46 548.05,613.34 548.30,613.44 548.55,613.30 548.80,613.24 549.05,613.37 549.30,613.46 549.55,613.57 549.80,613.71 550.05,613.69 550.30,613.62 550.55,613.53 550.80,613.37 551.05,613.32 551.30,613.31 551.55,613.29 551.80,613.34 552.05,613.42 552.30,613.51 552.55,613.48 552.80,613.38 553.05,613.31 553.30,613.43 553.55,613.44 553.80,613.45 554.05,613.57 554.30,613.62 554.55,613.47 554.80,613.43 555.05,613.51 555.30,613.60 555.55,613.58 555.80,613.59 556.05,613.56 556.30,613.52 556.55,613.51 556.80,613.48 557.05,613.64 557.30,613.70 557.55,613.77 557.80,613.64 558.05,613.67 558.30,613.49 558.55,613.46 558.80,613.26 559.05,613.35 559.30,613.26 559.55,613.32 559.80,613.38 560.05,613.51 560.30,613.47 560.55,613.57 560.80,613.53 561.05,613.48 561.30,613.54 561.55,613.60 561.80,613.70 562.05,613.73 562.30,613.68 562.55,613.59 562.80,613.47 563.05,613.35 563.30,613.31 563.55,613.46 563.80,613.52 564.05,613.72 564.30,613.62 564.55,613.68 564.80,613.63 565.05,613.62 565.30,613.47 565.55,613.60 565.80,613.59 566.05,613.53 566.30,613.53 566.55,613.62 566.80,613.62 567.05,613.63 567.30,613.63 567.55,613.64 567.80,613.53 568.05,613.55 568.30,613.52 568.55,613.57 568.80,613.50 569.05,613.54 569.30,613.49 569.55,613.45 569.80,613.46 570.05,613.52 570.30,613.53 570.55,613.61 570.80,613.66 571.05,613.59 571.30,613.63 571.55,613.78 571.80,613.71 572.05,613.83 572.30,613.84 572.55,613.72 572.80,613.59 573.05,613.66 573.30,613.57 573.55,613.59 573.80,613.57 574.05,613.39 574.30,613.32 574.55,613.21 574.80,613.17 575.05,613.19 575.30,613.34 575.55,613.37 575.80,613.34 576.05,613.33 576.30,613.36 576.55,613.42 576.80,613.37 577.05,613.41 577.30,613.38 577.55,613.50 577.80,613.35 578.05,613.34 578.30,613.41 578.55,613.36 578.80,613.19 579.05,613.11 579.30,613.05 579.55,613.06 579.80,613.14 580.05,613.06 580.30,613.27 580.55,613.24 580.80,613.12 581.05,613.20 581.30,613.34 581.55,613.23 581.80,613.40 582.05,613.44 582.30,613.34 582.55,613.26 582.80,613.24 583.05,613.12 583.30,613.18 583.55,613.09 583.80,613.09 584.05,612.93 584.30,612.80 584.55,612.74 584.80,612.72 585.05,612.67 585.30,612.80 585.55,612.83 585.80,612.73 586.05,612.67 586.30,612.47 586.55,612.35 586.80,612.31 587.05,612.18 587.30,611.93 587.55,611.73 587.80,611.28 588.05,610.75 588.30,610.14 588.55,609.43 588.80,608.71 589.05,608.03 589.30,607.42 589.55,607.06 589.80,607.09 590.05,607.14 590.30,607.42 590.55,607.60 590.80,607.55 591.05,607.24 591.30,606.68 591.55,605.64 591.80,604.06 592.05,602.16 592.30,599.85 592.55,597.29 592.80,594.63 593.05,592.66 593.30,591.44 593.55,591.34 593.80,592.40 594.05,594.39 594.30,596.63 594.55,598.69 594.80,600.48 595.05,601.75 595.30,602.17 595.55,601.64 595.80,600.46 596.05,598.40 596.30,595.67 596.55,592.21 596.80,588.62 597.05,585.11 597.30,582.38 597.55,580.87 597.80,581.41 598.05,583.62 598.30,586.79 598.55,590.40 598.80,593.88 599.05,596.84 599.30,598.99 599.55,600.43 599.80,600.87 600.05,600.49 600.30,599.26 600.55,597.43 600.80,595.14 601.05,592.95 601.30,590.89 601.55,589.76 601.80,589.72 602.05,590.98 602.30,593.16 602.55,595.95 602.80,598.74 603.05,601.25 603.30,603.61 603.55,605.36 603.80,606.47 604.05,607.05 604.30,607.36 604.55,607.13 604.80,606.60 605.05,606.17 605.30,605.71 605.55,605.58 605.80,605.52 606.05,605.89 606.30,606.66 606.55,607.58 606.80,608.34 607.05,609.25 607.30,610.11 607.55,610.64 607.80,611.18 608.05,611.58 608.30,611.83 608.55,612.02 608.80,612.24 609.05,612.48 609.30,612.63 609.55,612.78 609.80,612.88 610.05,612.97 610.30,612.78 610.55,612.79 610.80,612.72 611.05,612.64 611.30,612.59 611.55,612.75 611.80,612.81 612.05,612.98 612.30,613.19 612.55,613.29 612.80,613.34 613.05,613.34 613.30,613.47 613.55,613.48 613.80,613.43 614.05,613.39 614.30,613.47 614.55,613.42 614.80,613.34 615.05,613.45 615.30,613.43 615.55,613.38 615.80,613.39 616.05,613.38 616.30,613.33 616.55,613.41 616.80,613.41 617.05,613.24 617.30,613.27 617.55,613.27 617.80,613.29 618.05,613.36 618.30,613.54 618.55,613.55 618.80,613.53 619.05,613.63 619.30,613.64 619.55,613.59 619.80,613.60 620.05,613.69 620.30,613.65 620.55,613.60 620.80,613.63 621.05,613.65 621.30,613.58 621.55,613.64 621.80,613.57 622.05,613.59 622.30,613.52 622.55,613.49 622.80,613.43 623.05,613.43 623.30,613.32 623.55,613.32 623.80,613.33 624.05,613.30 624.30,613.45 624.55,613.47 624.80,613.60 625.05,613.56 625.30,613.68 625.55,613.58 625.80,613.59 626.05,613.55 626.30,613.63 626.55,613.49 626.80,613.41 627.05,613.49 627.30,613.52 627.55,613.49 627.80,613.43 628.05,613.55 628.30,613.57 628.55,613.42 628.80,613.37 629.05,613.45 629.30,613.38 629.55,613.29 629.80,613.40 630.05,613.52 630.30,613.56 630.55,613.67 630.80,613.75 631.05,613.72 631.30,613.52 631.55,613.49 631.80,613.46 632.05,613.43 632.30,613.43 632.55,613.70 632.80,613.58 633.05,613.60 633.30,613.61 633.55,613.71 633.80,613.68 634.05,613.82 634.30,613.79 634.55,613.73 634.80,613.72 635.05,613.66 635.30,613.68 635.55,613.59 635.80,613.51 636.05,613.47 636.30,613.48 636.55,613.33 636.80,613.34 637.05,613.41 637.30,613.43 637.55,613.42 637.80,613.58 638.05,613.63 638.30,613.68 638.55,613.74 638.80,613.70 639.05,613.78 639.30,613.77 639.55,613.75 639.80,613.56 640.05,613.57 640.30,613.39 640.55,613.38 640.80,613.39 641.05,613.44 641.30,613.46 641.55,613.36 641.80,613.37 642.05,613.44 642.30,613.52 642.55,613.54 642.80,613.61 643.05,613.55 643.30,613.56 643.55,613.61 643.80,613.63 644.05,613.68 644.30,613.84 644.55,613.72 644.80,613.70 645.05,613.69 645.30,613.63 645.55,613.65 645.80,613.68 646.05,613.69 646.30,613.55 646.55,613.53 646.80,613.42 647.05,613.44 647.30,613.46 647.55,613.58 647.80,613.64 648.05,613.70 648.30,613.66 648.55,613.59 648.80,613.59 649.05,613.56 649.30,613.54 649.55,613.47 649.80,613.40 650.05,613.42 650.30,613.42 650.55,613.42 650.80,613.52 651.05,613.56 651.30,613.61 651.55,613.68 651.80,613.61 652.05,613.56 652.30,613.58 652.55,613.39 652.80,613.43 653.05,613.46 653.30,613.38 653.55,613.30 653.80,613.48 654.05,613.42 654.30,613.56 654.55,613.66 654.80,613.75 655.05,613.78 655.30,613.89 655.55,613.69 655.80,613.74 656.05,613.64 656.30,613.49 656.55,613.24 656.80,613.33 657.05,613.20 657.30,613.21 657.55,613.35 657.80,613.51 658.05,613.46 658.30,613.40 658.55,613.46 658.80,613.19 659.05,613.06 659.30,613.10 659.55,613.26 659.80,613.23 660.05,613.42 660.30,613.47 660.55,613.37 660.80,613.30 661.05,613.38 661.30,613.31 661.55,613.30 661.80,613.36 662.05,613.25 662.30,613.05 662.55,612.92 662.80,612.89 663.05,612.79 663.30,612.75 663.55,612.68 663.80,612.75 664.05,612.68 664.30,612.62 664.55,612.55 664.80,612.49 665.05,612.24 665.30,611.99 665.55,611.70 665.80,611.40 666.05,611.12 666.30,610.99 666.55,610.98 666.80,610.90 667.05,610.84 667.30,610.82 667.55,610.63 667.80,610.10 668.05,609.54 668.30,608.75 668.55,607.63 668.80,606.41 669.05,604.81 669.30,603.11 669.55,601.37 669.80,599.85 670.05,598.69 670.30,598.52 670.55,598.96 670.80,600.01 671.05,601.37 671.30,602.61 671.55,603.59 671.80,604.24 672.05,604.25 672.30,603.63 672.55,602.25 672.80,600.20 673.05,597.53 673.30,594.56 673.55,591.46 673.80,588.55 674.05,586.46 674.30,585.74 674.55,586.38 674.80,588.07 675.05,590.71 675.30,593.50 675.55,595.85 675.80,597.81 676.05,599.07 676.30,599.51 676.55,598.94 676.80,597.56 677.05,595.32 677.30,592.56 677.55,589.48 677.80,586.96 678.05,585.33 678.30,585.31 678.55,586.90 678.80,589.56 679.05,592.71 679.30,595.96 679.55,598.72 679.80,600.99 680.05,602.73 680.30,603.80 680.55,604.27 680.80,604.24 681.05,603.50 681.30,602.48 681.55,601.26 681.80,600.01 682.05,599.10 682.30,598.97 682.55,599.50 682.80,600.60 683.05,602.11 683.30,603.81 683.55,605.46 683.80,606.83 684.05,607.99 684.30,608.91 684.55,609.54 684.80,609.83 685.05,610.08 685.30,610.13 685.55,610.15 685.80,610.32 686.05,610.44 686.30,610.57 686.55,610.88 686.80,611.29 687.05,611.55 687.30,611.86 687.55,612.16 687.80,612.43 688.05,612.50 688.30,612.52 688.55,612.70 688.80,612.83 689.05,612.86 689.30,612.97 689.55,613.00 689.80,612.98 690.05,613.01 690.30,613.15 690.55,613.16 690.80,613.26 691.05,613.25 691.30,613.21 691.55,613.23 691.80,613.39 692.05,613.41 692.30,613.36 692.55,613.45 692.80,613.38 693.05,613.27 693.30,613.17 693.55,613.38 693.80,613.29 694.05,613.34 694.30,613.34 694.55,613.42 694.80,613.38 695.05,613.40 695.30,613.32 695.55,613.37 695.80,613.47 696.05,613.48 696.30,613.56 696.55,613.51 696.80,613.60 697.05,613.50 697.30,613.46 697.55,613.34 697.80,613.42 698.05,613.38 698.30,613.39 698.55,613.41 698.80,613.61 699.05,613.73 699.30,613.66 699.55,613.59 699.80,613.40 700.05,613.30 700.30,613.11 700.55,613.17 700.80,613.14 701.05,613.36 701.30,613.39 701.55,613.39 701.80,613.38 702.05,613.55 702.30,613.52 702.55,613.51 702.80,613.65 703.05,613.67 703.30,613.61 703.55,613.58 703.80,613.50 704.05,613.51 704.30,613.40 704.55,613.41 704.80,613.33 705.05,613.47 705.30,613.43 705.55,613.45 705.80,613.47 706.05,613.53 706.30,613.51 706.55,613.51 706.80,613.57 707.05,613.53 707.30,613.44 707.55,613.43 707.80,613.47 708.05,613.41 708.30,613.45 708.55,613.63 708.80,613.65 709.05,613.68 709.30,613.80 709.55,613.74 709.80,613.80 710.05,613.74 710.30,613.62 710.55,613.65 710.80,613.63 711.05,613.54 711.30,613.48 711.55,613.57 711.80,613.54 712.05,613.54 712.30,613.49 712.55,613.56 712.80,613.44 713.05,613.34 713.30,613.30 713.55,613.15 713.80,612.95 714.05,612.87 714.30,612.75 714.55,612.67 714.80,612.59 715.05,612.53 715.30,612.31 715.55,612.20 715.80,611.91 716.05,611.75 716.30,611.53 716.55,611.39 716.80,611.30 717.05,611.33 717.30,611.21 717.55,611.29 717.80,611.38 718.05,611.51 718.30,611.60 718.55,611.86 718.80,611.99 719.05,612.17 719.30,612.28 719.55,612.58 719.80,612.81 720.05,612.97 720.30,613.10 720.55,613.20 720.80,613.20 721.05,613.30 721.30,613.29 721.55,613.41 721.80,613.34 722.05,613.34 722.30,613.18 722.55,613.21 722.80,613.23 723.05,613.28 723.30,613.28 723.55,613.32 723.80,613.35 724.05,613.30 724.30,613.40 724.55,613.48 724.80,613.56 725.05,613.61 725.30,613.69 725.55,613.58 725.80,613.60 726.05,613.54 726.30,613.49 726.55,613.48 726.80,613.55 727.05,613.52 727.30,613.53 727.55,613.63 727.80,613.73 728.05,613.76 728.30,613.81 728.55,613.87 728.80,613.92 729.05,613.76 729.30,613.91 729.55,613.90 729.80,613.91 730.05,613.92 730.30,613.87 730.55,613.65 730.80,613.59 731.05,613.58 731.30,613.61 731.55,613.62 731.80,613.82 732.05,613.93 732.30,614.04 732.55,613.95 732.80,613.91 733.05,613.69 733.30,613.71 733.55,613.59 733.80,613.60 734.05,613.72 734.30,613.89 734.55,613.89 734.80,613.93 735.05,613.92 735.30,613.96 735.55,613.81 735.80,613.68 736.05,613.58 736.30,613.52 736.55,613.36 736.80,613.48 737.05,613.51 737.30,613.71 737.55,613.74 737.80,613.86 738.05,613.77 738.30,613.84 738.55,613.76 738.80,613.76 739.05,613.77 739.30,613.75 739.55,613.67 739.80,613.57 740.05,613.64 740.30,613.56 740.55,613.54 740.80,613.64 741.05,613.69 741.30,613.55 741.55,613.54 741.80,613.57 742.05,613.43 742.30,613.43 742.55,613.44 742.80,613.43 743.05,613.52 743.30,613.69 743.55,613.78 743.80,613.83 744.05,613.94 744.30,613.88 744.55,613.88 744.80,613.82 745.05,613.88 745.30,613.96 745.55,614.05 745.80,613.95 746.05,613.87 746.30,613.82 746.55,613.62 746.80,613.64 747.05,613.63 747.30,613.73 747.55,613.77 747.80,613.81 748.05,613.72 748.30,613.76 748.55,613.71 748.80,613.70 749.05,613.77 749.30,613.69 749.55,613.66 749.80,613.63 750.05,613.59 750.30,613.58 750.55,613.50 750.80,613.42 751.05,613.44 751.30,613.58 751.55,613.61 751.80,613.69 752.05,613.87 752.30,613.89 752.55,613.75 752.80,613.71 753.05,613.85 753.30,613.81 753.55,613.76 753.80,613.73 754.05,613.78 754.30,613.61 754.55,613.53 754.80,613.62 755.05,613.62 755.30,613.53 755.55,613.62 755.80,613.63 756.05,613.67 756.30,613.73 756.55,613.82 756.80,613.85 757.05,613.83 757.30,613.80 757.55,613.88 757.80,613.83 758.05,613.76 758.30,613.78 758.55,613.81 758.80,613.73 759.05,613.71 759.30,613.67 759.55,613.68 759.80,613.51 760.05,613.57 760.30,613.55 760.55,613.55 760.80,613.61 761.05,613.71 761.30,613.68 761.55,613.68 761.80,613.80 762.05,613.76 762.30,613.75 762.55,613.78 762.80,613.90 763.05,613.85 763.30,613.93 763.55,613.95 763.80,613.89 764.05,613.86 764.30,613.88 764.55,613.88 764.80,613.87 765.05,613.86 765.30,613.82 765.55,613.86 765.80,613.67 766.05,613.57 766.30,613.56 766.55,613.59 766.80,613.58 767.05,613.65 767.30,613.64 767.55,613.52 767.80,613.48 768.05,613.41 768.30,613.45 768.55,613.60 768.80,613.68 769.05,613.77 769.30,613.77 769.55,613.74 769.80,613.69 770.05,613.63 770.30,613.69 770.55,613.70 770.80,613.78 771.05,613.73 771.30,613.75 771.55,613.53 771.80,613.48 772.05,613.30 772.30,613.18 772.55,613.32 772.80,613.34 773.05,613.42 773.30,613.61 773.55,613.74 773.80,613.69 774.05,613.80 774.30,613.81 774.55,613.75 774.80,613.72 775.05,613.66 775.30,613.65 775.55,613.61 775.80,613.65 776.05,613.75 776.30,613.84 776.55,613.84 776.80,613.87 777.05,613.88 777.30,613.71 777.55,613.64 777.80,613.62 778.05,613.71 778.30,613.53 778.55,613.63 778.80,613.70 779.05,613.76 779.30,613.63 779.55,613.60 779.80,613.66 780.05,613.68 780.30,613.63 780.55,613.68 780.80,613.85 781.05,613.78 781.30,613.77 781.55,613.79 781.80,613.76 782.05,613.67 782.30,613.68 782.55,613.69 782.80,613.59 783.05,613.67 783.30,613.74 783.55,613.76 783.80,613.77 784.05,613.80 784.30,613.86 784.55,613.93 784.80,613.90 785.05,613.82 785.30,613.70 785.55,613.62 785.80,613.55 786.05,613.61 786.30,613.54 786.55,613.76 786.80,613.79 787.05,613.73 787.30,613.68 787.55,613.73 787.80,613.69 788.05,613.63 788.30,613.65 788.55,613.67 788.80,613.61 789.05,613.52 789.30,613.39 789.55,613.45 789.80,613.46 790.05,613.55 790.30,613.55 790.55,613.59 790.80,613.40 791.05,613.35 791.30,613.31 791.55,613.31 791.80,613.42 792.05,613.60 792.30,613.59 792.55,613.56 792.80,613.65 793.05,613.46 793.30,613.38 793.55,613.49 793.80,613.55 794.05,613.46 794.30,613.63 794.55,613.61 794.80,613.51 795.05,613.51 795.30,613.53 795.55,613.52 795.80,613.63 796.05,613.76 796.30,613.60 796.55,613.62 796.80,613.62 797.05,613.59 797.30,613.48 797.55,613.61 797.80,613.60 798.05,613.52 798.30,613.35 798.55,613.41 798.80,613.47 799.05,613.36 799.30,613.47 799.55,613.51 799.80,613.49 800.05,613.35 800.30,613.42 800.55,613.30 800.80,613.31 801.05,613.30 801.30,613.40 801.55,613.33 801.80,613.46 802.05,613.42 802.30,613.29 802.55,613.22 802.80,613.38 803.05,613.24 803.30,613.19 803.55,613.23 803.80,613.25 804.05,613.14 804.30,613.18 804.55,613.31 804.80,613.45 805.05,613.41 805.30,613.37 805.55,613.32 805.80,613.24 806.05,613.15 806.30,613.13 806.55,612.99 806.80,613.00 807.05,613.01 807.30,612.88 807.55,612.91 807.80,612.96 808.05,612.72 808.30,612.49 808.55,612.29 808.80,612.00 809.05,611.72 809.30,611.64 809.55,611.49 809.80,611.18 810.05,610.93 810.30,610.56 810.55,610.04 810.80,609.15 811.05,607.84 811.30,605.73 811.55,602.56 811.80,597.82 812.05,591.46 812.30,583.76 812.55,575.59 812.80,569.17 813.05,567.18 813.30,570.62 813.55,577.55 813.80,585.24 814.05,591.94 814.30,596.91 814.55,599.99 814.80,601.23 815.05,600.67 815.30,598.37 815.55,593.70 815.80,586.00 816.05,574.97 816.30,560.71 816.55,544.53 816.80,530.11 817.05,522.65 817.30,526.01 817.55,538.44 817.80,554.35 818.05,569.45 818.30,581.83 818.55,590.96 818.80,596.78 819.05,600.15 819.30,601.61 819.55,601.34 819.80,599.17 820.05,595.45 820.30,590.04 820.55,583.26 820.80,576.36 821.05,571.50 821.30,571.20 821.55,575.66 821.80,582.83 822.05,590.38 822.30,596.89 822.55,601.78 822.80,605.29 823.05,607.45 823.30,608.84 823.55,609.84 823.80,610.55 824.05,610.89 824.30,611.36 824.55,611.53 824.80,611.80 825.05,611.95 825.30,612.13 825.55,612.24 825.80,612.51 826.05,612.50 826.30,612.58 826.55,612.61 826.80,612.73 827.05,612.75 827.30,612.82 827.55,612.87 827.80,612.92 828.05,612.91 828.30,612.97 828.55,613.02 828.80,613.07 829.05,613.07 829.30,613.20 829.55,613.09 829.80,613.16 830.05,613.16 830.30,613.35 830.55,613.25 830.80,613.31 831.05,613.24 831.30,613.35 831.55,613.19 831.80,613.32 832.05,613.44 832.30,613.65 832.55,613.53 832.80,613.61 833.05,613.54 833.30,613.54 833.55,613.37 833.80,613.52 834.05,613.50 834.30,613.55 834.55,613.49 834.80,613.58 835.05,613.50 835.30,613.63 835.55,613.48 835.80,613.55 836.05,613.51 836.30,613.51 836.55,613.42 836.80,613.58 837.05,613.54 837.30,613.56 837.55,613.52 837.80,613.69 838.05,613.64 838.30,613.65 838.55,613.66 838.80,613.79 839.05,613.77 839.30,613.85 839.55,613.93 839.80,614.06 840.05,613.87 840.30,613.74 840.55,613.61 840.80,613.55 841.05,613.47 841.30,613.53 841.55,613.67 841.80,613.76 842.05,613.83 842.30,613.78 842.55,613.91 842.80,613.89 843.05,613.86 843.30,613.78 843.55,613.82 843.80,613.75 844.05,613.69 844.30,613.60 844.55,613.62 844.80,613.63 845.05,613.58 845.30,613.60 845.55,613.60 845.80,613.49 846.05,613.55 846.30,613.67 846.55,613.58 846.80,613.80 847.05,613.85 847.30,613.77 847.55,613.74 847.80,613.82 848.05,613.76 848.30,613.73 848.55,613.71 848.80,613.75 849.05,613.78 849.30,613.77 849.55,613.88 849.80,613.96 850.05,613.86 850.30,613.78 850.55,613.90 850.80,613.83 851.05,613.83 851.30,613.81 851.55,614.01 851.80,613.84 852.05,613.89 852.30,613.88 852.55,613.87 852.80,613.67 853.05,613.78 853.30,613.70 853.55,613.73 853.80,613.81 854.05,613.90 854.30,613.97 854.55,613.95 854.80,613.91 855.05,613.89 855.30,613.75 855.55,613.61 855.80,613.69 856.05,613.70 856.30,613.77 856.55,613.69 856.80,613.66 857.05,613.51 857.30,613.50 857.55,613.53 857.80,613.68 858.05,613.68 858.30,613.84 858.55,613.87 858.80,613.85 859.05,613.80 859.30,613.81 859.55,613.87 859.80,613.81 860.05,613.79 860.30,613.83 860.55,613.89 860.80,613.85 861.05,613.83 861.30,613.80 861.55,613.77 861.80,613.75 862.05,613.75 862.30,613.68 862.55,613.80 862.80,613.75 863.05,613.75 863.30,613.64 863.55,613.70 863.80,613.60 864.05,613.70 864.30,613.71 864.55,613.83 864.80,613.84 865.05,613.94 865.30,613.81 865.55,613.81 865.80,613.78 866.05,613.77 866.30,613.67 866.55,613.72 866.80,613.73 867.05,613.68 867.30,613.76 867.55,613.76 867.80,613.81"/>
</g>
<g fill="none" stroke-dasharray="12.3 4.45">
<line x1="45.4" y1="158.1" x2="45.4" y2="628.6" stroke="#6e6e6e" stroke-width="1.5"/>
<line x1="261.5" y1="158.1" x2="261.5" y2="628.6" stroke="#777" stroke-width="1.7"/>
<line x1="282.1" y1="158.1" x2="282.1" y2="628.6" stroke="#707070" stroke-width="1.9"/>
<line x1="403.9" y1="158.1" x2="403.9" y2="628.6" stroke="#8c8c8c" stroke-width="2.0"/>
<line x1="524.9" y1="158.1" x2="524.9" y2="628.6" stroke="#8c8c8c" stroke-width="2.0"/>
<line x1="619.8" y1="158.1" x2="619.8" y2="628.6" stroke="#8c8c8c" stroke-width="2.0"/>
<line x1="698.1" y1="158.1" x2="698.1" y2="628.6" stroke="#6e6e6e" stroke-width="1.5"/>
<line x1="832.5" y1="158.1" x2="832.5" y2="628.6" stroke="#777" stroke-width="1.8"/>
</g>
<g stroke="#000" fill="none">
<path d="M21.3 653.4H867.9" stroke-width="1.5"/>
<path d="M36.55 653.4V655.7 M52.25 653.4V657.7 M67.95 653.4V655.7 M83.64 653.4V657.7 M99.34 653.4V655.7 M115.03 653.4V657.7 M130.73 653.4V655.7 M146.43 653.4V657.7 M162.12 653.4V655.7 M177.82 653.4V657.7 M193.51 653.4V655.7 M209.21 653.4V657.7 M224.91 653.4V655.7 M240.60 653.4V657.7 M256.30 653.4V655.7 M271.99 653.4V657.7 M287.69 653.4V655.7 M303.39 653.4V657.7 M319.08 653.4V655.7 M334.78 653.4V657.7 M350.47 653.4V655.7 M366.17 653.4V657.7 M381.87 653.4V655.7 M397.56 653.4V657.7 M413.26 653.4V655.7 M428.95 653.4V657.7 M444.65 653.4V655.7 M460.35 653.4V657.7 M476.04 653.4V655.7 M491.74 653.4V657.7 M507.43 653.4V655.7 M523.13 653.4V657.7 M538.83 653.4V655.7 M554.52 653.4V657.7 M570.22 653.4V655.7 M585.91 653.4V657.7 M601.61 653.4V655.7 M617.31 653.4V657.7 M633.00 653.4V655.7 M648.70 653.4V657.7 M664.39 653.4V655.7 M680.09 653.4V657.7 M695.79 653.4V655.7 M711.48 653.4V657.7 M727.18 653.4V655.7 M742.87 653.4V657.7 M758.57 653.4V655.7 M774.27 653.4V657.7 M789.96 653.4V655.7 M805.66 653.4V657.7 M821.35 653.4V655.7 M837.05 653.4V657.7 M852.75 653.4V655.7" stroke-width="1.2"/>
</g>
<path d="M867.9 653.4V657.7" stroke="#cfcfcf" stroke-width="1" fill="none"/>
<clipPath id="axc"><rect x="0" y="655" width="867.9" height="40"/></clipPath>
<g clip-path="url(#axc)" font-family="'DejaVu Sans',sans-serif" font-weight="bold" font-size="11" text-anchor="middle" fill="#000">
<text x="54.2" y="672.2">3.4</text>
<text x="85.6" y="672.2">3.3</text>
<text x="117.0" y="672.2">3.2</text>
<text x="148.4" y="672.2">3.1</text>
<text x="179.8" y="672.2">3.0</text>
<text x="211.2" y="672.2">2.9</text>
<text x="242.6" y="672.2">2.8</text>
<text x="274.0" y="672.2">2.7</text>
<text x="305.4" y="672.2">2.6</text>
<text x="336.8" y="672.2">2.5</text>
<text x="368.2" y="672.2">2.4</text>
<text x="399.6" y="672.2">2.3</text>
<text x="431.0" y="672.2">2.2</text>
<text x="462.3" y="672.2">2.1</text>
<text x="493.7" y="672.2">2.0</text>
<text x="525.1" y="672.2">1.9</text>
<text x="556.5" y="672.2">1.8</text>
<text x="587.9" y="672.2">1.7</text>
<text x="619.3" y="672.2">1.6</text>
<text x="650.7" y="672.2">1.5</text>
<text x="682.1" y="672.2">1.4</text>
<text x="713.5" y="672.2">1.3</text>
<text x="744.9" y="672.2">1.2</text>
<text x="776.3" y="672.2">1.1</text>
<text x="807.7" y="672.2">1.0</text>
<text x="839.0" y="672.2">0.9</text>
<text x="870.4" y="672.2">0.8</text>
</g>
<text x="446.6" y="684.6" font-family="'DejaVu Sans Condensed','DejaVu Sans',sans-serif" font-weight="bold" font-size="10.6" text-anchor="middle" textLength="54.7" lengthAdjust="spacingAndGlyphs">f1 (ppm)</text>
<g font-family="'Liberation Sans',sans-serif" font-weight="bold" fill="#000">
<text x="2.6" y="222.2" font-size="20.3">A</text>
<text x="2.6" y="438.1" font-size="20.3">B</text>
<text x="2.6" y="590.4" font-size="20.3">C</text>
<text x="58.7" y="417.9" font-size="16" text-anchor="middle">6</text>
<text x="249.9" y="417.9" font-size="16" text-anchor="middle">8</text>
<text x="297.5" y="417.9" font-size="16" text-anchor="middle">7</text>
<text x="416.8" y="417.9" font-size="16" text-anchor="middle">4</text>
<text x="539.5" y="417.9" font-size="16" text-anchor="middle">9</text>
<text x="637.5" y="417.9" font-size="16" text-anchor="middle">3</text>
<text x="712.6" y="417.9" font-size="16" text-anchor="middle">2</text>
<text x="843.2" y="417.9" font-size="16" text-anchor="middle">1</text>
</g>
<g stroke="#000" stroke-width="1.7" fill="none" stroke-linecap="round" stroke-linejoin="round">
<path d="M24.4 42.6L44.2 53.9L63.1 42.6L82.2 53.9L101.3 42.9L112.3 49.2"/>
<path d="M99.2 42.9V27.6M103.4 42.9V27.6"/>
<path d="M127.4 49.6L139.2 42.6L158.2 53.9L170.7 46.4"/>
<path d="M183.6 47.0L195.8 53.9L214.9 42.6L234.1 53.9L246.3 46.5"/>
<path d="M259.9 47.0L272.3 53.9L290.6 42.9L301.6 49.2"/>
<path d="M289.3 18.6L302.2 11.3M291.6 22.2L304.4 14.8"/>
<path d="M290.4 19.9L279.2 13.7"/>
</g>
<path d="M290.6 43.4L288.6 19.6L292.6 19.6Z" fill="#000" stroke="#000" stroke-width="0.5" stroke-linejoin="round"/>
<g font-family="'Liberation Sans',sans-serif" font-weight="bold" fill="#000" text-anchor="middle">
<g font-size="14.6">
<text x="101.3" y="25.1">O</text>
<text x="120.1" y="58.5">N</text>
<text x="120.1" y="71.5">H</text>
<text x="177.4" y="48.2">S</text>
<text x="252.9" y="48.2">O</text>
<text x="309.8" y="15.0">O</text>
<text x="266.8" y="15.0">HO</text>
<text x="315.4" y="58.5">NH</text>
</g>
<text x="329.3" y="62.3" font-size="10.8">2</text>
<g font-size="10.8">
<text x="25.1" y="39.2">1</text>
<text x="42.7" y="66.2">2</text>
<text x="64.1" y="39.2">3</text>
<text x="82.5" y="66.2">4</text>
<text x="102.0" y="55.8">5</text>
<text x="120.0" y="43.4">a</text>
<text x="140.5" y="39.2">6</text>
<text x="157.5" y="66.0">7</text>
<text x="196.2" y="66.0">8</text>
<text x="215.6" y="39.0">9</text>
<text x="234.5" y="66.0">10</text>
<text x="272.3" y="66.0">11</text>
<text x="291.8" y="57.6">12</text>
<text x="281.0" y="29.1">13</text>
<text x="315.6" y="73.3">b</text>
</g>
<text x="177.4" y="93.2" font-size="20.5">18</text>
</g>
<g font-family="'Liberation Sans',sans-serif" font-weight="bold" fill="#000" font-size="24.5">
<text transform="translate(343.0,38.7) scale(1,0.83)" x="0" y="9.2" stroke="#000" stroke-width="0.35">=</text>
<text transform="translate(573.6,38.7) scale(1,0.83)" x="0" y="9.2" stroke="#000" stroke-width="0.35">=</text>
<text transform="translate(760.1,38.7) scale(1,0.83)" x="0" y="9.2" stroke="#000" stroke-width="0.35">=</text>
<text transform="translate(510.4,47.7) scale(1.1,1)" font-family="'Liberation Serif','DejaVu Serif',serif" font-weight="normal">β</text>
<text x="523.8" y="47.7">-CD</text>
<text transform="translate(694.5,47.7) scale(1.18,1)" font-family="'Liberation Serif','DejaVu Serif',serif" font-weight="normal">α</text>
<text x="710.2" y="47.7">-CD</text>
</g>
<g fill="none" stroke-width="5.2" stroke-linecap="round" stroke-linejoin="round">
<path d="M412.1 39.8C420 44 427 47.4 434.1 47.2C446 47 458 35.5 467.8 35.6C473 35.7 477 38 481.7 39.8" stroke="#444441"/>
<path d="M486.4 30.3C483.5 34 481.7 37 481.7 39.8C481.7 43.5 484 47 486.4 51" stroke="#444441"/>
<path d="M367.5 39.5C375 35.5 381 32.5 388.7 32.5C396 32.5 404 35.8 412.1 39.8" stroke="#b5c90f" stroke-linecap="butt"/>
<circle cx="367.5" cy="39.5" r="2.6" fill="#b5c90f" stroke="none"/>
</g>
<path d="M636.2 9.9Q637.3 8.6 638.8 9.4L673.6 25.5Q675.2 26.3 674.7 28Q662.2 60 634.6 77Q632.8 77.9 631.7 76.3L608.4 45.9Q607.6 44.9 608.3 43.9Q620.5 25.3 636.2 9.9Z" fill="#029cd0" stroke="#12303c" stroke-width="0.7" stroke-linejoin="round"/>
<path d="M818.3 12.9Q819.5 11.8 820.9 12.6L850.9 29.6Q852.5 30.5 851.8 32.3Q841.7 54.9 812.6 73.1Q810.9 74.1 809.9 72.4L791.5 43Q790.8 41.9 791.6 40.9Q803.5 25.3 818.3 12.9Z" fill="#7ab51d" stroke="#34520c" stroke-width="0.7" stroke-linejoin="round"/>
<g fill="none" stroke-width="4.8" stroke-linecap="round" stroke-linejoin="round">
<g stroke-width="4.1">
<path d="M884.1 169.0L886.8 161.3M884.1 169.0L874.7 171.6 M884.1 169Q889 170.8 895 175.5" stroke="#444441"/>
<path d="M907.5 205L917.7 209.1" stroke="#444441" stroke-linecap="butt"/>
</g><g stroke-width="4.5">
<path d="M917.7 209.1C924.5 211 929.5 214.3 933 218.5C936.5 223 938 229 939 235.3" stroke="#b5c90f"/>
</g>
<path d="M907.8 167.3L930.4 188.7Q913.9 209.3 889.3 214.9Q887.9 215.2 887.5 213.9L878.3 186.2Q892.2 175.4 907.8 167.3Z" fill="#029cd0" stroke="#0b5f80" stroke-width="0.5"/>
<path d="M895.1 177.5L901.1 174.3M881 184.2L886.8 183.5M895.7 205.7L911 196.1M907.8 167.3L930.4 188.7M887.6 214L878.3 186.2" stroke="#12303c" stroke-width="0.6"/>
<g stroke-width="4.4">
<path d="M1005.5 229L1006 235.2" stroke="#b5c90f"/>
<path d="M950.6 168.8L953.8 161.3M950.6 168.8L941.1 172.0 M950.6 168.8C956 170.5 959 172.5 960.6 176C963 181.5 963.3 187.5 965.6 194C968 200 972 203.5 979.5 207.2" stroke="#444441"/>
</g>
<path d="M997 193Q998.4 192 999.4 193.6L1014.3 217.2Q1015 218.4 1014.3 219.5Q1004.7 232.7 992 242.2Q990.7 243.2 989.5 242.5L965.2 227.2Q963.8 226.3 964.6 224.8Q977.6 205.7 997 193Z" fill="#029cd0" stroke="#12303c" stroke-width="0.6"/>
<g stroke-width="4.6">
<path d="M931.4 371.4L934.1 363.7M931.4 371.4L921.8 373.8 M931.4 371.4C936 373 938.5 374.5 940 378C942.5 384 943.3 390 945.3 395.5C948 402 953 406 964.2 411.4" stroke="#444441"/>
<path d="M964.2 411.4C972 414 977 417 980.5 421.5C984 426.5 985.3 431.5 986.2 436.7" stroke="#b5c90f" stroke-linecap="butt"/>
<circle cx="986.2" cy="436.7" r="2.4" fill="#b5c90f" stroke="none"/>
</g>
<g stroke-width="4.4">
<path d="M950.6 600.3L951.2 601.3" stroke="#b5c90f"/>
<path d="M896.4 535.2L898.8 527.7M896.4 535.2L886.6 538.1 M896.4 535.2C901 537 903.5 538.5 905 542C907.5 548 908.6 555 911.7 562.2C914 567 919 571.5 929.5 576.4" stroke="#444441"/>
</g>
<path d="M943.2 564.9Q944.5 564 945.4 565.4L960 585.8Q960.8 587 960.1 588.1Q951.6 599.9 940.8 609.2Q939.6 610.2 938.4 609.5L916 597.4Q914.7 596.7 915.5 595.3Q927.2 578.3 943.2 564.9Z" fill="#7ab51d" stroke="#34520c" stroke-width="0.6"/>
<g stroke-width="4.1">
<path d="M963.8 535.2L966.7 527.7M963.8 535.2L954.4 538.1 M963.8 535.2C969 537.2 971 538.5 972.9 541.5C974.5 544.3 975.3 547.5 976 552" stroke="#444441"/>
<path d="M995.5 575.5L997.2 576" stroke="#444441" stroke-linecap="butt"/>
</g><g stroke-width="4.5">
<path d="M997 575.8C1002 577 1006 579 1009 581.5C1012 584 1014 586 1015.5 589C1017.5 593 1018.5 597 1019 601.7" stroke="#b5c90f"/>
</g>
<path d="M989.7 542.2L1011.3 558.5Q998.9 578 978.7 586.5Q977.4 587 976.9 585.8L965.5 561.7Q976.7 550.8 989.7 542.2Z" fill="#7ab51d" stroke="#4b7a12" stroke-width="0.5"/>
<path d="M987.6 545L989.4 543.1M977.5 554L982.2 550.4M966.5 560.5L970.1 559.2M982 578L993.4 568.3M989.7 542.2L1011.3 558.5M976.9 585.8L965.5 561.7" stroke="#2a420a" stroke-width="0.6"/>
</g>
</svg>
</body></html>
